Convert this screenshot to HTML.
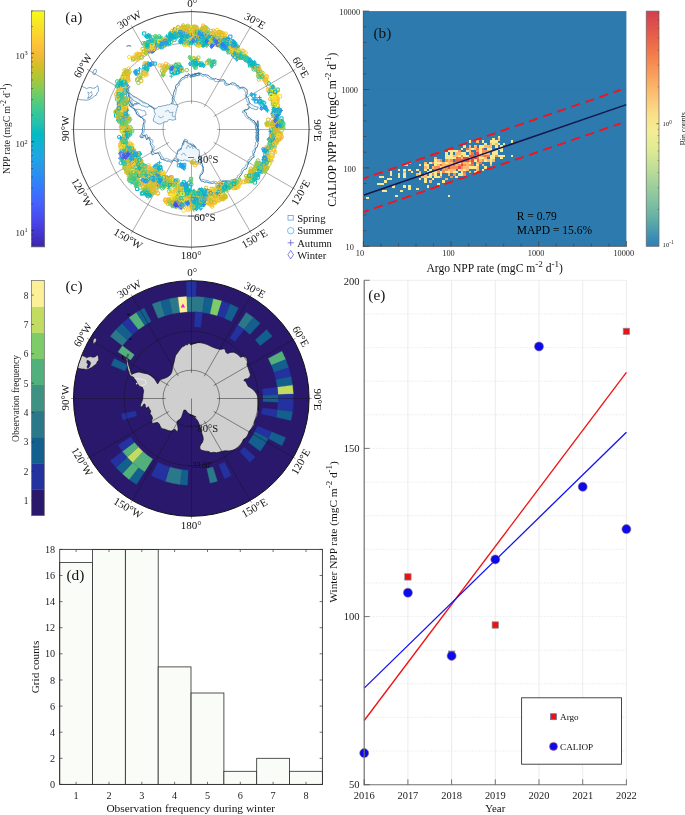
<!DOCTYPE html>
<html><head><meta charset="utf-8"><title>Figure</title>
<style>html,body{margin:0;padding:0;background:#fff}svg{display:block}text{font-family:"Liberation Serif", "DejaVu Serif", serif}</style></head><body>
<svg width="685" height="815" viewBox="0 0 685 815">
<rect width="685" height="815" fill="#fff"/>
<defs>
<linearGradient id="gpar" x1="0" y1="1" x2="0" y2="0"><stop offset="0.000" stop-color="#3e26a8"/><stop offset="0.048" stop-color="#4332cb"/><stop offset="0.095" stop-color="#4741e5"/><stop offset="0.143" stop-color="#4852f4"/><stop offset="0.190" stop-color="#4563fd"/><stop offset="0.238" stop-color="#3875fe"/><stop offset="0.286" stop-color="#2e87f7"/><stop offset="0.333" stop-color="#2797eb"/><stop offset="0.381" stop-color="#20a5e3"/><stop offset="0.429" stop-color="#12b1d6"/><stop offset="0.476" stop-color="#02bac3"/><stop offset="0.524" stop-color="#24c1ae"/><stop offset="0.571" stop-color="#37c897"/><stop offset="0.619" stop-color="#57cc7a"/><stop offset="0.667" stop-color="#81cc59"/><stop offset="0.714" stop-color="#abc739"/><stop offset="0.762" stop-color="#d1bf27"/><stop offset="0.810" stop-color="#f0ba36"/><stop offset="0.857" stop-color="#fec338"/><stop offset="0.905" stop-color="#fad62d"/><stop offset="0.952" stop-color="#f5e924"/><stop offset="1.000" stop-color="#f9fb15"/></linearGradient>
<linearGradient id="gspec" x1="0" y1="1" x2="0" y2="0"><stop offset="0.000" stop-color="#2f7fb3"/><stop offset="0.035" stop-color="#3b8cb5"/><stop offset="0.080" stop-color="#4fa0ad"/><stop offset="0.130" stop-color="#68b3a4"/><stop offset="0.200" stop-color="#86c4a0"/><stop offset="0.270" stop-color="#a3d29c"/><stop offset="0.345" stop-color="#c5e096"/><stop offset="0.415" stop-color="#e0eb93"/><stop offset="0.485" stop-color="#f3ee96"/><stop offset="0.555" stop-color="#fbe08a"/><stop offset="0.625" stop-color="#fcc878"/><stop offset="0.700" stop-color="#fbab63"/><stop offset="0.770" stop-color="#f78f54"/><stop offset="0.840" stop-color="#f0734a"/><stop offset="0.910" stop-color="#e55a4b"/><stop offset="1.000" stop-color="#d43d4f"/></linearGradient>
<clipPath id="clipA"><circle cx="191.3" cy="129.4" r="117.7"/></clipPath>
<clipPath id="clipC"><circle cx="191.3" cy="398.5" r="117.7"/></clipPath>
<clipPath id="clipB"><rect x="363.4" y="11.1" width="263" height="235.2"/></clipPath>
<clipPath id="clipE"><rect x="364.2" y="280.3" width="262.2" height="504.4"/></clipPath>
</defs>
<g id="panelA">
<rect x="31.4" y="10.9" width="13.3" height="236" fill="url(#gpar)" stroke="#666" stroke-width="0.7"/>
<line x1="31.4" x2="34" y1="53.3" y2="53.3" stroke="#222" stroke-width="0.7"/>
<text x="15.6" y="58.9" font-size="9" fill="#1a1a1a">10<tspan dy="-3.8" font-size="6.3">3</tspan></text>
<line x1="31.4" x2="34" y1="141.8" y2="141.8" stroke="#222" stroke-width="0.7"/>
<text x="15.6" y="147.4" font-size="9" fill="#1a1a1a">10<tspan dy="-3.8" font-size="6.3">2</tspan></text>
<line x1="31.4" x2="34" y1="230.4" y2="230.4" stroke="#222" stroke-width="0.7"/>
<text x="15.6" y="236" font-size="9" fill="#1a1a1a">10<tspan dy="-3.8" font-size="6.3">1</tspan></text>
<line x1="31.4" x2="32.9" y1="244.1" y2="244.1" stroke="#222" stroke-width="0.5"/>
<line x1="31.4" x2="32.9" y1="239" y2="239" stroke="#222" stroke-width="0.5"/>
<line x1="31.4" x2="32.9" y1="234.5" y2="234.5" stroke="#222" stroke-width="0.5"/>
<line x1="31.4" x2="32.9" y1="203.7" y2="203.7" stroke="#222" stroke-width="0.5"/>
<line x1="31.4" x2="32.9" y1="188.2" y2="188.2" stroke="#222" stroke-width="0.5"/>
<line x1="31.4" x2="32.9" y1="177.1" y2="177.1" stroke="#222" stroke-width="0.5"/>
<line x1="31.4" x2="32.9" y1="168.5" y2="168.5" stroke="#222" stroke-width="0.5"/>
<line x1="31.4" x2="32.9" y1="161.5" y2="161.5" stroke="#222" stroke-width="0.5"/>
<line x1="31.4" x2="32.9" y1="155.6" y2="155.6" stroke="#222" stroke-width="0.5"/>
<line x1="31.4" x2="32.9" y1="150.4" y2="150.4" stroke="#222" stroke-width="0.5"/>
<line x1="31.4" x2="32.9" y1="145.9" y2="145.9" stroke="#222" stroke-width="0.5"/>
<line x1="31.4" x2="32.9" y1="115.2" y2="115.2" stroke="#222" stroke-width="0.5"/>
<line x1="31.4" x2="32.9" y1="99.6" y2="99.6" stroke="#222" stroke-width="0.5"/>
<line x1="31.4" x2="32.9" y1="88.5" y2="88.5" stroke="#222" stroke-width="0.5"/>
<line x1="31.4" x2="32.9" y1="80" y2="80" stroke="#222" stroke-width="0.5"/>
<line x1="31.4" x2="32.9" y1="72.9" y2="72.9" stroke="#222" stroke-width="0.5"/>
<line x1="31.4" x2="32.9" y1="67" y2="67" stroke="#222" stroke-width="0.5"/>
<line x1="31.4" x2="32.9" y1="61.9" y2="61.9" stroke="#222" stroke-width="0.5"/>
<line x1="31.4" x2="32.9" y1="57.4" y2="57.4" stroke="#222" stroke-width="0.5"/>
<line x1="31.4" x2="32.9" y1="26.6" y2="26.6" stroke="#222" stroke-width="0.5"/>
<line x1="31.4" x2="32.9" y1="11.1" y2="11.1" stroke="#222" stroke-width="0.5"/>
<text x="10" y="128.8" font-size="9.55" text-anchor="middle" fill="#1a1a1a" transform="rotate(-90 10 128.8)">NPP rate (mgC m<tspan dy="-4.2" font-size="76%">-2</tspan><tspan dy="4.2"> d</tspan><tspan dy="-4.2" font-size="76%">-1</tspan><tspan dy="4.2">)</tspan></text>
<text x="65.3" y="22.2" font-size="15.3" text-anchor="start" fill="#1a1a1a">(a)</text>
<g stroke="#2a2a2a" stroke-width="0.4" fill="none">
<circle cx="191.3" cy="129.4" r="28.3"/>
<circle cx="191.3" cy="129.4" r="86.8"/>
<line x1="191.5" y1="103.7" x2="191.5" y2="9.2"/>
<line x1="204.2" y1="107.1" x2="251.4" y2="25.3"/>
<line x1="213.6" y1="116.5" x2="295.4" y2="69.3"/>
<line x1="217" y1="129.5" x2="311.5" y2="129.5"/>
<line x1="213.6" y1="142.3" x2="295.4" y2="189.5"/>
<line x1="204.2" y1="151.7" x2="251.4" y2="233.5"/>
<line x1="191.5" y1="155.1" x2="191.5" y2="249.6"/>
<line x1="178.4" y1="151.7" x2="131.2" y2="233.5"/>
<line x1="169" y1="142.3" x2="87.2" y2="189.5"/>
<line x1="165.6" y1="129.5" x2="71.2" y2="129.5"/>
<line x1="169" y1="116.5" x2="87.2" y2="69.3"/>
<line x1="178.4" y1="107.1" x2="131.2" y2="25.3"/>
</g>
<path d="M189.9 75.8L191.3 75.3L192.7 74.2L193.2 74.6L195.2 73.5L197.9 73.3L199.4 73.5L200.9 73.3L202.7 74.6L204.3 74.8L205.6 74.4L206.9 75.4L207.5 75.1L209.4 76.2L210.4 77.3L211.5 78L212.6 78.4L214.1 79.1L216.1 78.6L216.7 79.2L219.4 79.9L220.8 80.1L222.4 79.8L223.9 79.7L225.4 81.4L225.8 82.6L226.3 83.9L227.8 84.1L229.5 84.4L231 83.4L232.3 82.8L233.9 83.1L234.7 83.2L236.8 85L237.1 85.7L238.6 85.8L239.3 87.5L240.9 87.6L241.8 87.2L243.1 87.2L245.6 88.3L246 89.3L246.7 89.2L247.3 90.6L247.1 92.5L247.3 93.7L246.3 96L247.3 97.6L248.5 98.3L248.4 99.7L249 100.9L249.3 102.1L250.1 103.2L249.9 104.6L250.1 105.2L250.7 106.7L249.9 107.2L248.5 108.8L246.9 109.7L245.3 109.4L243.9 111.3L245.9 112.3L246.6 113.9L246.3 114.3L247.7 116.5L247.8 117.1L249.6 117.8L250.8 118.7L251.8 119.8L252.7 120.3L254.2 120.7L254.8 122.5L255.2 122.9L256.6 123.9L256.4 125.3L257.5 126L257.5 127.5L258.4 129.3L258.6 130.8L258.1 132.9L258.9 134.2L258.2 135.4L258.5 136.8L258.8 138.9L257.9 139.5L258.6 141.3L258.5 139.7L257.7 138.4L258.4 137.1L257.8 136L257.9 134.7L258.4 133.2L257.3 132.9L258.3 131.7L257.7 130.4L258.2 128.3L258 127.8L257.8 126.1L257.3 124.7L257.2 123.1L257.6 122.1L257.8 120.6L258.2 122.9L258.5 124.7L258.7 125.9L257.8 127.6L258.1 128.6L258.8 130.5L258.4 132.5L258.5 133.4L257.9 135.5L258.1 137L257.9 137.9L258 140.2L257.5 141.9L258.3 143.7L257.8 144.5L257.2 147.2L255.8 148L255.4 149.7L255 151.1L254.8 152L253.8 153.6L253.8 155L254.1 157.1L252.2 157.9L251.6 158.8L250.8 160.4L250.2 160.9L248.9 161.8L248.4 163.2L248.7 164.2L247.4 165.1L247.3 166.8L246.9 167.7L246.1 169.1L244.5 169.4L243.4 170.4L242.7 171.8L242.2 172.8L241.4 174.8L240 175.9L239.2 177.6L238.7 178.2L237.2 179.6L234.9 180L233.3 181L232.5 181.7L230.9 181.7L229.1 181.9L226.6 181.8L224.7 181.2L224.2 181.3L221.9 181.6L221.4 182.1L218.9 183.4L217.5 183.7L216.7 184L215.6 183.5L214 182.7L212.5 183.4L210.9 183.1L209.2 182.9L206.1 181.9L204.3 182.2L202.8 181.2L201.6 181.4L200.5 180L199.7 177.6L200.1 176.5L200.3 175.4L202.2 174.1L202.8 172.7L203.2 171.9L203.5 170.2L203.1 168.9L203.3 166.8L201.9 166.1L202.4 164.3L201.6 163.1L201 161.1L200.6 160L200.3 158.2L200.2 157.6L199.1 155.8L198.7 154.5L198.3 152.4L197.1 150.9L196.6 150.2L195.4 149.3L194.7 148.9L193.3 148.4L192.6 147.1L191.4 147L190.6 146.3L191.4 146.8L193 146.8L194.1 147.8L194.9 147.3L195.8 148.2L195.2 147.9L194.3 146.5L192.3 145.9L190.8 145.9L190.2 145.5L188.3 144.6L187.2 143.2L186.8 141.6L185.2 141.4L183.6 140.8L183.6 142.3L182.5 143.1L182.7 144.4L182 145.7L182.5 146.7L181.6 147.5L180.4 149.3L179.3 150.8L178.6 150.7L177.4 152.5L177.5 154.7L177.2 156.3L178 158.3L177.8 159.9L178.4 161.3L177.8 162.1L176.3 161.8L175.4 160.4L173.5 160.4L172.4 161.5L170.7 162.4L169.8 161.2L168.7 161L166.5 161.1L165.3 160.3L163.9 159.9L162.1 159.3L160.9 159L160.8 157.9L160.2 156.3L159.1 154.8L158.9 153.5L157.6 152.9L156.5 153.3L154.5 153.7L153.6 154.4L152.2 154.8L151.5 152.8L151.1 151.2L152.5 150.7L152.3 148.8L152 148L151.9 146.5L150.1 144L150.3 142.9L150.9 142.2L149.8 140.7L149.8 139.2L149.2 139.1L148.8 137.3L147.5 138.4L146.7 139.8L145.6 137.2L145.6 136.1L145.1 135.2L143 135.4L142.9 136.6L141.9 138L140 136.9L140.1 135.7L141.2 134.5L141.6 134L142.4 131.9L142.8 131.3L142.3 129.4L142.6 127.6L143.1 127.1L142.9 125.5L143.7 122.9L144.2 121.7L143.8 120.7L143.2 119.1L142.8 118.6L141.4 117.5L139.8 117.1L138 115.3L136.9 114.2L136.4 113.4L136.5 112.3L135.6 111.3L134.6 110L134.3 108.8L132.8 108.3L132 107.2L129.9 106.4L129.2 104L128.2 102.8L128.8 101.5L128 100.2L127.4 98.7L127.3 97.2L126.5 95.7L126.4 94.7L126 92.6L126.4 91.6L126.6 89.8L126.4 88.7L126.2 87.9L126.9 85.8L127.7 84.8L128.8 85.2L127.5 86L128 87.6L127.8 89.1L128.2 90.3L127.5 91.8L128.5 93.7L128.2 94.5L129.1 97L129.4 97.3L129.2 98.9L129.9 100.3L130.1 102.5L131.5 103.4L132.1 105.5L132.9 105.4L134.8 103.5L135.2 103.9L137.1 102.9L138.7 103.3L139.9 103.2L141.7 103.9L143.8 103.6L145.1 104.6L146.6 104.7L148.2 104.7L148.8 105.2L150.4 106L150.9 106.5L152.6 107.9L153.8 108.8L154.7 109.7L155.7 110.7L156.2 112.8L157.1 113.2L157.3 115.2L159 113.5L159.8 111.8L160.4 111L160.9 110.2L161.8 109.8L164.3 109L165.3 108.5L165.9 108.6L167.2 107.3L168.3 107.1L170 105.5L170.4 105.5L171.3 103.8L171.8 102.9L172.3 101.7L172.4 99.6L172.2 98L173.4 96.5L172.8 96.1L173.4 94.6L173.7 92.6L174.2 91.3L175 89.3L175.6 88.1L175.5 86.3L176.5 84.6L177.9 84L178.7 82.4L179.3 81.5L180.4 79.9L180.8 79.2L181.3 78.4L183 77.4L184.7 77L185.3 75.2L188 75.9L187.9 74.5L188.2 73.5L190.8 75.4L191.9 75.4L192.8 75L193.9 74.1L195.5 74.4L196.8 73.6L198 73.3L199.5 73.6L200 73.3L198.6 72.7L198 73.3L196.5 74L194.7 74.5L193.7 74.5L192.6 75.3L191.8 75.1Z" fill="none" stroke="#2f76a6" stroke-width="0.95" stroke-linejoin="round"/>
<path d="M190.2 77.2L191.9 77.1L192.6 76.7L193.3 75.9L195.5 75.6L196.6 75.1L198.3 75.9L200.7 74.9L202.7 76.4L204.1 76.1L204.7 75.6L206.2 76.4L206.9 77.2L208 77.5L209.4 79.1L210.8 79L212.2 79.6L213.6 79.6L215.2 81.6L216.6 81.5L217.6 81.5L219.4 81.5L222 81L223.6 80.8L224.8 82.8L224.2 82.9L225 85L227.1 85.6L227.7 85.1L229.5 84.6L230.6 84L232.5 84.9L233.3 84.7L234.7 85.2L236.7 86.1L237.5 87.3L238.1 88.4L239 89.2L239.6 89L241.3 88.1L244.1 89.3L244.6 90L244.8 90.9L245.8 92.5L245.4 94.3L245.2 94.9L245.6 96.3L245.6 97.5L246.4 99.2L246.6 100.5L246.9 101.7L248.4 102.6L247.8 104.4L247.7 104.8L249.3 106.5L248.3 106.9L248.5 108.9L246.8 109.7L245.8 110.4L243.5 110L242 112.3L244.1 113.1L244.2 114.5L244.9 115.2L245.4 116.6L245.9 117.2L247.8 118.8L249.2 119L250.9 119.6L250.6 120.5L252.1 121L252.5 122.3L254.1 122.9L254.6 124.7L255.7 125.6L255.3 126.7L255.7 127.2L255.6 129.9L256.9 131.6L256.4 132.8L257.1 134.4L256.3 136.2L256 137L257 138.7L256.7 139.7L256.7 141.2L255.9 139.7L256.4 138.7L256.3 137.5L256.2 136L255.9 134.5L256.2 133.6L255.3 132.4L256.6 131.5L256.4 129.7L256.4 128.7L255.5 127.8L255.7 126.4L255.7 125.1L255.5 123.5L255.7 122.6L255.8 121.8L255.4 122.3L256.4 124.5L256.4 125.5L257.2 127.6L256.7 129.3L256.9 130.6L256.8 131.9L257.1 133.9L256.5 134.8L256.1 136.2L255.7 138L256.6 139.9L256.6 141.8L255.4 142.5L255.6 144.4L254.8 146.2L255.2 147.9L254 149.6L253.7 150.5L252.1 151.4L252.8 152.8L252.8 154.9L251.7 156.4L250.5 156.7L250 157.6L249.9 159.2L248.1 159.8L248 161.2L247.2 162.3L247.6 164.1L246.5 164.1L245.6 165.1L245 167L244.5 167.6L242.8 168.3L242 168.9L241.5 170.7L240.9 172.4L240.6 173L239.4 174.7L237.4 175.6L237.3 177.8L235.6 178.3L234.7 179.4L233.4 179.6L231.4 179.6L229.9 180.7L227.7 180.4L225.7 180.6L225 180.9L222.9 180.6L221.4 181.1L220.4 180.8L218.3 181.6L217.4 182.3L215.9 181.7L214.7 181.4L213.2 181.1L211.3 182L209.8 181.9L208.3 180.8L206.4 180.3L204.3 179.9L203.1 179.1L201.4 180L199.6 178.6L199.7 176.4L200.3 174.7L200.3 173.8L201.6 172.8L201.8 172L202.9 169.8L203 168.3L202.8 167.4L202.5 165.1L202.5 164.3L201.2 162.6L201.2 161.3L201 159.2L200.4 158.1L200.4 156.9L199.3 155.7L198.4 153.7L198.6 152.9L197.6 150.6L196.5 149.5L196.7 148.4L195.7 147L194.3 146.5L193.7 145.8L192.3 145.8L191 144.8L190 144L191.1 144.6L192.5 145.3L193.4 145L194.7 145.9L195.5 146.8L194.9 146.1L193.9 144.9L192.9 143.9L191.5 144.3L190.4 143L188.6 143.3L187.6 142L187.6 140.1L186.1 139.6L184.5 139.1L184.7 140.6L184.2 141.6L183.3 143.5L182.6 143.8L182.9 145.9L183 145.8L181.7 147.6L180.8 148.8L178.6 149.3L177.3 150.8L178.1 153L178.4 154.2L178.2 155.9L179.3 158.2L178.9 159.4L177.9 161.5L177 160.7L175.9 158.5L174.4 158.9L173.4 159.1L172.3 160.8L170.3 160L169.5 159.7L167.6 158.8L166.5 158.2L165.5 158.8L163.6 158.9L163.1 157.2L161.9 156.8L161.9 155.6L160.7 154.1L160.5 153.1L159.8 151.8L157.7 153.2L156.2 153.2L155.1 153.1L154 153L153 152.3L152.6 150.7L153.5 149.9L153.8 148.9L154.3 146.6L153.5 145.5L151.7 143.7L152.3 143L153.1 141.8L152.5 139.9L151 139.7L150.2 138.2L149.6 136.8L149.1 137.5L147.8 139.3L147.5 137.1L147.3 136L147.1 134.9L146 134.4L144.3 136.6L143.2 138.2L141.4 136.6L142.1 135.5L142.7 133.9L143.6 133.2L144.1 132.3L144 130.9L144.7 129.6L144.6 128.3L144.4 126.1L144.3 124.7L144.7 123.8L145.1 122.3L145 120.2L145.5 120.2L143.3 118.8L142.9 118.1L142.1 117.4L140.4 116.8L138.9 114.9L139 114.3L137.6 112.2L137.6 111.6L136.3 110.1L135.5 109L134.3 108.5L133.3 107.7L131.4 106.8L130.9 104.9L130.9 104.3L130.6 102.5L129.1 101.6L129.3 99.8L129 98.2L129 97.1L128.5 95.7L128 93.5L127.4 93L128.2 91.6L127.6 89.3L127.8 88.1L129.1 87L129.5 85.9L129.9 86.8L129.7 87.9L128.7 88.5L128.7 89.9L129.1 91.7L129.2 92.7L130.2 94.6L130.5 95.6L130.1 96.8L130.8 98.4L131.8 100.8L131.8 101.6L132.6 103.5L132.5 104.3L133 106.6L133.5 105.1L135.7 104.7L137.1 104.2L138.3 103.6L140.3 103.9L141.8 104.1L143.3 104.6L144.3 104.3L146.2 105.4L147.8 105.1L149.2 105.7L150.7 106.7L151.7 106.7L152.7 107.4L153.7 108.6L155.7 110.3L156.1 110.9L156.6 111.8L157.4 113L158.5 114.6L159.6 115.6L160.7 113.9L160.7 113.1L162.1 111.5L162.1 111.3L163.5 110.8L165.9 110.8L166.7 109.4L167.5 109.6L168.3 108.4L170.2 108.6L170.7 107.6L171.3 106.3L173 105L172.6 104.3L173.1 102.9L173.4 101.5L174.1 100.4L174 98.9L174.5 97.5L174.9 95.3L175.4 94.6L175.8 93.2L175.9 91.2L176.6 89.8L176.5 88.5L177.5 86.5L178 85.5L179.2 85.3L179.6 83.1L180.1 81.6L181.1 81.3L181.7 79.9L182.6 79.4L185 78.5L185.4 77.2L187.6 77.9L187.6 76.7L188.3 75.4L190.1 77.4L191.6 76L192.3 76.5L193.4 76.3L194.7 76L196.5 75.6L197.1 75.9L199.2 74.5L200.1 74.6L198.8 74.5L197.1 75.5L196.7 75.5L195.1 76.3L193.7 76.8L192.9 76.1L191 76.6Z" fill="none" stroke="#2f76a6" stroke-width="0.55" stroke-linejoin="round"/>
<path d="M154.2 108.9L155.9 108.4L157.4 107.7L158.2 106.6L161.1 106.5L163 105.7L164.6 105.5L166.1 105.4L167 104.7L168.7 104.9L170.7 103.8L172.4 103.9L174 104L175.2 104.9L177.1 104.4L177.7 106.8L176.8 108.6L176.8 110.1L175.9 111.9L175.9 113.5L175.5 114.4L175.3 115.8L175.3 117.3L175.8 119.4L173.6 120L172 120.2L171.1 119.8L169.1 119.3L168.3 120.3L167.4 121.7L164.2 121.9L161.7 123.6L160.6 124L158.8 124L157 123.3L154.9 121.9L153.3 121.1L153.4 118.7L154.3 117.2L154.4 115.7L155.5 114.4L154.2 111.5Z" fill="#eef6fb" stroke="#2f76a6" stroke-width="0.6" stroke-linejoin="round"/>
<path d="M184.8 140.8L186.3 142L187.6 143L188.2 143.6L190.6 144.6L192.1 145L193.1 146L194.6 147.2L195.5 147.8L197.1 149.4L199 149.7L199.3 151.7L199.4 153.7L199 156L199.3 156.9L200.3 159.1L200 160.9L200.6 162.4L200.7 164.4L199.6 164.2L198.2 163.2L196.1 162.8L194.2 162.4L192.9 162.5L191.2 162.1L190 161.3L189 161.1L187 160.9L185.8 160.3L184.6 160L182.8 160.6L180.5 160.4L179.3 160L176.6 158.2L176.5 157.4L176.2 155.5L177.5 153.9L177.4 151.6L178.8 151L179.6 150L181.5 149.2L181.5 147.7L182.3 145.5L183.6 144.5L183.9 142.8Z" fill="#eef6fb" stroke="#2f76a6" stroke-width="0.6" stroke-linejoin="round"/>
<path d="M129.4 92.6L130.9 94.2L132.2 95.5L132.8 96.4L135.4 97.5L137 98L138.3 99.1L140 100.5L141.1 101.1L143.1 102.8L145.6 103.1L147.6 104L148.9 104.8L149.8 106.3L148.5 106.1L147.8 107.3L145.4 106.9L144 106.1L142 105.8L140.8 105L139.4 103.5L137.2 102.6L135.6 101.5L134.4 101L132.8 100.1L132 98.5L131.3 97.5L129.6 96.4L129.8 94Z" fill="#eef6fb" stroke="#2f76a6" stroke-width="0.6" stroke-linejoin="round"/>
<path d="M250.4 103.6L251.9 104.7L253.2 105.5L253.8 105.9L256.5 106.8L258.2 107L257.3 109.6L255.3 109.5L252.8 108.6L251.1 108.3L249.6 106.6L248.3 105.5L246.9 104.5L248.1 104.5Z" fill="#eef6fb" stroke="#2f76a6" stroke-width="0.6" stroke-linejoin="round"/>
<path d="M134.5 109.8L135.7 109.7L137 109.4L139.1 109.4L140.1 109.8L141.3 110.1L142.4 110.7L143.6 110.5L144.9 110.9L145.6 112.6L145.9 113.1L146.1 115L144.6 115.3L143.5 115.9L142.2 116.6L141 117.1L140.1 116.4L138.2 115.2L137.7 114.9L136.3 113.8L135.9 112.1L135.6 110.5Z" fill="none" stroke="#2f76a6" stroke-width="0.6" stroke-linejoin="round"/>
<path d="M165 112l3 -2l2 3l3 -1l-1 4l3 1M158 116l3 2l3 -2M186 149l2 -4l2 3l2 -3l1 4M181 155l3 -2l2 3" fill="none" stroke="#2f76a6" stroke-width="0.5"/>
<g clip-path="url(#clipA)"><path d="M79.2 84.8L80.8 85.5L83.2 86.9L84.8 87.5L86.5 88.7L88.5 87.8L90.3 87.5L92.6 88.2L94.9 88L96.3 86.8L97.7 85.6L98.3 87.5L98.5 89.6L98.8 90.9L97.7 91.9L96.9 93.3L96.1 95.4L94.7 95.7L93.3 97.2L91.7 98.3L90.3 99L88.6 99.9L87.8 100L85.9 100.3L84 99.9L82.3 100L80.8 99.7L79.1 99.5L78 99L75.6 99.5L73.5 99.4L72.7 97.6L72.8 95.8L72.6 94.2L72.3 92.6L72 91.2L71.3 89.4L72.7 88.6L73.6 87.5L75.1 87.2L76.4 85.7L77.8 85.4Z" fill="none" stroke="#2f76a6" stroke-width="0.65"/>
<path d="M87.8 91.9l2 1.5l1.5 -2l1 3l-2 3l-2.5 1l1 -3z M87.3 98.4l3 -1.5l2 -2" fill="none" stroke="#2f76a6" stroke-width="0.5"/></g>
<ellipse cx="94.7" cy="71.9" rx="1.5" ry="2.9" transform="rotate(22 94.7 71.9)" fill="none" stroke="#2f76a6" stroke-width="0.6"/>
<path d="M126.5 46.3 q2.3 -1.2 4.6 -0.2" fill="none" stroke="#2f76a6" stroke-width="1"/>
<g fill="none" stroke-width="1" clip-path="url(#clipA)">
<g stroke="#dabd28">
<path d="M223.1 184.7h3.2v3.2h-3.2zM273.9 129.3h3.2v3.2h-3.2zM215.9 183h3.2v3.2h-3.2zM185.2 40.6h3.2v3.2h-3.2zM173.6 199.3h3.2v3.2h-3.2zM178 195h3.2v3.2h-3.2zM117.7 112.2h3.2v3.2h-3.2zM153.8 180.5h3.2v3.2h-3.2zM185.5 40.9h3.2v3.2h-3.2zM261 75.1h3.2v3.2h-3.2zM199.8 31.2h3.2v3.2h-3.2zM173.4 68.1h3.2v3.2h-3.2zM167.2 177.1h3.2v3.2h-3.2zM160.7 41.3h3.2v3.2h-3.2zM168.8 181.2h3.2v3.2h-3.2zM205.7 194.7h3.2v3.2h-3.2zM210.2 203.4h3.2v3.2h-3.2zM275.6 120.2h3.2v3.2h-3.2zM274 121.2h3.2v3.2h-3.2zM258.5 69h3.2v3.2h-3.2zM221.1 188.8h3.2v3.2h-3.2zM124.1 78.1h3.2v3.2h-3.2zM182 26.9h3.2v3.2h-3.2zM141 47.6h3.2v3.2h-3.2zM249.2 174.2h3.2v3.2h-3.2zM121.7 97h3.2v3.2h-3.2zM169.8 179.7h3.2v3.2h-3.2zM177.6 202.3h3.2v3.2h-3.2zM123.6 156h3.2v3.2h-3.2zM169.4 183.4h3.2v3.2h-3.2zM190.1 35.2h3.2v3.2h-3.2zM207.4 40h3.2v3.2h-3.2zM119.3 149.7h3.2v3.2h-3.2zM186.4 197.1h3.2v3.2h-3.2zM116.9 88.6h3.2v3.2h-3.2zM146.4 48.3h3.2v3.2h-3.2zM129.1 164h3.2v3.2h-3.2z"/>
<circle cx="196.7" cy="32.7" r="1.75"/><circle cx="234.8" cy="182.4" r="1.75"/><circle cx="202.9" cy="45.4" r="1.75"/><circle cx="270.7" cy="138.9" r="1.75"/><circle cx="273.3" cy="142.3" r="1.75"/><circle cx="231.2" cy="50.2" r="1.75"/><circle cx="280.9" cy="133.7" r="1.75"/><circle cx="217.8" cy="45.2" r="1.75"/><circle cx="274.3" cy="112.4" r="1.75"/><circle cx="262.9" cy="168.9" r="1.75"/><circle cx="146.4" cy="63.6" r="1.75"/><circle cx="192.7" cy="198.6" r="1.75"/><circle cx="249.1" cy="175.4" r="1.75"/><circle cx="217.8" cy="187.9" r="1.75"/><circle cx="121.5" cy="120.9" r="1.75"/><circle cx="126.1" cy="76.3" r="1.75"/><circle cx="214.9" cy="202.9" r="1.75"/><circle cx="275.3" cy="121.8" r="1.75"/><circle cx="128.3" cy="80.6" r="1.75"/><circle cx="252.8" cy="65.8" r="1.75"/><circle cx="152.5" cy="184.4" r="1.75"/><circle cx="121.7" cy="108" r="1.75"/><circle cx="237.5" cy="55.2" r="1.75"/><circle cx="118" cy="117.9" r="1.75"/><circle cx="174" cy="202.3" r="1.75"/><circle cx="219.3" cy="36" r="1.75"/><circle cx="184.6" cy="36.9" r="1.75"/><circle cx="237.8" cy="181.7" r="1.75"/><circle cx="159.1" cy="172.1" r="1.75"/><circle cx="188.9" cy="44.1" r="1.75"/><circle cx="167.5" cy="200.9" r="1.75"/><circle cx="144.4" cy="176.2" r="1.75"/><circle cx="235.4" cy="50.5" r="1.75"/><circle cx="199.3" cy="41.6" r="1.75"/><circle cx="177.3" cy="197.7" r="1.75"/><circle cx="275.4" cy="114.1" r="1.75"/><circle cx="126.2" cy="170.1" r="1.75"/><circle cx="271.9" cy="90.5" r="1.75"/><circle cx="184" cy="29.4" r="1.75"/><circle cx="178.6" cy="197.2" r="1.75"/><circle cx="211.4" cy="197.7" r="1.75"/><circle cx="172" cy="204.7" r="1.75"/><circle cx="216.5" cy="200.8" r="1.75"/><circle cx="128.2" cy="73" r="1.75"/><circle cx="204.3" cy="40.1" r="1.75"/><circle cx="268.1" cy="119.6" r="1.75"/><circle cx="147" cy="52.3" r="1.75"/><circle cx="277.1" cy="124.5" r="1.75"/><circle cx="271.9" cy="145.1" r="1.75"/><circle cx="151.8" cy="186.6" r="1.75"/><circle cx="193.4" cy="36.9" r="1.75"/><circle cx="181.2" cy="192.5" r="1.75"/><circle cx="151.9" cy="177.8" r="1.75"/><circle cx="132.3" cy="172.1" r="1.75"/><circle cx="222.7" cy="190" r="1.75"/><circle cx="222" cy="35.7" r="1.75"/><circle cx="141" cy="182.1" r="1.75"/><circle cx="180.8" cy="188.2" r="1.75"/><circle cx="229.7" cy="47.6" r="1.75"/><circle cx="177.4" cy="203.6" r="1.75"/><circle cx="132.9" cy="163.3" r="1.75"/><circle cx="135.1" cy="171" r="1.75"/><circle cx="127.3" cy="130.4" r="1.75"/><circle cx="130.2" cy="159.2" r="1.75"/><circle cx="150.2" cy="183.9" r="1.75"/>
</g>
<g stroke="#f8ba3d">
<path d="M154.2 170h3.2v3.2h-3.2zM144.5 44.1h3.2v3.2h-3.2zM172 192.8h3.2v3.2h-3.2zM272.2 128.8h3.2v3.2h-3.2zM120.2 90.1h3.2v3.2h-3.2zM126.4 160.5h3.2v3.2h-3.2zM257.6 162.7h3.2v3.2h-3.2zM133.1 173.9h3.2v3.2h-3.2zM157.9 176.6h3.2v3.2h-3.2zM236.1 54h3.2v3.2h-3.2zM274.9 97.8h3.2v3.2h-3.2zM191.3 203.9h3.2v3.2h-3.2zM123 85.1h3.2v3.2h-3.2zM169.9 175.5h3.2v3.2h-3.2zM176.3 196.6h3.2v3.2h-3.2zM179.3 195.2h3.2v3.2h-3.2zM161.6 39.8h3.2v3.2h-3.2zM224.6 183.3h3.2v3.2h-3.2zM129.6 148.7h3.2v3.2h-3.2zM199.8 202.6h3.2v3.2h-3.2zM120.8 147.5h3.2v3.2h-3.2zM177.6 195.4h3.2v3.2h-3.2zM224.3 187.1h3.2v3.2h-3.2zM170.9 202.5h3.2v3.2h-3.2zM123 72.7h3.2v3.2h-3.2zM274.7 118.9h3.2v3.2h-3.2zM273 110.6h3.2v3.2h-3.2z"/>
<circle cx="186.3" cy="34.3" r="1.75"/><circle cx="196.1" cy="26.9" r="1.75"/><circle cx="148.7" cy="42.4" r="1.75"/><circle cx="166" cy="63.8" r="1.75"/><circle cx="133.9" cy="161.2" r="1.75"/><circle cx="150.3" cy="180.8" r="1.75"/><circle cx="173.2" cy="203.9" r="1.75"/><circle cx="211.4" cy="191.8" r="1.75"/><circle cx="132.3" cy="150.2" r="1.75"/><circle cx="223.8" cy="185.4" r="1.75"/><circle cx="206.5" cy="201.8" r="1.75"/><circle cx="123.1" cy="109" r="1.75"/><circle cx="152.9" cy="186.8" r="1.75"/><circle cx="151.5" cy="186.3" r="1.75"/><circle cx="180.1" cy="202.5" r="1.75"/><circle cx="144.6" cy="63.8" r="1.75"/><circle cx="219" cy="42.9" r="1.75"/><circle cx="221.4" cy="32.4" r="1.75"/><circle cx="120.7" cy="105.9" r="1.75"/><circle cx="178.7" cy="67.8" r="1.75"/><circle cx="140.3" cy="54.8" r="1.75"/><circle cx="162.4" cy="65.6" r="1.75"/><circle cx="118.7" cy="111.2" r="1.75"/><circle cx="131.1" cy="149.9" r="1.75"/><circle cx="182.4" cy="28.3" r="1.75"/><circle cx="223.4" cy="34.1" r="1.75"/><circle cx="251.1" cy="176" r="1.75"/><circle cx="127" cy="74.5" r="1.75"/><circle cx="167.9" cy="201.3" r="1.75"/><circle cx="132" cy="163.4" r="1.75"/><circle cx="121.7" cy="123.5" r="1.75"/><circle cx="208.5" cy="43" r="1.75"/><circle cx="117.8" cy="113.5" r="1.75"/><circle cx="276.1" cy="117.5" r="1.75"/><circle cx="124" cy="131.6" r="1.75"/><circle cx="276.5" cy="133" r="1.75"/><circle cx="220.1" cy="35.6" r="1.75"/><circle cx="191.3" cy="197.2" r="1.75"/><circle cx="126" cy="71" r="1.75"/><circle cx="275.8" cy="100.4" r="1.75"/><circle cx="146.8" cy="187.4" r="1.75"/><circle cx="216.9" cy="198.6" r="1.75"/><circle cx="193.1" cy="202.1" r="1.75"/><circle cx="131.4" cy="169.3" r="1.75"/><circle cx="124.5" cy="154.7" r="1.75"/><circle cx="206.8" cy="190.5" r="1.75"/><circle cx="278.1" cy="133.7" r="1.75"/><circle cx="281" cy="138" r="1.75"/><circle cx="133.4" cy="173.6" r="1.75"/><circle cx="229.9" cy="46.5" r="1.75"/><circle cx="131.1" cy="166.9" r="1.75"/><circle cx="191" cy="199.8" r="1.75"/><circle cx="124.3" cy="135.4" r="1.75"/><circle cx="220.6" cy="41.7" r="1.75"/><circle cx="272" cy="95.3" r="1.75"/><circle cx="267.5" cy="123.5" r="1.75"/><circle cx="222.6" cy="36.5" r="1.75"/><circle cx="208.2" cy="195.7" r="1.75"/><circle cx="157.9" cy="184.1" r="1.75"/><circle cx="183.3" cy="201.6" r="1.75"/><circle cx="275.4" cy="134.6" r="1.75"/><circle cx="150.6" cy="168.6" r="1.75"/><circle cx="180.7" cy="30.2" r="1.75"/><circle cx="236" cy="184.8" r="1.75"/><circle cx="203.2" cy="25.6" r="1.75"/><circle cx="239.7" cy="182.2" r="1.75"/><circle cx="273.9" cy="134.5" r="1.75"/><circle cx="181.2" cy="196.4" r="1.75"/><circle cx="170.6" cy="194.1" r="1.75"/><circle cx="196.2" cy="42.6" r="1.75"/><circle cx="135.5" cy="155.5" r="1.75"/>
</g>
<g stroke="#feca33">
<path d="M149.2 176.2h3.2v3.2h-3.2zM275 141h3.2v3.2h-3.2zM125.4 157.2h3.2v3.2h-3.2zM212.9 201.2h3.2v3.2h-3.2zM121.8 104.6h3.2v3.2h-3.2zM184.7 38h3.2v3.2h-3.2zM176.7 200.1h3.2v3.2h-3.2zM199 28.3h3.2v3.2h-3.2zM214.7 192.9h3.2v3.2h-3.2zM147.9 190.4h3.2v3.2h-3.2zM119.8 85.9h3.2v3.2h-3.2zM212.1 187.6h3.2v3.2h-3.2zM153.9 180.5h3.2v3.2h-3.2zM277.1 137.3h3.2v3.2h-3.2zM143.7 165.3h3.2v3.2h-3.2zM215.7 39.2h3.2v3.2h-3.2zM180.2 194.8h3.2v3.2h-3.2z"/>
<circle cx="150.9" cy="174.8" r="1.75"/><circle cx="148.4" cy="183.8" r="1.75"/><circle cx="143.5" cy="72.6" r="1.75"/><circle cx="163.2" cy="41.3" r="1.75"/><circle cx="273.1" cy="128.3" r="1.75"/><circle cx="220.5" cy="194.8" r="1.75"/><circle cx="145.8" cy="63.9" r="1.75"/><circle cx="127.1" cy="79.7" r="1.75"/><circle cx="194.4" cy="34.7" r="1.75"/><circle cx="216" cy="197.4" r="1.75"/><circle cx="243.8" cy="54" r="1.75"/><circle cx="176.4" cy="205.3" r="1.75"/><circle cx="156.8" cy="178.5" r="1.75"/><circle cx="169.7" cy="186.3" r="1.75"/><circle cx="202" cy="43.1" r="1.75"/><circle cx="220.2" cy="44.1" r="1.75"/><circle cx="123.8" cy="106.4" r="1.75"/><circle cx="277.7" cy="123.3" r="1.75"/><circle cx="146.3" cy="75.1" r="1.75"/><circle cx="145.3" cy="178.5" r="1.75"/><circle cx="270" cy="159.6" r="1.75"/><circle cx="121.5" cy="100.7" r="1.75"/><circle cx="135.9" cy="154" r="1.75"/><circle cx="126.6" cy="105.4" r="1.75"/><circle cx="123.4" cy="145.6" r="1.75"/><circle cx="275.2" cy="137" r="1.75"/><circle cx="143.5" cy="75.8" r="1.75"/><circle cx="122.1" cy="108.5" r="1.75"/><circle cx="179.3" cy="198.4" r="1.75"/><circle cx="184.2" cy="29.9" r="1.75"/><circle cx="245.6" cy="52.6" r="1.75"/><circle cx="206.6" cy="202.7" r="1.75"/><circle cx="145.4" cy="175.6" r="1.75"/><circle cx="183.2" cy="194.6" r="1.75"/><circle cx="152.1" cy="50.5" r="1.75"/><circle cx="122.5" cy="113.7" r="1.75"/><circle cx="195.9" cy="203.8" r="1.75"/><circle cx="272.6" cy="125.2" r="1.75"/>
</g>
<g stroke="#b4c533">
<path d="M272.1 121.9h3.2v3.2h-3.2zM271.5 101h3.2v3.2h-3.2zM180.6 200.3h3.2v3.2h-3.2zM154.5 171.8h3.2v3.2h-3.2zM145.3 185.8h3.2v3.2h-3.2zM186.6 42.1h3.2v3.2h-3.2zM116 109.3h3.2v3.2h-3.2zM135.8 155.7h3.2v3.2h-3.2zM156 172.5h3.2v3.2h-3.2zM131.7 170.4h3.2v3.2h-3.2zM150.9 170.9h3.2v3.2h-3.2zM132 169.8h3.2v3.2h-3.2zM122.5 114h3.2v3.2h-3.2zM177.9 201.4h3.2v3.2h-3.2zM156.9 174h3.2v3.2h-3.2zM186.8 25.4h3.2v3.2h-3.2zM142.2 188.8h3.2v3.2h-3.2zM174.5 199.8h3.2v3.2h-3.2z"/>
<circle cx="181.1" cy="203.3" r="1.75"/><circle cx="132.3" cy="172.1" r="1.75"/><circle cx="230.3" cy="48.3" r="1.75"/><circle cx="266.4" cy="123.6" r="1.75"/><circle cx="264.2" cy="161.7" r="1.75"/><circle cx="258.1" cy="73.4" r="1.75"/><circle cx="232.1" cy="184.3" r="1.75"/><circle cx="264.3" cy="167.7" r="1.75"/><circle cx="179.4" cy="187.8" r="1.75"/><circle cx="139.6" cy="54.4" r="1.75"/><circle cx="258.3" cy="167.9" r="1.75"/><circle cx="238" cy="56.7" r="1.75"/><circle cx="123" cy="115.4" r="1.75"/><circle cx="238" cy="55.5" r="1.75"/><circle cx="167.1" cy="178.6" r="1.75"/><circle cx="274.1" cy="92.7" r="1.75"/><circle cx="234" cy="183.2" r="1.75"/><circle cx="176.7" cy="68.9" r="1.75"/><circle cx="237.4" cy="50.5" r="1.75"/><circle cx="274.8" cy="116.8" r="1.75"/><circle cx="209.2" cy="200.1" r="1.75"/><circle cx="139.5" cy="165.5" r="1.75"/><circle cx="147.1" cy="51.6" r="1.75"/><circle cx="156.9" cy="174.2" r="1.75"/><circle cx="271.4" cy="132.9" r="1.75"/><circle cx="124.7" cy="120.3" r="1.75"/><circle cx="149.6" cy="186.7" r="1.75"/><circle cx="129.6" cy="169.1" r="1.75"/><circle cx="129.6" cy="170.9" r="1.75"/><circle cx="152.7" cy="192.4" r="1.75"/><circle cx="156.5" cy="172.3" r="1.75"/><circle cx="183.5" cy="30.1" r="1.75"/><circle cx="276.8" cy="115.9" r="1.75"/><circle cx="190.9" cy="181.7" r="1.75"/><circle cx="212.8" cy="33.3" r="1.75"/><circle cx="179" cy="70.2" r="1.75"/><circle cx="121.5" cy="114.9" r="1.75"/><circle cx="236.8" cy="49.1" r="1.75"/><circle cx="221.7" cy="34.7" r="1.75"/><circle cx="130.5" cy="172.4" r="1.75"/><circle cx="130.3" cy="177.5" r="1.75"/><circle cx="260.5" cy="76.4" r="1.75"/><circle cx="124.8" cy="121.3" r="1.75"/><circle cx="177.5" cy="31.5" r="1.75"/><circle cx="125.2" cy="123.5" r="1.75"/><circle cx="267.2" cy="124" r="1.75"/><circle cx="137.6" cy="160" r="1.75"/><circle cx="202.1" cy="196.4" r="1.75"/><circle cx="163" cy="73.3" r="1.75"/><circle cx="123.1" cy="105.5" r="1.75"/><circle cx="251.5" cy="171.6" r="1.75"/><circle cx="130.3" cy="166.9" r="1.75"/><circle cx="154.7" cy="170.8" r="1.75"/>
</g>
<g stroke="#02bac4">
<path d="M238.4 55.4h3.2v3.2h-3.2zM185 39.3h3.2v3.2h-3.2zM260.8 100.9h3.2v3.2h-3.2zM191.3 194.4h3.2v3.2h-3.2zM274.8 122h4M276.8 120v4M187.9 185.1h3.2v3.2h-3.2zM254.2 174.6h4M256.2 172.6v4M143.9 164.9h3.2v3.2h-3.2zM146.3 189.6h3.2v3.2h-3.2zM264.6 156.4h4M266.6 154.4v4M252.6 175.5h3.2v3.2h-3.2zM227.1 46.4h3.2v3.2h-3.2zM228.9 48.7h3.2v3.2h-3.2zM141.1 168.5h3.2v3.2h-3.2zM185.3 184.8h4M187.3 182.8v4M134.9 73.9h4M136.9 71.9v4M169.3 35.4h3.2v3.2h-3.2zM123 162.6h3.2v3.2h-3.2zM127.4 149.3h3.2v3.2h-3.2zM145.2 44.2h4M147.2 42.2v4M231.9 49.2h3.2v3.2h-3.2zM250.2 62.3h3.2v3.2h-3.2zM269.5 91.6h4M271.5 89.6v4M215.8 188.6h3.2v3.2h-3.2zM172.9 179.8h3.2v3.2h-3.2zM216.7 190.1h3.2v3.2h-3.2zM166.5 179.9h3.2v3.2h-3.2zM134.4 157.3h4M136.4 155.3v4M117.7 85.3h4M119.7 83.3v4M273.8 115.3h3.2v3.2h-3.2zM119.8 113.6h3.2v3.2h-3.2zM118.5 116.7h3.2v3.2h-3.2zM134.7 155.9h3.2v3.2h-3.2zM160.4 42.2h3.2v3.2h-3.2zM140.2 168.6h3.2v3.2h-3.2zM189.9 202.1h3.2v3.2h-3.2zM144.6 168.8h3.2v3.2h-3.2zM232 52.7h3.2v3.2h-3.2zM170 70.4h3.2v3.2h-3.2zM179.6 163.9h3.2v3.2h-3.2zM185.3 184.2h4M187.3 182.2v4M157.8 175h3.2v3.2h-3.2zM188.4 37.8h3.2v3.2h-3.2zM272.9 111.1h4M274.9 109.1v4"/>
<path d="M254.4 172.2l1.6 2.2l-1.6 2.2l-1.6 -2.2zM127.6 128l1.6 2.2l-1.6 2.2l-1.6 -2.2zM192.1 39.9l1.6 2.2l-1.6 2.2l-1.6 -2.2zM229.1 44.5l1.6 2.2l-1.6 2.2l-1.6 -2.2zM179.5 195l1.6 2.2l-1.6 2.2l-1.6 -2.2zM119.1 87.6l1.6 2.2l-1.6 2.2l-1.6 -2.2zM199.4 203.5l1.6 2.2l-1.6 2.2l-1.6 -2.2zM195.1 193l1.6 2.2l-1.6 2.2l-1.6 -2.2zM174.1 31.9l1.6 2.2l-1.6 2.2l-1.6 -2.2zM116.3 109.7l1.6 2.2l-1.6 2.2l-1.6 -2.2zM146.8 190.2l1.6 2.2l-1.6 2.2l-1.6 -2.2zM145.4 190.9l1.6 2.2l-1.6 2.2l-1.6 -2.2zM150.4 173.5l1.6 2.2l-1.6 2.2l-1.6 -2.2zM124 151.6l1.6 2.2l-1.6 2.2l-1.6 -2.2zM260.6 169l1.6 2.2l-1.6 2.2l-1.6 -2.2zM147.2 188.1l1.6 2.2l-1.6 2.2l-1.6 -2.2zM140.1 151.7l1.6 2.2l-1.6 2.2l-1.6 -2.2z" fill="#02bac4" fill-opacity="0.75"/>
<circle cx="126" cy="130.2" r="1.75"/><circle cx="185.3" cy="189" r="1.75"/><circle cx="174" cy="73.3" r="1.75"/><circle cx="278.8" cy="124.2" r="1.75"/><circle cx="175.1" cy="72.4" r="1.75"/><circle cx="264.9" cy="150.6" r="1.75"/><circle cx="159.6" cy="44" r="1.75"/><circle cx="124.4" cy="93" r="1.75"/><circle cx="126.1" cy="135.4" r="1.75"/><circle cx="124.9" cy="152.1" r="1.75"/>
</g>
<g stroke="#24c2ae">
<path d="M268.8 136.1h4M270.8 134.1v4M189 191.8h4M191 189.8v4M118.6 99.1h4M120.6 97.1v4M118.8 91.8h4M120.8 89.8v4M232.7 44.7h3.2v3.2h-3.2zM202.5 37.5h4M204.5 35.5v4M185.9 40.2h3.2v3.2h-3.2zM219.8 42.3h3.2v3.2h-3.2zM184.1 191.2h4M186.1 189.2v4M150.2 174.1h4M152.2 172.1v4M176.5 189.4h3.2v3.2h-3.2zM251.5 179.1h4M253.5 177.1v4M230.9 50.2h3.2v3.2h-3.2zM252.4 178.7h4M254.4 176.7v4M158.2 37.8h4M160.2 35.8v4M166.7 44.4h4M168.7 42.4v4M194.2 202.4h3.2v3.2h-3.2zM189.9 38h3.2v3.2h-3.2z"/>
<path d="M220.3 38.4l1.6 2.2l-1.6 2.2l-1.6 -2.2zM193.2 200.1l1.6 2.2l-1.6 2.2l-1.6 -2.2zM226.9 181.4l1.6 2.2l-1.6 2.2l-1.6 -2.2zM130.7 148.4l1.6 2.2l-1.6 2.2l-1.6 -2.2zM161.5 41.4l1.6 2.2l-1.6 2.2l-1.6 -2.2zM154.9 169.9l1.6 2.2l-1.6 2.2l-1.6 -2.2zM185.3 190.1l1.6 2.2l-1.6 2.2l-1.6 -2.2zM158.5 183.3l1.6 2.2l-1.6 2.2l-1.6 -2.2zM204.4 31.9l1.6 2.2l-1.6 2.2l-1.6 -2.2zM130.3 166.7l1.6 2.2l-1.6 2.2l-1.6 -2.2zM169.3 38.5l1.6 2.2l-1.6 2.2l-1.6 -2.2zM208.4 35.8l1.6 2.2l-1.6 2.2l-1.6 -2.2zM124.5 106.5l1.6 2.2l-1.6 2.2l-1.6 -2.2zM144.9 189.1l1.6 2.2l-1.6 2.2l-1.6 -2.2zM199.7 198l1.6 2.2l-1.6 2.2l-1.6 -2.2z" fill="#24c2ae" fill-opacity="0.75"/>
<circle cx="177.6" cy="180.5" r="1.75"/><circle cx="277.4" cy="111.4" r="1.75"/><circle cx="122.6" cy="95.8" r="1.75"/><circle cx="122" cy="121" r="1.75"/><circle cx="225.2" cy="45.1" r="1.75"/><circle cx="190.8" cy="192" r="1.75"/><circle cx="117.2" cy="81.4" r="1.75"/><circle cx="123.9" cy="153.2" r="1.75"/><circle cx="194.9" cy="64.3" r="1.75"/><circle cx="189.8" cy="39" r="1.75"/><circle cx="137.1" cy="184" r="1.75"/><circle cx="123.9" cy="98.4" r="1.75"/><circle cx="150.8" cy="43.8" r="1.75"/><circle cx="175.8" cy="68" r="1.75"/><circle cx="144.9" cy="70.8" r="1.75"/><circle cx="204.9" cy="40.9" r="1.75"/><circle cx="232.8" cy="44.3" r="1.75"/><circle cx="119.4" cy="81.7" r="1.75"/><circle cx="143.6" cy="70" r="1.75"/><circle cx="187.3" cy="193.2" r="1.75"/><circle cx="131.8" cy="178.6" r="1.75"/>
</g>
<g stroke="#39c895">
<path d="M144.9 44.7h4M146.9 42.7v4M190.1 194.3h4M192.1 192.3v4M117.8 82.9h4M119.8 80.9v4M136.3 182.1h3.2v3.2h-3.2zM197.6 198.9h3.2v3.2h-3.2zM186.6 194.6h3.2v3.2h-3.2zM155.2 44.8h4M157.2 42.8v4M260.1 166.2h4M262.1 164.2v4M131.2 180h3.2v3.2h-3.2zM261.8 157.2h4M263.8 155.2v4M279.6 120.6h3.2v3.2h-3.2z"/>
<path d="M195.2 62.8l1.6 2.2l-1.6 2.2l-1.6 -2.2zM164.9 43l1.6 2.2l-1.6 2.2l-1.6 -2.2zM119 81.7l1.6 2.2l-1.6 2.2l-1.6 -2.2zM142.3 167.9l1.6 2.2l-1.6 2.2l-1.6 -2.2z" fill="#39c895" fill-opacity="0.75"/>
<circle cx="157" cy="187.5" r="1.75"/><circle cx="146.2" cy="46.7" r="1.75"/><circle cx="173.3" cy="184.9" r="1.75"/><circle cx="158.4" cy="176" r="1.75"/><circle cx="190.2" cy="192.5" r="1.75"/><circle cx="126.9" cy="148.5" r="1.75"/><circle cx="152.7" cy="37.7" r="1.75"/><circle cx="192.6" cy="200.1" r="1.75"/><circle cx="227.8" cy="50.4" r="1.75"/><circle cx="237.1" cy="182.2" r="1.75"/><circle cx="190.3" cy="40.1" r="1.75"/><circle cx="172.7" cy="34" r="1.75"/><circle cx="125.5" cy="147.3" r="1.75"/><circle cx="117" cy="99.3" r="1.75"/><circle cx="228.3" cy="48.6" r="1.75"/>
</g>
<g stroke="#88cb53">
<path d="M170.1 65h3.2v3.2h-3.2zM272 88.5h3.2v3.2h-3.2zM160.3 75.2h4M162.3 73.2v4M153.1 190.9h3.2v3.2h-3.2zM204 30.9h4M206 28.9v4M185.5 28h4M187.5 26v4M184.3 25.9h3.2v3.2h-3.2zM171.6 181.9h3.2v3.2h-3.2zM178.5 29.3h4M180.5 27.3v4M125.9 74.5h3.2v3.2h-3.2zM262.3 169.5h3.2v3.2h-3.2z"/>
<path d="M196.6 195.6l1.6 2.2l-1.6 2.2l-1.6 -2.2zM283.7 125.9l1.6 2.2l-1.6 2.2l-1.6 -2.2zM259.1 163l1.6 2.2l-1.6 2.2l-1.6 -2.2zM261 168.1l1.6 2.2l-1.6 2.2l-1.6 -2.2zM232.8 181.9l1.6 2.2l-1.6 2.2l-1.6 -2.2zM130.2 117.4l1.6 2.2l-1.6 2.2l-1.6 -2.2zM121.9 100.2l1.6 2.2l-1.6 2.2l-1.6 -2.2zM124.2 122.3l1.6 2.2l-1.6 2.2l-1.6 -2.2zM194.7 32.5l1.6 2.2l-1.6 2.2l-1.6 -2.2z" fill="#88cb53" fill-opacity="0.75"/>
<circle cx="235.7" cy="182.4" r="1.75"/><circle cx="251.8" cy="171.9" r="1.75"/><circle cx="174" cy="37.1" r="1.75"/><circle cx="119.9" cy="113.1" r="1.75"/><circle cx="264.5" cy="165.5" r="1.75"/><circle cx="204.6" cy="27.4" r="1.75"/><circle cx="129.8" cy="161.7" r="1.75"/><circle cx="266.7" cy="149.8" r="1.75"/><circle cx="262.5" cy="72.8" r="1.75"/><circle cx="219.6" cy="35.7" r="1.75"/><circle cx="262.7" cy="167.5" r="1.75"/><circle cx="253" cy="180.7" r="1.75"/>
</g>
<g stroke="#13b0d7">
<path d="M198.4 37.7h4M200.4 35.7v4M278.1 108.5h3.2v3.2h-3.2zM173.7 179.1h3.2v3.2h-3.2zM259.1 162.5h3.2v3.2h-3.2zM232.4 44.4h3.2v3.2h-3.2zM199.8 195.2h3.2v3.2h-3.2zM274.6 113.9h3.2v3.2h-3.2zM274 119.5h3.2v3.2h-3.2zM274.7 137.1h3.2v3.2h-3.2zM176.4 32.1h3.2v3.2h-3.2zM165.8 180.6h3.2v3.2h-3.2zM120.5 143.7h4M122.5 141.7v4M264.7 148.8h3.2v3.2h-3.2zM215.6 41h3.2v3.2h-3.2zM177.1 201.7h3.2v3.2h-3.2zM248.2 62.3h3.2v3.2h-3.2zM201.6 197.6h3.2v3.2h-3.2zM221.1 187.7h3.2v3.2h-3.2zM199.5 195.2h3.2v3.2h-3.2zM145.9 192.4h3.2v3.2h-3.2zM136.1 158h4M138.1 156v4M196.7 197.9h3.2v3.2h-3.2zM213.6 40.9h4M215.6 38.9v4M172 184h4M174 182v4M142.7 178.5h3.2v3.2h-3.2zM275.7 111.6h3.2v3.2h-3.2zM193.5 62.2h3.2v3.2h-3.2zM218.9 39h3.2v3.2h-3.2zM161.8 41.3h3.2v3.2h-3.2z"/>
<path d="M198.6 203.2l1.6 2.2l-1.6 2.2l-1.6 -2.2zM131.1 156.7l1.6 2.2l-1.6 2.2l-1.6 -2.2zM171.5 179.8l1.6 2.2l-1.6 2.2l-1.6 -2.2zM146.5 192.8l1.6 2.2l-1.6 2.2l-1.6 -2.2zM119.2 100.9l1.6 2.2l-1.6 2.2l-1.6 -2.2zM147 172.2l1.6 2.2l-1.6 2.2l-1.6 -2.2zM126.5 113l1.6 2.2l-1.6 2.2l-1.6 -2.2zM180.5 162.4l1.6 2.2l-1.6 2.2l-1.6 -2.2zM200.7 206l1.6 2.2l-1.6 2.2l-1.6 -2.2zM198 201.3l1.6 2.2l-1.6 2.2l-1.6 -2.2zM154.2 164.9l1.6 2.2l-1.6 2.2l-1.6 -2.2zM226.8 42.2l1.6 2.2l-1.6 2.2l-1.6 -2.2zM188.2 199.4l1.6 2.2l-1.6 2.2l-1.6 -2.2zM203.7 63.4l1.6 2.2l-1.6 2.2l-1.6 -2.2z" fill="#13b0d7" fill-opacity="0.75"/>
<circle cx="132.9" cy="150.7" r="1.75"/><circle cx="199" cy="205.1" r="1.75"/><circle cx="132.8" cy="150.1" r="1.75"/><circle cx="181.9" cy="37.2" r="1.75"/><circle cx="189" cy="182.7" r="1.75"/><circle cx="186.9" cy="201.9" r="1.75"/><circle cx="233.4" cy="50.3" r="1.75"/><circle cx="229.6" cy="43.1" r="1.75"/><circle cx="263.4" cy="149.1" r="1.75"/><circle cx="200.2" cy="33.3" r="1.75"/><circle cx="182.8" cy="202.8" r="1.75"/><circle cx="172.4" cy="72.1" r="1.75"/><circle cx="182.3" cy="184.6" r="1.75"/><circle cx="173.1" cy="181.7" r="1.75"/><circle cx="134" cy="152.4" r="1.75"/><circle cx="125.8" cy="133.2" r="1.75"/>
</g>
<g stroke="#5ccc76">
<path d="M121.6 138.9h3.2v3.2h-3.2zM124.4 106.3h3.2v3.2h-3.2zM173.3 201h4M175.3 199v4M191.7 190.9h4M193.7 188.9v4M189.4 177.3h3.2v3.2h-3.2zM146.2 43h3.2v3.2h-3.2zM185.6 188.4h3.2v3.2h-3.2zM153.8 36.2h4M155.8 34.2v4M185 191.9h3.2v3.2h-3.2zM129.6 156.7h4M131.6 154.7v4M226.7 42.2h4M228.7 40.2v4M198.4 191.3h3.2v3.2h-3.2zM274.4 95.4h4M276.4 93.4v4M133.8 171.8h3.2v3.2h-3.2zM268.3 147.7h4M270.3 145.7v4M261 164.6h4M263 162.6v4M136.5 160.4h4M138.5 158.4v4M281.6 123.1h3.2v3.2h-3.2zM254.9 71.3h4M256.9 69.3v4M176.9 200.8h4M178.9 198.8v4M232.1 182.8h3.2v3.2h-3.2zM142.5 192.4h4M144.5 190.4v4"/>
<path d="M274.8 87.6l1.6 2.2l-1.6 2.2l-1.6 -2.2zM265.6 160.4l1.6 2.2l-1.6 2.2l-1.6 -2.2zM122.7 102.3l1.6 2.2l-1.6 2.2l-1.6 -2.2zM155.3 39.7l1.6 2.2l-1.6 2.2l-1.6 -2.2zM190.8 56.6l1.6 2.2l-1.6 2.2l-1.6 -2.2zM126.1 168.3l1.6 2.2l-1.6 2.2l-1.6 -2.2zM204.6 198.4l1.6 2.2l-1.6 2.2l-1.6 -2.2zM155.2 35.8l1.6 2.2l-1.6 2.2l-1.6 -2.2zM138.5 158.6l1.6 2.2l-1.6 2.2l-1.6 -2.2z" fill="#5ccc76" fill-opacity="0.75"/>
<circle cx="166.8" cy="177.8" r="1.75"/><circle cx="157.5" cy="182.6" r="1.75"/><circle cx="191" cy="198.5" r="1.75"/><circle cx="194.6" cy="65.5" r="1.75"/><circle cx="145.1" cy="188.1" r="1.75"/><circle cx="272.6" cy="145.6" r="1.75"/><circle cx="237.1" cy="184.1" r="1.75"/><circle cx="158" cy="167.6" r="1.75"/><circle cx="118" cy="94.4" r="1.75"/><circle cx="149.2" cy="46.8" r="1.75"/><circle cx="181.9" cy="200.1" r="1.75"/><circle cx="129.8" cy="155.3" r="1.75"/><circle cx="128.8" cy="164.6" r="1.75"/><circle cx="178.8" cy="202.1" r="1.75"/><circle cx="214.6" cy="61.4" r="1.75"/><circle cx="124.9" cy="122.1" r="1.75"/><circle cx="196.1" cy="65.4" r="1.75"/>
</g>
<g stroke="#f6de29">
<path d="M129.3 143.4h3.2v3.2h-3.2zM166.1 185.1h3.2v3.2h-3.2zM240.5 54.2h3.2v3.2h-3.2zM243.3 53.2h3.2v3.2h-3.2zM133.9 154h3.2v3.2h-3.2zM154.2 180.3h3.2v3.2h-3.2z"/>
<circle cx="151.8" cy="43.9" r="1.75"/><circle cx="134" cy="149.6" r="1.75"/><circle cx="235.8" cy="52" r="1.75"/><circle cx="207.7" cy="203" r="1.75"/><circle cx="183.6" cy="210.6" r="1.75"/><circle cx="275" cy="101.2" r="1.75"/><circle cx="277.6" cy="101.9" r="1.75"/><circle cx="276.6" cy="96.8" r="1.75"/><circle cx="266.1" cy="78.3" r="1.75"/><circle cx="206" cy="202.3" r="1.75"/><circle cx="209.5" cy="204" r="1.75"/><circle cx="129.8" cy="160.1" r="1.75"/><circle cx="237.9" cy="185.4" r="1.75"/><circle cx="271.7" cy="91.9" r="1.75"/><circle cx="201.9" cy="202.2" r="1.75"/><circle cx="126.4" cy="156.6" r="1.75"/><circle cx="262.5" cy="76" r="1.75"/><circle cx="265.8" cy="79.1" r="1.75"/><circle cx="160.6" cy="174.7" r="1.75"/><circle cx="274.1" cy="100.6" r="1.75"/><circle cx="148.8" cy="51.4" r="1.75"/><circle cx="126.3" cy="112" r="1.75"/><circle cx="275.9" cy="96.1" r="1.75"/>
</g>
<g stroke="#2e83f9">
<path d="M156.7 176.4h4M158.7 174.4v4M132.2 155.8h4M134.2 153.8v4M262.9 159.1h4M264.9 157.1v4"/>
<path d="M201.8 35.2l1.6 2.2l-1.6 2.2l-1.6 -2.2zM148.8 173.8l1.6 2.2l-1.6 2.2l-1.6 -2.2zM202.3 32.4l1.6 2.2l-1.6 2.2l-1.6 -2.2zM187.9 38.6l1.6 2.2l-1.6 2.2l-1.6 -2.2zM225.6 45.3l1.6 2.2l-1.6 2.2l-1.6 -2.2zM198.2 200.8l1.6 2.2l-1.6 2.2l-1.6 -2.2zM183.8 202.3l1.6 2.2l-1.6 2.2l-1.6 -2.2zM127.7 154.5l1.6 2.2l-1.6 2.2l-1.6 -2.2zM276.2 109.4l1.6 2.2l-1.6 2.2l-1.6 -2.2zM214.7 40.1l1.6 2.2l-1.6 2.2l-1.6 -2.2zM216.2 38.8l1.6 2.2l-1.6 2.2l-1.6 -2.2z" fill="#2e83f9" fill-opacity="0.75"/>
</g>
<g stroke="#21a3e3">
<path d="M169.4 34.6h4M171.4 32.6v4M203.3 38.8h3.2v3.2h-3.2zM182.6 163.3h3.2v3.2h-3.2zM156.8 168.5h3.2v3.2h-3.2zM167.8 37.4h4M169.8 35.4v4M197.4 199.9h3.2v3.2h-3.2zM265.7 151.7h3.2v3.2h-3.2zM158.6 175.6h3.2v3.2h-3.2zM121.7 142.3h3.2v3.2h-3.2zM123.6 113.4h3.2v3.2h-3.2zM136.8 176.5h4M138.8 174.5v4M170.1 35h4M172.1 33v4M186 37.2h4M188 35.2v4M123.4 139.7h3.2v3.2h-3.2zM122.3 140.7h4M124.3 138.7v4M184.3 34.3h4M186.3 32.3v4M270.8 141.8h3.2v3.2h-3.2zM202.2 37.9h3.2v3.2h-3.2zM230.8 39.7h3.2v3.2h-3.2zM122.6 136.9h3.2v3.2h-3.2zM160.5 42.6h4M162.5 40.6v4M264.8 158h4M266.8 156v4M124.3 141.4h3.2v3.2h-3.2zM180.6 33.7h3.2v3.2h-3.2zM190.6 196.7h3.2v3.2h-3.2zM157.7 40.4h3.2v3.2h-3.2z"/>
<path d="M199.7 188.4l1.6 2.2l-1.6 2.2l-1.6 -2.2zM183.1 164.8l1.6 2.2l-1.6 2.2l-1.6 -2.2zM185.7 200.5l1.6 2.2l-1.6 2.2l-1.6 -2.2zM126.6 130.4l1.6 2.2l-1.6 2.2l-1.6 -2.2zM133.1 154.9l1.6 2.2l-1.6 2.2l-1.6 -2.2zM166.7 41.5l1.6 2.2l-1.6 2.2l-1.6 -2.2zM193.5 198l1.6 2.2l-1.6 2.2l-1.6 -2.2zM234.3 50.8l1.6 2.2l-1.6 2.2l-1.6 -2.2z" fill="#21a3e3" fill-opacity="0.75"/>
<circle cx="271" cy="134.3" r="1.75"/><circle cx="233" cy="55" r="1.75"/><circle cx="269.6" cy="144.2" r="1.75"/>
</g>
<g stroke="#f6f21e">
<circle cx="198.7" cy="200.2" r="1.75"/><circle cx="264.3" cy="74.8" r="1.75"/><circle cx="241.5" cy="53.8" r="1.75"/><circle cx="167.8" cy="200.9" r="1.75"/><circle cx="177.7" cy="193.1" r="1.75"/><circle cx="173.2" cy="191.4" r="1.75"/>
</g>
<g stroke="#3d70ff">
<path d="M201.7 34.6l1.6 2.2l-1.6 2.2l-1.6 -2.2zM172.5 66.8l1.6 2.2l-1.6 2.2l-1.6 -2.2zM276.9 110.1l1.6 2.2l-1.6 2.2l-1.6 -2.2zM147.3 47.4l1.6 2.2l-1.6 2.2l-1.6 -2.2zM154.9 46l1.6 2.2l-1.6 2.2l-1.6 -2.2zM213 40.2l1.6 2.2l-1.6 2.2l-1.6 -2.2zM149.2 45.7l1.6 2.2l-1.6 2.2l-1.6 -2.2zM149.3 47.3l1.6 2.2l-1.6 2.2l-1.6 -2.2zM203.7 34.9l1.6 2.2l-1.6 2.2l-1.6 -2.2z" fill="#3d70ff" fill-opacity="0.75"/>
</g>
<g stroke="#2994ed">
<path d="M202.1 33h3.2v3.2h-3.2zM222.3 45.3h4M224.3 43.3v4M156.3 171.3h3.2v3.2h-3.2zM166.4 180.2h3.2v3.2h-3.2zM188.2 197h3.2v3.2h-3.2zM262.1 157.3h4M264.1 155.3v4M203.8 31.1h3.2v3.2h-3.2zM202.6 191.9h3.2v3.2h-3.2zM204.2 37.1h4M206.2 35.1v4M201 199.5h3.2v3.2h-3.2zM165.1 177.3h4M167.1 175.3v4M197.5 195.3h3.2v3.2h-3.2zM271.2 138.2h3.2v3.2h-3.2z"/>
<path d="M124.4 148.7l1.6 2.2l-1.6 2.2l-1.6 -2.2zM201 37.2l1.6 2.2l-1.6 2.2l-1.6 -2.2zM182.1 200.5l1.6 2.2l-1.6 2.2l-1.6 -2.2zM226 37.4l1.6 2.2l-1.6 2.2l-1.6 -2.2zM263.2 165.4l1.6 2.2l-1.6 2.2l-1.6 -2.2z" fill="#2994ed" fill-opacity="0.75"/>
</g>
<g stroke="#484cef">
<path d="M176.4 205.3h4M178.4 203.3v4"/>
<path d="M181.1 205.1l1.6 2.2l-1.6 2.2l-1.6 -2.2zM192.7 38.3l1.6 2.2l-1.6 2.2l-1.6 -2.2zM131.4 156l1.6 2.2l-1.6 2.2l-1.6 -2.2zM127.6 151.7l1.6 2.2l-1.6 2.2l-1.6 -2.2z" fill="#484cef" fill-opacity="0.75"/>
</g>
<g stroke="#465efb">
<path d="M128.5 158h4M130.5 156v4M211.8 42.6h4M213.8 40.6v4"/>
<path d="M275.5 125l1.6 2.2l-1.6 2.2l-1.6 -2.2zM151.9 46.2l1.6 2.2l-1.6 2.2l-1.6 -2.2zM213.4 41.7l1.6 2.2l-1.6 2.2l-1.6 -2.2zM129 156.7l1.6 2.2l-1.6 2.2l-1.6 -2.2zM185.3 38.4l1.6 2.2l-1.6 2.2l-1.6 -2.2zM148.6 46.2l1.6 2.2l-1.6 2.2l-1.6 -2.2zM275.9 126.2l1.6 2.2l-1.6 2.2l-1.6 -2.2zM123.4 151.9l1.6 2.2l-1.6 2.2l-1.6 -2.2z" fill="#465efb" fill-opacity="0.75"/>
</g>
<g stroke="#463adc">
<path d="M274.2 127.5h4M276.2 125.5v4"/>
<path d="M176.3 199.6l1.6 2.2l-1.6 2.2l-1.6 -2.2zM177.6 202.7l1.6 2.2l-1.6 2.2l-1.6 -2.2z" fill="#463adc" fill-opacity="0.75"/>
</g>
<g stroke="#24c2ae">
<path d="M248.5 63.9h3.2v3.2h-3.2zM252.6 179.5h4M254.6 177.5v4M218.8 38.3h4M220.8 36.3v4M169.3 76.2h4M171.3 74.2v4M220.5 39.9h3.2v3.2h-3.2zM200 38.2h3.2v3.2h-3.2zM253.3 180.9h3.2v3.2h-3.2zM220.4 45.3h3.2v3.2h-3.2zM125.6 150h3.2v3.2h-3.2zM131.8 180.1h3.2v3.2h-3.2zM149.2 174.2h4M151.2 172.2v4M121.1 155h3.2v3.2h-3.2zM178.5 32.3h4M180.5 30.3v4M122.1 76.2h4M124.1 74.2v4M142.9 192.8h4M144.9 190.8v4M120.2 93.5h3.2v3.2h-3.2zM224.1 187.4h4M226.1 185.4v4M135.4 180.6h3.2v3.2h-3.2zM189 200.4h4M191 198.4v4M127 149.5h4M129 147.5v4M133.6 178.1h3.2v3.2h-3.2zM176.4 200h3.2v3.2h-3.2zM178.6 202.7h3.2v3.2h-3.2zM157.2 40.2h3.2v3.2h-3.2zM116.7 105h4M118.7 103v4"/>
<path d="M234.2 180.9l1.6 2.2l-1.6 2.2l-1.6 -2.2zM228.3 46.8l1.6 2.2l-1.6 2.2l-1.6 -2.2zM180.4 196.4l1.6 2.2l-1.6 2.2l-1.6 -2.2zM136.8 159.5l1.6 2.2l-1.6 2.2l-1.6 -2.2zM212.7 60l1.6 2.2l-1.6 2.2l-1.6 -2.2zM211.9 62.6l1.6 2.2l-1.6 2.2l-1.6 -2.2zM278.9 106.3l1.6 2.2l-1.6 2.2l-1.6 -2.2zM145.9 42.4l1.6 2.2l-1.6 2.2l-1.6 -2.2zM248.2 56.5l1.6 2.2l-1.6 2.2l-1.6 -2.2zM174.9 203.8l1.6 2.2l-1.6 2.2l-1.6 -2.2zM272.5 130.5l1.6 2.2l-1.6 2.2l-1.6 -2.2zM126.2 81.7l1.6 2.2l-1.6 2.2l-1.6 -2.2zM145.8 190.5l1.6 2.2l-1.6 2.2l-1.6 -2.2z" fill="#24c2ae" fill-opacity="0.75"/>
<circle cx="224.5" cy="44.7" r="1.75"/><circle cx="260.5" cy="100.7" r="1.75"/><circle cx="252" cy="180.1" r="1.75"/><circle cx="151.6" cy="42.1" r="1.75"/><circle cx="240.6" cy="56.7" r="1.75"/><circle cx="188.4" cy="195.4" r="1.75"/><circle cx="145.9" cy="191.9" r="1.75"/><circle cx="157" cy="39.9" r="1.75"/><circle cx="125.3" cy="103.6" r="1.75"/><circle cx="277.7" cy="119.2" r="1.75"/><circle cx="228.8" cy="49.5" r="1.75"/><circle cx="139.4" cy="158.7" r="1.75"/><circle cx="232.1" cy="45" r="1.75"/><circle cx="119.5" cy="83.1" r="1.75"/><circle cx="205.6" cy="44.7" r="1.75"/><circle cx="178.4" cy="36.2" r="1.75"/><circle cx="148.1" cy="171.3" r="1.75"/><circle cx="212" cy="62.1" r="1.75"/><circle cx="194.1" cy="195.1" r="1.75"/><circle cx="182.9" cy="195.2" r="1.75"/><circle cx="166.7" cy="41.2" r="1.75"/><circle cx="176.2" cy="205.3" r="1.75"/><circle cx="160.1" cy="41.4" r="1.75"/><circle cx="275" cy="133.5" r="1.75"/><circle cx="182" cy="192.5" r="1.75"/><circle cx="226.1" cy="189.6" r="1.75"/><circle cx="163.7" cy="44" r="1.75"/><circle cx="254.7" cy="179.3" r="1.75"/><circle cx="196.1" cy="201.9" r="1.75"/><circle cx="258.4" cy="167.5" r="1.75"/><circle cx="198.6" cy="34.5" r="1.75"/><circle cx="120.9" cy="95.3" r="1.75"/><circle cx="172.8" cy="206.1" r="1.75"/><circle cx="260.1" cy="72.1" r="1.75"/>
</g>
<g stroke="#f8ba3d">
<path d="M229 185.6h3.2v3.2h-3.2zM149.6 167.7h3.2v3.2h-3.2zM168.4 177.4h3.2v3.2h-3.2zM124.5 116.4h3.2v3.2h-3.2zM130.2 169h3.2v3.2h-3.2zM218.5 33.4h3.2v3.2h-3.2zM148.8 188.4h3.2v3.2h-3.2zM132.3 160.1h3.2v3.2h-3.2zM146.1 174.3h3.2v3.2h-3.2zM172.6 29.3h3.2v3.2h-3.2zM274.9 140h3.2v3.2h-3.2zM123.2 114.3h3.2v3.2h-3.2zM123 74.4h3.2v3.2h-3.2zM276.5 132.7h3.2v3.2h-3.2zM242.2 180.5h3.2v3.2h-3.2zM204.6 29.9h3.2v3.2h-3.2zM133.4 174.1h3.2v3.2h-3.2zM274.5 97.1h3.2v3.2h-3.2zM200 42h3.2v3.2h-3.2zM129.7 175.6h3.2v3.2h-3.2zM123.2 157.9h3.2v3.2h-3.2zM171.1 180.6h3.2v3.2h-3.2zM277.8 137.5h3.2v3.2h-3.2zM177.6 200.6h3.2v3.2h-3.2z"/>
<circle cx="142.4" cy="184.1" r="1.75"/><circle cx="178.6" cy="201.1" r="1.75"/><circle cx="169.2" cy="200.2" r="1.75"/><circle cx="181.8" cy="193.8" r="1.75"/><circle cx="243.3" cy="51.1" r="1.75"/><circle cx="219.5" cy="200" r="1.75"/><circle cx="187.3" cy="36.6" r="1.75"/><circle cx="136.9" cy="174" r="1.75"/><circle cx="190.4" cy="34.4" r="1.75"/><circle cx="200.7" cy="202.7" r="1.75"/><circle cx="265" cy="80.1" r="1.75"/><circle cx="155.9" cy="45.4" r="1.75"/><circle cx="231.2" cy="47.6" r="1.75"/><circle cx="275.3" cy="128.4" r="1.75"/><circle cx="275.8" cy="129.1" r="1.75"/><circle cx="120.5" cy="96.5" r="1.75"/><circle cx="274.6" cy="121.3" r="1.75"/><circle cx="266.5" cy="76.4" r="1.75"/><circle cx="149.3" cy="171.1" r="1.75"/><circle cx="152.3" cy="190.3" r="1.75"/><circle cx="131.1" cy="150" r="1.75"/><circle cx="124.4" cy="77.7" r="1.75"/><circle cx="127.6" cy="161.9" r="1.75"/><circle cx="278" cy="126.4" r="1.75"/><circle cx="222.1" cy="46.5" r="1.75"/><circle cx="175.7" cy="200.8" r="1.75"/><circle cx="182.8" cy="28.7" r="1.75"/><circle cx="174" cy="191.8" r="1.75"/><circle cx="275" cy="141.5" r="1.75"/><circle cx="121.7" cy="92.3" r="1.75"/><circle cx="235.2" cy="51.1" r="1.75"/><circle cx="141.2" cy="185.1" r="1.75"/><circle cx="272.8" cy="92.9" r="1.75"/><circle cx="121.3" cy="111.5" r="1.75"/><circle cx="276.2" cy="126.1" r="1.75"/><circle cx="176.1" cy="196.2" r="1.75"/><circle cx="273.6" cy="142.9" r="1.75"/><circle cx="155.7" cy="180.2" r="1.75"/><circle cx="182.8" cy="28.8" r="1.75"/><circle cx="193.3" cy="36.5" r="1.75"/><circle cx="137.3" cy="59.6" r="1.75"/><circle cx="124.6" cy="156" r="1.75"/><circle cx="170.8" cy="177.5" r="1.75"/><circle cx="161.5" cy="178.7" r="1.75"/><circle cx="177.4" cy="33.3" r="1.75"/><circle cx="187.4" cy="204.7" r="1.75"/><circle cx="191.3" cy="205.8" r="1.75"/><circle cx="139.3" cy="172.3" r="1.75"/><circle cx="175.4" cy="32.8" r="1.75"/><circle cx="127.5" cy="147.1" r="1.75"/><circle cx="140.3" cy="165.2" r="1.75"/><circle cx="211.2" cy="40.5" r="1.75"/><circle cx="161.9" cy="178.8" r="1.75"/><circle cx="235.8" cy="186.3" r="1.75"/><circle cx="258.9" cy="79.6" r="1.75"/><circle cx="245.8" cy="180.6" r="1.75"/><circle cx="275.2" cy="133.5" r="1.75"/><circle cx="132.7" cy="161.2" r="1.75"/><circle cx="124.4" cy="108.6" r="1.75"/><circle cx="274.3" cy="129" r="1.75"/><circle cx="189.1" cy="37.1" r="1.75"/><circle cx="223.2" cy="33.4" r="1.75"/><circle cx="123.1" cy="99.5" r="1.75"/><circle cx="220.3" cy="35.3" r="1.75"/><circle cx="130.9" cy="145.3" r="1.75"/><circle cx="174.9" cy="200.2" r="1.75"/><circle cx="189.8" cy="33.2" r="1.75"/><circle cx="256.6" cy="69" r="1.75"/><circle cx="202.6" cy="43.9" r="1.75"/><circle cx="237" cy="53.7" r="1.75"/><circle cx="188.1" cy="27.8" r="1.75"/><circle cx="147.1" cy="50.4" r="1.75"/><circle cx="196.8" cy="33.1" r="1.75"/><circle cx="122" cy="116.2" r="1.75"/><circle cx="233" cy="184.7" r="1.75"/><circle cx="182.4" cy="198.2" r="1.75"/><circle cx="133.5" cy="165.4" r="1.75"/><circle cx="126.2" cy="108.9" r="1.75"/><circle cx="116" cy="94.3" r="1.75"/><circle cx="133.7" cy="160.6" r="1.75"/><circle cx="126.7" cy="109.6" r="1.75"/><circle cx="185.8" cy="40.2" r="1.75"/><circle cx="201.6" cy="198.8" r="1.75"/><circle cx="163.4" cy="41.4" r="1.75"/><circle cx="148.6" cy="42.2" r="1.75"/><circle cx="133.8" cy="155.1" r="1.75"/><circle cx="178.4" cy="204" r="1.75"/><circle cx="157.7" cy="179.4" r="1.75"/><circle cx="128.2" cy="135.9" r="1.75"/><circle cx="182.8" cy="30.4" r="1.75"/><circle cx="179.8" cy="204.2" r="1.75"/><circle cx="155.9" cy="191.2" r="1.75"/>
</g>
<g stroke="#88cb53">
<path d="M167 181.5h3.2v3.2h-3.2zM267.4 145.3h3.2v3.2h-3.2zM186 189h3.2v3.2h-3.2zM225.1 42.5h4M227.1 40.5v4M203.9 26h3.2v3.2h-3.2zM264.3 151.8h4M266.3 149.8v4M130.1 180h4M132.1 178v4M272.1 93.3h4M274.1 91.3v4M203.2 30.5h4M205.2 28.5v4M134.8 160.5h3.2v3.2h-3.2zM128.9 167.1h3.2v3.2h-3.2zM137 162.7h4M139 160.7v4M135.3 158.9h3.2v3.2h-3.2zM255.6 162h3.2v3.2h-3.2zM124.8 136h4M126.8 134v4"/>
<path d="M138.4 166.2l1.6 2.2l-1.6 2.2l-1.6 -2.2zM239.8 177.5l1.6 2.2l-1.6 2.2l-1.6 -2.2zM153.4 170.4l1.6 2.2l-1.6 2.2l-1.6 -2.2zM203.1 197.6l1.6 2.2l-1.6 2.2l-1.6 -2.2zM118.7 109.4l1.6 2.2l-1.6 2.2l-1.6 -2.2zM138.8 157.8l1.6 2.2l-1.6 2.2l-1.6 -2.2zM189.6 189.6l1.6 2.2l-1.6 2.2l-1.6 -2.2z" fill="#88cb53" fill-opacity="0.75"/>
<circle cx="126.8" cy="145.4" r="1.75"/><circle cx="191.5" cy="197.2" r="1.75"/><circle cx="234.6" cy="180.9" r="1.75"/><circle cx="241.9" cy="56.9" r="1.75"/><circle cx="257.6" cy="166.1" r="1.75"/><circle cx="205.3" cy="30.2" r="1.75"/><circle cx="169.7" cy="184.2" r="1.75"/><circle cx="258.1" cy="76.3" r="1.75"/><circle cx="125.6" cy="126.4" r="1.75"/><circle cx="127" cy="149" r="1.75"/><circle cx="258.6" cy="169.3" r="1.75"/><circle cx="158.5" cy="39.3" r="1.75"/>
</g>
<g stroke="#f6de29">
<path d="M134.6 175.2h3.2v3.2h-3.2zM265.7 80.7h3.2v3.2h-3.2zM185.4 39.9h3.2v3.2h-3.2zM119.5 100h3.2v3.2h-3.2zM216.1 192.6h3.2v3.2h-3.2zM272.3 103.1h3.2v3.2h-3.2zM149.4 187.3h3.2v3.2h-3.2z"/>
<circle cx="276" cy="103.3" r="1.75"/><circle cx="127.1" cy="99.1" r="1.75"/><circle cx="277.4" cy="91.5" r="1.75"/><circle cx="191.8" cy="200.8" r="1.75"/><circle cx="212.5" cy="192.3" r="1.75"/><circle cx="208.6" cy="196.2" r="1.75"/><circle cx="119.2" cy="94.9" r="1.75"/><circle cx="274.5" cy="145.8" r="1.75"/><circle cx="175.4" cy="193.9" r="1.75"/><circle cx="265" cy="79.3" r="1.75"/><circle cx="211.6" cy="204.1" r="1.75"/><circle cx="176.2" cy="203.1" r="1.75"/><circle cx="120.5" cy="149.9" r="1.75"/>
</g>
<g stroke="#b4c533">
<path d="M179.5 201.8h3.2v3.2h-3.2zM265.3 166.3h3.2v3.2h-3.2zM213.8 189.1h3.2v3.2h-3.2zM149.4 192.3h3.2v3.2h-3.2zM163.5 68.2h3.2v3.2h-3.2zM122.2 130.3h3.2v3.2h-3.2zM135.3 159h3.2v3.2h-3.2zM266.9 121.8h3.2v3.2h-3.2zM138.8 164h3.2v3.2h-3.2zM127.4 157.5h3.2v3.2h-3.2z"/>
<circle cx="184.9" cy="31.7" r="1.75"/><circle cx="232.7" cy="51.2" r="1.75"/><circle cx="164.6" cy="66.7" r="1.75"/><circle cx="179.2" cy="202.5" r="1.75"/><circle cx="143.4" cy="173.5" r="1.75"/><circle cx="126.8" cy="116.4" r="1.75"/><circle cx="254.7" cy="170.4" r="1.75"/><circle cx="156.1" cy="174.1" r="1.75"/><circle cx="208.3" cy="32.7" r="1.75"/><circle cx="225.2" cy="195.8" r="1.75"/><circle cx="162.4" cy="42.4" r="1.75"/><circle cx="124.2" cy="110.4" r="1.75"/><circle cx="125.8" cy="135" r="1.75"/><circle cx="209.2" cy="40.5" r="1.75"/><circle cx="162.6" cy="45.9" r="1.75"/><circle cx="196.1" cy="33.8" r="1.75"/><circle cx="177.5" cy="188.2" r="1.75"/><circle cx="183.3" cy="25.4" r="1.75"/><circle cx="163.1" cy="179.8" r="1.75"/><circle cx="206.5" cy="41.7" r="1.75"/><circle cx="250.7" cy="170.8" r="1.75"/><circle cx="230.3" cy="42.4" r="1.75"/><circle cx="152.9" cy="170.4" r="1.75"/><circle cx="146.1" cy="52.6" r="1.75"/><circle cx="210.6" cy="193.4" r="1.75"/><circle cx="196.8" cy="33.8" r="1.75"/><circle cx="261.3" cy="166.5" r="1.75"/><circle cx="205.4" cy="31.9" r="1.75"/><circle cx="146.5" cy="43.1" r="1.75"/><circle cx="184.4" cy="44.5" r="1.75"/><circle cx="231.6" cy="47.3" r="1.75"/><circle cx="189.2" cy="36.3" r="1.75"/><circle cx="123.2" cy="120.6" r="1.75"/><circle cx="177.1" cy="196.8" r="1.75"/>
</g>
<g stroke="#39c895">
<path d="M125.6 148.6h3.2v3.2h-3.2zM145.8 171.6h3.2v3.2h-3.2zM132.8 160.6h4M134.8 158.6v4M178.7 193.6h4M180.7 191.6v4M170 202.2h4M172 200.2v4M133 174.3h4M135 172.3v4M155.2 39.6h3.2v3.2h-3.2zM217.5 40.8h4M219.5 38.8v4M144.4 192.7h4M146.4 190.7v4M123.7 96.9h3.2v3.2h-3.2zM145.7 171.8h4M147.7 169.8v4M121.7 163.7h4M123.7 161.7v4M192.7 66.6h4M194.7 64.6v4M219.8 39.9h4M221.8 37.9v4M158.8 38.1h3.2v3.2h-3.2zM120.6 101.1h4M122.6 99.1v4M219.1 190.3h4M221.1 188.3v4M122.4 135.3h3.2v3.2h-3.2z"/>
<path d="M189.6 191.6l1.6 2.2l-1.6 2.2l-1.6 -2.2zM125.9 152l1.6 2.2l-1.6 2.2l-1.6 -2.2zM189.6 188.4l1.6 2.2l-1.6 2.2l-1.6 -2.2zM169.1 38.6l1.6 2.2l-1.6 2.2l-1.6 -2.2zM192.8 192.7l1.6 2.2l-1.6 2.2l-1.6 -2.2z" fill="#39c895" fill-opacity="0.75"/>
<circle cx="126.6" cy="150.8" r="1.75"/><circle cx="273.7" cy="135.6" r="1.75"/><circle cx="194.7" cy="61.7" r="1.75"/><circle cx="127.2" cy="149.8" r="1.75"/><circle cx="186.9" cy="193.4" r="1.75"/><circle cx="281.1" cy="124.5" r="1.75"/><circle cx="156.3" cy="172.1" r="1.75"/><circle cx="131.2" cy="152" r="1.75"/><circle cx="187.4" cy="191.2" r="1.75"/><circle cx="122.6" cy="140.3" r="1.75"/><circle cx="122" cy="138.7" r="1.75"/><circle cx="157.8" cy="37.8" r="1.75"/><circle cx="236.8" cy="184.2" r="1.75"/><circle cx="153.5" cy="185.4" r="1.75"/><circle cx="196.6" cy="201.5" r="1.75"/><circle cx="227.3" cy="185" r="1.75"/><circle cx="140.7" cy="165.4" r="1.75"/><circle cx="128.9" cy="151.7" r="1.75"/>
</g>
<g stroke="#13b0d7">
<path d="M149 44.2h3.2v3.2h-3.2zM258 100.7h3.2v3.2h-3.2zM135.2 155.3h3.2v3.2h-3.2zM154.1 179.2h3.2v3.2h-3.2zM228 45.5h3.2v3.2h-3.2zM150.6 177.5h3.2v3.2h-3.2zM257.6 97.5h4M259.6 95.5v4M269.5 135.1h3.2v3.2h-3.2zM212.5 40.3h3.2v3.2h-3.2zM203.4 30.5h3.2v3.2h-3.2zM149.8 40.7h3.2v3.2h-3.2zM118.5 117h3.2v3.2h-3.2zM168 180.6h3.2v3.2h-3.2zM133 152.1h3.2v3.2h-3.2zM195.9 202.6h4M197.9 200.6v4M202.5 194.1h3.2v3.2h-3.2zM169 182.7h4M171 180.7v4M171.9 181h3.2v3.2h-3.2zM121.5 81.4h3.2v3.2h-3.2zM190.1 199.9h3.2v3.2h-3.2zM125.4 116.2h4M127.4 114.2v4M196.8 202.6h3.2v3.2h-3.2zM229.5 45.1h3.2v3.2h-3.2zM180.8 202.4h4M182.8 200.4v4M265.2 109.9h4M267.2 107.9v4M169.6 33.9h3.2v3.2h-3.2zM222.2 44.9h3.2v3.2h-3.2zM263.8 152.9h3.2v3.2h-3.2zM276.2 121.7h3.2v3.2h-3.2zM129.5 155.3h3.2v3.2h-3.2zM188.6 198.6h3.2v3.2h-3.2zM195.8 35.8h3.2v3.2h-3.2zM182.2 180.7h3.2v3.2h-3.2zM270 140h3.2v3.2h-3.2zM132.3 149.8h3.2v3.2h-3.2z"/>
<path d="M264.5 105.1l1.6 2.2l-1.6 2.2l-1.6 -2.2zM127.2 131l1.6 2.2l-1.6 2.2l-1.6 -2.2zM183 199.7l1.6 2.2l-1.6 2.2l-1.6 -2.2zM201.3 32.5l1.6 2.2l-1.6 2.2l-1.6 -2.2zM178.3 190.7l1.6 2.2l-1.6 2.2l-1.6 -2.2zM206.7 193.8l1.6 2.2l-1.6 2.2l-1.6 -2.2zM181.1 199.4l1.6 2.2l-1.6 2.2l-1.6 -2.2zM120 84.8l1.6 2.2l-1.6 2.2l-1.6 -2.2zM278.6 121.2l1.6 2.2l-1.6 2.2l-1.6 -2.2zM236.8 57l1.6 2.2l-1.6 2.2l-1.6 -2.2zM157.9 176.3l1.6 2.2l-1.6 2.2l-1.6 -2.2z" fill="#13b0d7" fill-opacity="0.75"/>
<circle cx="174.5" cy="39.9" r="1.75"/><circle cx="191.3" cy="184.5" r="1.75"/><circle cx="164.3" cy="41.8" r="1.75"/><circle cx="135.5" cy="153.5" r="1.75"/><circle cx="123.1" cy="80.5" r="1.75"/><circle cx="198.2" cy="37.9" r="1.75"/><circle cx="120.3" cy="121" r="1.75"/><circle cx="182.5" cy="39.1" r="1.75"/><circle cx="161.1" cy="174.6" r="1.75"/><circle cx="264.1" cy="102.9" r="1.75"/><circle cx="146.1" cy="192.6" r="1.75"/><circle cx="122.3" cy="150.1" r="1.75"/><circle cx="182.8" cy="185.1" r="1.75"/><circle cx="119.2" cy="137.2" r="1.75"/>
</g>
<g stroke="#02bac4">
<path d="M142 164.1h3.2v3.2h-3.2zM253.9 176.6h3.2v3.2h-3.2zM279.9 116.9h3.2v3.2h-3.2zM120 141.9h3.2v3.2h-3.2zM221.8 46.4h3.2v3.2h-3.2zM173.3 71.6h3.2v3.2h-3.2zM224.1 42.7h3.2v3.2h-3.2zM186.2 36.7h3.2v3.2h-3.2zM276.1 112.6h4M278.1 110.6v4M130.3 180.9h4M132.3 178.9v4M172.1 36h4M174.1 34v4M120.2 116.8h3.2v3.2h-3.2zM184.5 37.2h3.2v3.2h-3.2zM136.7 151.6h3.2v3.2h-3.2zM117.2 107.5h3.2v3.2h-3.2zM278.3 124.7h3.2v3.2h-3.2zM122.4 155h4M124.4 153v4M179.1 67.7h4M181.1 65.7v4M126.7 145.8h3.2v3.2h-3.2zM260.5 163.9h4M262.5 161.9v4M123.7 157.8h4M125.7 155.8v4M191.1 61.3h4M193.1 59.3v4M186.6 38.9h3.2v3.2h-3.2zM272.6 133.4h3.2v3.2h-3.2zM124.6 130.3h3.2v3.2h-3.2zM118.3 102.8h4M120.3 100.8v4M233.7 42.6h3.2v3.2h-3.2zM273.3 111.4h3.2v3.2h-3.2zM173.1 204.1h4M175.1 202.1v4M222.7 186.3h4M224.7 184.3v4M192.1 207.3h4M194.1 205.3v4M177.6 201.3h3.2v3.2h-3.2zM122.2 160.6h3.2v3.2h-3.2zM277.1 132.7h3.2v3.2h-3.2zM270.1 132.9h3.2v3.2h-3.2zM199.1 188.6h3.2v3.2h-3.2zM148.6 178.3h4M150.6 176.3v4"/>
<path d="M275.1 112.5l1.6 2.2l-1.6 2.2l-1.6 -2.2zM273.6 131.4l1.6 2.2l-1.6 2.2l-1.6 -2.2zM227.3 39.1l1.6 2.2l-1.6 2.2l-1.6 -2.2zM123.6 158.7l1.6 2.2l-1.6 2.2l-1.6 -2.2zM189.4 189.2l1.6 2.2l-1.6 2.2l-1.6 -2.2zM169.3 186.3l1.6 2.2l-1.6 2.2l-1.6 -2.2zM142.1 161.5l1.6 2.2l-1.6 2.2l-1.6 -2.2zM144.4 175.6l1.6 2.2l-1.6 2.2l-1.6 -2.2zM260.1 166.2l1.6 2.2l-1.6 2.2l-1.6 -2.2zM159 177l1.6 2.2l-1.6 2.2l-1.6 -2.2zM145.4 190.7l1.6 2.2l-1.6 2.2l-1.6 -2.2zM123.6 137.2l1.6 2.2l-1.6 2.2l-1.6 -2.2zM239 54.3l1.6 2.2l-1.6 2.2l-1.6 -2.2zM118 118.1l1.6 2.2l-1.6 2.2l-1.6 -2.2zM200.5 199.5l1.6 2.2l-1.6 2.2l-1.6 -2.2zM236.1 50.1l1.6 2.2l-1.6 2.2l-1.6 -2.2z" fill="#02bac4" fill-opacity="0.75"/>
<circle cx="136.2" cy="159" r="1.75"/><circle cx="226.7" cy="47.6" r="1.75"/><circle cx="277.7" cy="113.4" r="1.75"/><circle cx="225.9" cy="40.8" r="1.75"/><circle cx="223.9" cy="42.4" r="1.75"/><circle cx="124" cy="111.1" r="1.75"/><circle cx="121.6" cy="118" r="1.75"/><circle cx="237.5" cy="46.6" r="1.75"/><circle cx="201.6" cy="44.3" r="1.75"/><circle cx="235" cy="53.3" r="1.75"/><circle cx="241.2" cy="54.1" r="1.75"/><circle cx="272.1" cy="139.2" r="1.75"/><circle cx="180.9" cy="40.4" r="1.75"/><circle cx="124.6" cy="84.2" r="1.75"/><circle cx="202.3" cy="41.6" r="1.75"/><circle cx="219.5" cy="188.7" r="1.75"/>
</g>
<g stroke="#feca33">
<path d="M272.3 130.2h3.2v3.2h-3.2zM231.4 182.2h3.2v3.2h-3.2zM177.1 194.1h3.2v3.2h-3.2zM273.5 94.5h3.2v3.2h-3.2zM148.5 180.1h3.2v3.2h-3.2zM232 47h3.2v3.2h-3.2zM208.2 200h3.2v3.2h-3.2zM201 203.2h3.2v3.2h-3.2zM149.2 168.5h3.2v3.2h-3.2zM266.3 88.2h3.2v3.2h-3.2zM118.4 143.3h3.2v3.2h-3.2zM169.3 178.7h3.2v3.2h-3.2zM153.5 183.1h3.2v3.2h-3.2zM219.7 42h3.2v3.2h-3.2zM218.5 32.3h3.2v3.2h-3.2z"/>
<circle cx="279.8" cy="133.1" r="1.75"/><circle cx="264.1" cy="78.7" r="1.75"/><circle cx="133.5" cy="157" r="1.75"/><circle cx="126.8" cy="157.5" r="1.75"/><circle cx="182.9" cy="196.4" r="1.75"/><circle cx="218" cy="33.8" r="1.75"/><circle cx="128.9" cy="172.7" r="1.75"/><circle cx="141.4" cy="54" r="1.75"/><circle cx="120.1" cy="111.9" r="1.75"/><circle cx="217.4" cy="197.4" r="1.75"/><circle cx="126.3" cy="156" r="1.75"/><circle cx="216.3" cy="193" r="1.75"/><circle cx="153.5" cy="171.1" r="1.75"/><circle cx="152.7" cy="185.4" r="1.75"/><circle cx="129.2" cy="145.6" r="1.75"/><circle cx="183.5" cy="194.6" r="1.75"/><circle cx="232.4" cy="183.7" r="1.75"/><circle cx="135.7" cy="54.7" r="1.75"/><circle cx="189.8" cy="208.5" r="1.75"/><circle cx="265.5" cy="80.9" r="1.75"/><circle cx="277.7" cy="130.7" r="1.75"/><circle cx="220.7" cy="44.9" r="1.75"/><circle cx="211" cy="202.2" r="1.75"/><circle cx="218.2" cy="33.9" r="1.75"/><circle cx="137.6" cy="173.9" r="1.75"/><circle cx="129.5" cy="149.7" r="1.75"/><circle cx="123.5" cy="85.6" r="1.75"/><circle cx="270.4" cy="90.4" r="1.75"/><circle cx="202.7" cy="42.6" r="1.75"/><circle cx="126.4" cy="172.4" r="1.75"/><circle cx="133.5" cy="150.5" r="1.75"/><circle cx="241" cy="52.4" r="1.75"/><circle cx="156.8" cy="189.3" r="1.75"/><circle cx="118.9" cy="110.2" r="1.75"/><circle cx="184.5" cy="28.9" r="1.75"/><circle cx="134.8" cy="178.6" r="1.75"/><circle cx="225.8" cy="33.6" r="1.75"/><circle cx="181.7" cy="197.7" r="1.75"/><circle cx="185.4" cy="30.5" r="1.75"/><circle cx="191.1" cy="197.2" r="1.75"/><circle cx="138.1" cy="58.8" r="1.75"/><circle cx="123.8" cy="145.3" r="1.75"/><circle cx="177.2" cy="199.6" r="1.75"/><circle cx="194.4" cy="209.6" r="1.75"/><circle cx="268.5" cy="146.9" r="1.75"/><circle cx="119.2" cy="88.5" r="1.75"/>
</g>
<g stroke="#5ccc76">
<path d="M122.7 155.9h3.2v3.2h-3.2zM168.9 182.3h4M170.9 180.3v4M184.4 187.8h3.2v3.2h-3.2zM117.2 103.7h4M119.2 101.7v4M123.2 143.9h3.2v3.2h-3.2zM120.4 90.7h3.2v3.2h-3.2zM270.9 85.1h3.2v3.2h-3.2zM189.8 192.9h4M191.8 190.9v4M155.4 164.3h4M157.4 162.3v4M164 39.4h3.2v3.2h-3.2zM120.5 125.4h3.2v3.2h-3.2zM132.8 154.1h3.2v3.2h-3.2zM187.4 194.4h4M189.4 192.4v4M131.3 181.5h4M133.3 179.5v4M132.6 159.5h4M134.6 157.5v4M188.7 180.4h4M190.7 178.4v4M188.4 196.7h3.2v3.2h-3.2zM134.4 182.4h4M136.4 180.4v4M241.6 53.9h3.2v3.2h-3.2z"/>
<path d="M222.7 185.4l1.6 2.2l-1.6 2.2l-1.6 -2.2zM262 169.6l1.6 2.2l-1.6 2.2l-1.6 -2.2zM148.5 172.3l1.6 2.2l-1.6 2.2l-1.6 -2.2zM151.1 171.8l1.6 2.2l-1.6 2.2l-1.6 -2.2zM192.9 30.4l1.6 2.2l-1.6 2.2l-1.6 -2.2zM134.3 170l1.6 2.2l-1.6 2.2l-1.6 -2.2zM174.2 203.3l1.6 2.2l-1.6 2.2l-1.6 -2.2zM186.5 191.8l1.6 2.2l-1.6 2.2l-1.6 -2.2zM275 91.3l1.6 2.2l-1.6 2.2l-1.6 -2.2zM192.2 32l1.6 2.2l-1.6 2.2l-1.6 -2.2zM163.6 185.4l1.6 2.2l-1.6 2.2l-1.6 -2.2zM189.6 55l1.6 2.2l-1.6 2.2l-1.6 -2.2zM130.7 151.8l1.6 2.2l-1.6 2.2l-1.6 -2.2zM135.5 183.8l1.6 2.2l-1.6 2.2l-1.6 -2.2zM133.4 175.8l1.6 2.2l-1.6 2.2l-1.6 -2.2zM134.7 178.3l1.6 2.2l-1.6 2.2l-1.6 -2.2zM123.6 122.7l1.6 2.2l-1.6 2.2l-1.6 -2.2zM200.7 197.3l1.6 2.2l-1.6 2.2l-1.6 -2.2z" fill="#5ccc76" fill-opacity="0.75"/>
<circle cx="155.3" cy="36.2" r="1.75"/><circle cx="271.8" cy="147.6" r="1.75"/><circle cx="198.9" cy="63.2" r="1.75"/><circle cx="264.7" cy="160.3" r="1.75"/><circle cx="158.2" cy="43.8" r="1.75"/><circle cx="196.3" cy="31.8" r="1.75"/><circle cx="225.9" cy="188.6" r="1.75"/><circle cx="131.2" cy="173.7" r="1.75"/><circle cx="159.5" cy="185.5" r="1.75"/><circle cx="160.1" cy="45.1" r="1.75"/><circle cx="130.1" cy="156.5" r="1.75"/><circle cx="120.9" cy="105.9" r="1.75"/><circle cx="127.1" cy="126.2" r="1.75"/><circle cx="135.9" cy="156.1" r="1.75"/><circle cx="135.6" cy="175.4" r="1.75"/><circle cx="272.2" cy="146.1" r="1.75"/><circle cx="140" cy="187.5" r="1.75"/><circle cx="228.6" cy="186.3" r="1.75"/>
</g>
<g stroke="#dabd28">
<path d="M272.4 144.5h3.2v3.2h-3.2zM147.6 189.2h3.2v3.2h-3.2zM250.6 170.2h3.2v3.2h-3.2zM139 180.8h3.2v3.2h-3.2zM158.4 43.9h3.2v3.2h-3.2zM152.9 170h3.2v3.2h-3.2zM126.1 75h3.2v3.2h-3.2zM138.2 171.9h3.2v3.2h-3.2zM263.7 78.1h3.2v3.2h-3.2zM119.9 113.7h3.2v3.2h-3.2zM217.8 37h3.2v3.2h-3.2zM133.7 157.3h3.2v3.2h-3.2zM210.2 200.8h3.2v3.2h-3.2zM179.5 186.1h3.2v3.2h-3.2zM232.6 47h3.2v3.2h-3.2zM158.4 40.9h3.2v3.2h-3.2zM123.1 122.6h3.2v3.2h-3.2zM194.7 161.5h3.2v3.2h-3.2zM123.9 75h3.2v3.2h-3.2zM124.3 165h3.2v3.2h-3.2zM124.9 132.2h3.2v3.2h-3.2zM210.6 193.8h3.2v3.2h-3.2zM176.3 195.7h3.2v3.2h-3.2zM221.3 184.3h3.2v3.2h-3.2zM166.4 183.3h3.2v3.2h-3.2zM210.3 193.7h3.2v3.2h-3.2zM219.6 190.5h3.2v3.2h-3.2zM149.7 186.3h3.2v3.2h-3.2zM270.5 91.4h3.2v3.2h-3.2zM177.8 200.1h3.2v3.2h-3.2z"/>
<circle cx="232.6" cy="48.3" r="1.75"/><circle cx="135.4" cy="156.1" r="1.75"/><circle cx="198.6" cy="201.5" r="1.75"/><circle cx="124.7" cy="80.4" r="1.75"/><circle cx="121.9" cy="104.3" r="1.75"/><circle cx="202.4" cy="28.7" r="1.75"/><circle cx="279.3" cy="126.9" r="1.75"/><circle cx="275.7" cy="130.6" r="1.75"/><circle cx="149" cy="51.6" r="1.75"/><circle cx="147.6" cy="175.7" r="1.75"/><circle cx="173" cy="183" r="1.75"/><circle cx="273.4" cy="121.3" r="1.75"/><circle cx="267" cy="161.4" r="1.75"/><circle cx="253.1" cy="170" r="1.75"/><circle cx="151.9" cy="48.9" r="1.75"/><circle cx="250.8" cy="168.6" r="1.75"/><circle cx="136.1" cy="174.5" r="1.75"/><circle cx="186.8" cy="28.7" r="1.75"/><circle cx="196.2" cy="202" r="1.75"/><circle cx="261.2" cy="74.2" r="1.75"/><circle cx="226.8" cy="40.9" r="1.75"/><circle cx="179.7" cy="204.4" r="1.75"/><circle cx="185" cy="28.7" r="1.75"/><circle cx="121.8" cy="126.5" r="1.75"/><circle cx="221.8" cy="197" r="1.75"/><circle cx="132.9" cy="57.8" r="1.75"/><circle cx="126.3" cy="73.7" r="1.75"/><circle cx="212.8" cy="194" r="1.75"/><circle cx="190.3" cy="197.6" r="1.75"/><circle cx="141.6" cy="181.1" r="1.75"/><circle cx="271.2" cy="157" r="1.75"/><circle cx="270.6" cy="88.4" r="1.75"/><circle cx="276.9" cy="128.2" r="1.75"/><circle cx="192.7" cy="30.2" r="1.75"/><circle cx="123.1" cy="106" r="1.75"/><circle cx="247.1" cy="177.5" r="1.75"/><circle cx="165.7" cy="41.9" r="1.75"/><circle cx="163.8" cy="66.8" r="1.75"/><circle cx="190.2" cy="45.4" r="1.75"/><circle cx="220.2" cy="32.2" r="1.75"/><circle cx="135" cy="157.1" r="1.75"/><circle cx="126.3" cy="75.4" r="1.75"/><circle cx="234.5" cy="51.1" r="1.75"/><circle cx="145.9" cy="170.7" r="1.75"/><circle cx="234.6" cy="46.1" r="1.75"/><circle cx="128.7" cy="158.5" r="1.75"/><circle cx="126.6" cy="132.8" r="1.75"/><circle cx="165.5" cy="199.6" r="1.75"/><circle cx="146.8" cy="190.6" r="1.75"/><circle cx="224.4" cy="195.3" r="1.75"/><circle cx="167.2" cy="181" r="1.75"/><circle cx="145.6" cy="170.7" r="1.75"/><circle cx="172.1" cy="203" r="1.75"/><circle cx="226.5" cy="186.9" r="1.75"/><circle cx="151.5" cy="170.1" r="1.75"/><circle cx="147.2" cy="51.6" r="1.75"/><circle cx="168" cy="203.8" r="1.75"/><circle cx="154.7" cy="181" r="1.75"/><circle cx="264.5" cy="166.5" r="1.75"/><circle cx="251.5" cy="175.4" r="1.75"/><circle cx="142.2" cy="183.7" r="1.75"/><circle cx="274.2" cy="123.7" r="1.75"/><circle cx="176.8" cy="69.9" r="1.75"/><circle cx="189.2" cy="194.8" r="1.75"/><circle cx="151.4" cy="180.4" r="1.75"/><circle cx="127.1" cy="137.8" r="1.75"/><circle cx="129.5" cy="118.5" r="1.75"/><circle cx="271.4" cy="157.1" r="1.75"/><circle cx="276.4" cy="128.7" r="1.75"/><circle cx="199.9" cy="44.3" r="1.75"/><circle cx="203.1" cy="28.2" r="1.75"/><circle cx="139" cy="55.6" r="1.75"/><circle cx="153.8" cy="187" r="1.75"/><circle cx="275.6" cy="103.6" r="1.75"/><circle cx="235" cy="45.7" r="1.75"/><circle cx="276.2" cy="123.7" r="1.75"/><circle cx="216.9" cy="40.4" r="1.75"/><circle cx="146.3" cy="185.6" r="1.75"/><circle cx="126.3" cy="129.8" r="1.75"/><circle cx="126.5" cy="158.2" r="1.75"/><circle cx="208.6" cy="198.7" r="1.75"/><circle cx="178" cy="27.1" r="1.75"/>
</g>
<g stroke="#2e83f9">
<path d="M150.6 47.1h4M152.6 45.1v4M219.6 43.4h4M221.6 41.4v4M277.2 112.7h4M279.2 110.7v4"/>
<path d="M202.4 33.1l1.6 2.2l-1.6 2.2l-1.6 -2.2zM169.7 65.9l1.6 2.2l-1.6 2.2l-1.6 -2.2zM277.8 107.9l1.6 2.2l-1.6 2.2l-1.6 -2.2zM261.4 106.1l1.6 2.2l-1.6 2.2l-1.6 -2.2zM181.2 33.3l1.6 2.2l-1.6 2.2l-1.6 -2.2z" fill="#2e83f9" fill-opacity="0.75"/>
</g>
<g stroke="#3d70ff">
<path d="M118.1 158.2h4M120.1 156.2v4M276.6 110.1h4M278.6 108.1v4M120.9 151.3h4M122.9 149.3v4"/>
<path d="M150.4 45.4l1.6 2.2l-1.6 2.2l-1.6 -2.2zM217.5 42.5l1.6 2.2l-1.6 2.2l-1.6 -2.2zM186.6 40.2l1.6 2.2l-1.6 2.2l-1.6 -2.2zM277.2 109.6l1.6 2.2l-1.6 2.2l-1.6 -2.2zM215.3 39.8l1.6 2.2l-1.6 2.2l-1.6 -2.2zM149.7 48.1l1.6 2.2l-1.6 2.2l-1.6 -2.2z" fill="#3d70ff" fill-opacity="0.75"/>
</g>
<g stroke="#21a3e3">
<path d="M169.3 183.3h3.2v3.2h-3.2zM184.4 36.8h3.2v3.2h-3.2zM263.6 108.3h4M265.6 106.3v4M182.8 38.9h4M184.8 36.9v4M258.4 99.5h3.2v3.2h-3.2zM217.3 36.7h3.2v3.2h-3.2zM184.9 32.9h3.2v3.2h-3.2zM126.6 129.1h3.2v3.2h-3.2zM142 180.1h4M144 178.1v4M183.6 40.5h4M185.6 38.5v4M115.4 109.8h3.2v3.2h-3.2zM227 46.2h3.2v3.2h-3.2zM229.7 51.9h4M231.7 49.9v4M119.7 114.1h3.2v3.2h-3.2zM250.2 65.5h4M252.2 63.5v4M230 47.1h3.2v3.2h-3.2zM142.8 67.8h4M144.8 65.8v4M248.3 62.2h4M250.3 60.2v4M219.6 183.2h3.2v3.2h-3.2z"/>
<path d="M185.3 200.6l1.6 2.2l-1.6 2.2l-1.6 -2.2zM187.9 37.5l1.6 2.2l-1.6 2.2l-1.6 -2.2zM266.3 154.2l1.6 2.2l-1.6 2.2l-1.6 -2.2z" fill="#21a3e3" fill-opacity="0.75"/>
<circle cx="172.5" cy="37.2" r="1.75"/><circle cx="150.5" cy="41.5" r="1.75"/><circle cx="152.4" cy="63.3" r="1.75"/><circle cx="130.6" cy="159.9" r="1.75"/>
</g>
<g stroke="#f6f21e">
<path d="M119.7 101.4h3.2v3.2h-3.2zM144.8 51.5h3.2v3.2h-3.2z"/>
<circle cx="203.6" cy="29.9" r="1.75"/><circle cx="201.4" cy="202.3" r="1.75"/><circle cx="276.4" cy="101" r="1.75"/>
</g>
<g stroke="#2994ed">
<path d="M184.5 33.9h3.2v3.2h-3.2zM202.8 190.9h3.2v3.2h-3.2zM156.4 178.3h3.2v3.2h-3.2zM225.2 43.9h3.2v3.2h-3.2zM221.5 183.8h3.2v3.2h-3.2zM183.8 200.4h3.2v3.2h-3.2z"/>
<path d="M185 34l1.6 2.2l-1.6 2.2l-1.6 -2.2z" fill="#2994ed" fill-opacity="0.75"/>
<circle cx="217.7" cy="188.3" r="1.75"/><circle cx="124.4" cy="151.3" r="1.75"/><circle cx="202.6" cy="194.8" r="1.75"/>
</g>
<g stroke="#484cef">
<path d="M185 40.3h4M187 38.3v4"/>
<path d="M179.6 202.5l1.6 2.2l-1.6 2.2l-1.6 -2.2zM278.4 109.6l1.6 2.2l-1.6 2.2l-1.6 -2.2z" fill="#484cef" fill-opacity="0.75"/>
</g>
<g stroke="#463adc">
<path d="M276.3 113.4l1.6 2.2l-1.6 2.2l-1.6 -2.2z" fill="#463adc" fill-opacity="0.75"/>
</g>
<g stroke="#465efb">
<path d="M271 124.6h4M273 122.6v4M276.7 114.5h4M278.7 112.5v4"/>
<path d="M189.9 38.6l1.6 2.2l-1.6 2.2l-1.6 -2.2zM121.9 152.5l1.6 2.2l-1.6 2.2l-1.6 -2.2zM149.1 48.6l1.6 2.2l-1.6 2.2l-1.6 -2.2z" fill="#465efb" fill-opacity="0.75"/>
</g>
<g stroke="#02bac4">
<path d="M182.5 35.8h3.2v3.2h-3.2zM164.6 36.2h4M166.6 34.2v4M124.1 145.7h3.2v3.2h-3.2zM272 110.6h3.2v3.2h-3.2zM149.7 43.7h3.2v3.2h-3.2zM257.9 164.4h3.2v3.2h-3.2zM222.7 41.5h4M224.7 39.5v4M165.8 180.2h3.2v3.2h-3.2zM239.2 56.3h3.2v3.2h-3.2zM147 192.6h3.2v3.2h-3.2zM237.1 49.8h4M239.1 47.8v4M180.1 182.9h3.2v3.2h-3.2zM220.6 43.7h3.2v3.2h-3.2zM213.6 191.7h3.2v3.2h-3.2zM250.8 61.9h3.2v3.2h-3.2zM157 175.9h4M159 173.9v4M119.6 78.7h4M121.6 76.7v4M140.3 192h3.2v3.2h-3.2zM125 147.9h3.2v3.2h-3.2zM270.5 90.5h3.2v3.2h-3.2zM120.3 100.4h3.2v3.2h-3.2zM116.1 117.5h4M118.1 115.5v4M224.6 186.7h3.2v3.2h-3.2zM135.6 187.3h3.2v3.2h-3.2zM175.4 67.5h4M177.4 65.5v4M173.9 32.7h4M175.9 30.7v4M192.8 206.5h3.2v3.2h-3.2zM199.6 42.8h4M201.6 40.8v4M192.1 60.8h3.2v3.2h-3.2zM114.5 113.8h3.2v3.2h-3.2zM182.3 192.3h3.2v3.2h-3.2zM163.3 184h4M165.3 182v4M174.8 36.6h4M176.8 34.6v4M199.3 193.6h3.2v3.2h-3.2zM228.5 49.5h3.2v3.2h-3.2zM172.9 35h3.2v3.2h-3.2zM244.7 58.2h3.2v3.2h-3.2zM183.8 42.7h4M185.8 40.7v4M173.4 27.8h3.2v3.2h-3.2zM269.4 93.8h4M271.4 91.8v4M148.1 194.1h3.2v3.2h-3.2z"/>
<path d="M212.2 39.3l1.6 2.2l-1.6 2.2l-1.6 -2.2zM150.4 178.9l1.6 2.2l-1.6 2.2l-1.6 -2.2zM247.3 56.6l1.6 2.2l-1.6 2.2l-1.6 -2.2zM136 150.9l1.6 2.2l-1.6 2.2l-1.6 -2.2zM272.8 135.2l1.6 2.2l-1.6 2.2l-1.6 -2.2zM226.1 180.7l1.6 2.2l-1.6 2.2l-1.6 -2.2zM220.5 38.5l1.6 2.2l-1.6 2.2l-1.6 -2.2zM258.6 172.7l1.6 2.2l-1.6 2.2l-1.6 -2.2zM123.8 144.1l1.6 2.2l-1.6 2.2l-1.6 -2.2zM237.4 44.4l1.6 2.2l-1.6 2.2l-1.6 -2.2zM124.6 153.7l1.6 2.2l-1.6 2.2l-1.6 -2.2zM234.8 40.4l1.6 2.2l-1.6 2.2l-1.6 -2.2zM201.2 40l1.6 2.2l-1.6 2.2l-1.6 -2.2zM151.2 39.6l1.6 2.2l-1.6 2.2l-1.6 -2.2z" fill="#02bac4" fill-opacity="0.75"/>
<circle cx="124.5" cy="139.7" r="1.75"/><circle cx="201.7" cy="39.8" r="1.75"/><circle cx="234.2" cy="49.6" r="1.75"/><circle cx="122.2" cy="141" r="1.75"/><circle cx="193.2" cy="35.5" r="1.75"/><circle cx="182.3" cy="166.8" r="1.75"/><circle cx="278.8" cy="112.7" r="1.75"/><circle cx="199.7" cy="199.6" r="1.75"/><circle cx="202.3" cy="40.1" r="1.75"/><circle cx="182.2" cy="202.9" r="1.75"/><circle cx="185.4" cy="200.6" r="1.75"/><circle cx="227.7" cy="49.8" r="1.75"/>
</g>
<g stroke="#f8ba3d">
<path d="M196.3 201.6h3.2v3.2h-3.2zM254 64.1h3.2v3.2h-3.2zM256 68.8h3.2v3.2h-3.2zM270.4 135.2h3.2v3.2h-3.2zM271 131.2h3.2v3.2h-3.2zM131.5 149.8h3.2v3.2h-3.2zM209.2 201.1h3.2v3.2h-3.2zM122.2 72.7h3.2v3.2h-3.2zM268.1 158.1h3.2v3.2h-3.2zM273.1 141.1h3.2v3.2h-3.2zM215.6 194.9h3.2v3.2h-3.2zM121.4 121.2h3.2v3.2h-3.2zM275.2 139.6h3.2v3.2h-3.2zM149.4 188.2h3.2v3.2h-3.2zM238.2 181h3.2v3.2h-3.2zM120.6 124.7h3.2v3.2h-3.2zM171 189.8h3.2v3.2h-3.2zM214.2 187.9h3.2v3.2h-3.2zM274.4 139.9h3.2v3.2h-3.2zM275.8 127.8h3.2v3.2h-3.2z"/>
<circle cx="272.1" cy="125.6" r="1.75"/><circle cx="128.6" cy="163.9" r="1.75"/><circle cx="183.3" cy="28.9" r="1.75"/><circle cx="274.7" cy="132.1" r="1.75"/><circle cx="119.8" cy="117.9" r="1.75"/><circle cx="122.3" cy="107.3" r="1.75"/><circle cx="178.1" cy="204.8" r="1.75"/><circle cx="134.2" cy="154.1" r="1.75"/><circle cx="191.2" cy="38.2" r="1.75"/><circle cx="160.2" cy="178.8" r="1.75"/><circle cx="192.6" cy="35.2" r="1.75"/><circle cx="198.1" cy="201.6" r="1.75"/><circle cx="123.2" cy="112.8" r="1.75"/><circle cx="211.8" cy="33.3" r="1.75"/><circle cx="273.6" cy="125.7" r="1.75"/><circle cx="179.9" cy="202.1" r="1.75"/><circle cx="170" cy="183.2" r="1.75"/><circle cx="125.1" cy="78.2" r="1.75"/><circle cx="128.9" cy="158.2" r="1.75"/><circle cx="130.7" cy="160.3" r="1.75"/><circle cx="193.7" cy="199.1" r="1.75"/><circle cx="274.4" cy="132.9" r="1.75"/><circle cx="172.9" cy="201.8" r="1.75"/><circle cx="232.5" cy="48.1" r="1.75"/><circle cx="192.5" cy="34.5" r="1.75"/><circle cx="178.3" cy="198.1" r="1.75"/><circle cx="193.4" cy="27.4" r="1.75"/><circle cx="206.2" cy="192" r="1.75"/><circle cx="240.9" cy="53.3" r="1.75"/><circle cx="206.9" cy="32.8" r="1.75"/><circle cx="122.4" cy="115.2" r="1.75"/><circle cx="126.6" cy="157.8" r="1.75"/><circle cx="280.4" cy="137.9" r="1.75"/><circle cx="276.4" cy="117.7" r="1.75"/><circle cx="120.2" cy="89.8" r="1.75"/><circle cx="191.3" cy="27.5" r="1.75"/><circle cx="228.7" cy="188" r="1.75"/><circle cx="145.9" cy="167.2" r="1.75"/><circle cx="193.5" cy="197.4" r="1.75"/><circle cx="192.1" cy="207.8" r="1.75"/><circle cx="126.1" cy="109.5" r="1.75"/><circle cx="177" cy="199.3" r="1.75"/><circle cx="224.4" cy="34.7" r="1.75"/><circle cx="190.6" cy="33.9" r="1.75"/><circle cx="230" cy="47.7" r="1.75"/><circle cx="139.5" cy="161.5" r="1.75"/><circle cx="276.8" cy="133.6" r="1.75"/><circle cx="150.9" cy="177" r="1.75"/><circle cx="172.6" cy="182.3" r="1.75"/><circle cx="122.7" cy="105.2" r="1.75"/><circle cx="122.6" cy="98.6" r="1.75"/><circle cx="277" cy="133.1" r="1.75"/><circle cx="148.1" cy="46.7" r="1.75"/><circle cx="272.2" cy="95" r="1.75"/><circle cx="122.7" cy="103.8" r="1.75"/><circle cx="195" cy="165.2" r="1.75"/><circle cx="200.1" cy="203.8" r="1.75"/><circle cx="177.6" cy="185.7" r="1.75"/><circle cx="128" cy="72.3" r="1.75"/><circle cx="163" cy="43.5" r="1.75"/><circle cx="188.6" cy="203.9" r="1.75"/><circle cx="273" cy="121.9" r="1.75"/><circle cx="173.5" cy="68.3" r="1.75"/><circle cx="165.3" cy="199.8" r="1.75"/><circle cx="271.4" cy="160.7" r="1.75"/><circle cx="124.6" cy="114.7" r="1.75"/><circle cx="162.3" cy="41.6" r="1.75"/><circle cx="126.2" cy="100.6" r="1.75"/><circle cx="143.6" cy="72.2" r="1.75"/><circle cx="181.3" cy="202.3" r="1.75"/><circle cx="276.8" cy="136.2" r="1.75"/>
</g>
<g stroke="#feca33">
<path d="M240.4 49h3.2v3.2h-3.2zM270.2 90.4h3.2v3.2h-3.2zM274.7 97.2h3.2v3.2h-3.2zM191 26.4h3.2v3.2h-3.2zM276.2 97h3.2v3.2h-3.2zM149.9 169.6h3.2v3.2h-3.2zM222 34.7h3.2v3.2h-3.2zM125.9 148.3h3.2v3.2h-3.2zM232.2 186.2h3.2v3.2h-3.2zM186.3 39.8h3.2v3.2h-3.2zM192.5 29.4h3.2v3.2h-3.2zM170.7 189.8h3.2v3.2h-3.2zM168.2 192.2h3.2v3.2h-3.2zM265 75.3h3.2v3.2h-3.2zM120.4 107.9h3.2v3.2h-3.2zM127.1 145.7h3.2v3.2h-3.2zM236.1 179.7h3.2v3.2h-3.2z"/>
<circle cx="125.4" cy="131.9" r="1.75"/><circle cx="124" cy="117.8" r="1.75"/><circle cx="269.9" cy="157.1" r="1.75"/><circle cx="132.1" cy="146" r="1.75"/><circle cx="203.1" cy="26.6" r="1.75"/><circle cx="169.5" cy="178.1" r="1.75"/><circle cx="216.7" cy="35.2" r="1.75"/><circle cx="225.1" cy="37.5" r="1.75"/><circle cx="273" cy="101.9" r="1.75"/><circle cx="201.4" cy="204.6" r="1.75"/><circle cx="187.3" cy="44.2" r="1.75"/><circle cx="127.8" cy="160.3" r="1.75"/><circle cx="126.4" cy="74.2" r="1.75"/><circle cx="186.8" cy="193.6" r="1.75"/><circle cx="144.5" cy="74.3" r="1.75"/><circle cx="148.5" cy="189.8" r="1.75"/><circle cx="163.3" cy="172.1" r="1.75"/><circle cx="192.5" cy="206.2" r="1.75"/><circle cx="184.7" cy="194" r="1.75"/><circle cx="166.1" cy="66.4" r="1.75"/><circle cx="222" cy="44.2" r="1.75"/><circle cx="145.5" cy="177.4" r="1.75"/><circle cx="235.3" cy="187.8" r="1.75"/><circle cx="161.5" cy="172.7" r="1.75"/><circle cx="121.8" cy="106.9" r="1.75"/><circle cx="174.9" cy="191.4" r="1.75"/><circle cx="148.7" cy="49.8" r="1.75"/><circle cx="134.8" cy="152.5" r="1.75"/><circle cx="191.9" cy="207.8" r="1.75"/><circle cx="224.7" cy="35.2" r="1.75"/><circle cx="170.9" cy="192.4" r="1.75"/><circle cx="276.4" cy="102.3" r="1.75"/><circle cx="134.9" cy="178.1" r="1.75"/><circle cx="146.4" cy="183.2" r="1.75"/><circle cx="174.2" cy="190.6" r="1.75"/><circle cx="120.7" cy="114.6" r="1.75"/><circle cx="193.5" cy="34.4" r="1.75"/><circle cx="210.4" cy="201.9" r="1.75"/><circle cx="169.4" cy="200.7" r="1.75"/><circle cx="185" cy="42.1" r="1.75"/><circle cx="218.3" cy="200.8" r="1.75"/><circle cx="133.5" cy="168.3" r="1.75"/>
</g>
<g stroke="#13b0d7">
<path d="M173.1 32.7h3.2v3.2h-3.2zM196.2 201.2h4M198.2 199.2v4M263.6 159.5h3.2v3.2h-3.2zM125.2 110.3h4M127.2 108.3v4M150.7 179.2h3.2v3.2h-3.2zM163.5 38.2h3.2v3.2h-3.2zM232.6 44.8h3.2v3.2h-3.2zM271.1 134.4h4M273.1 132.4v4M136 156.1h3.2v3.2h-3.2zM160 45.6h3.2v3.2h-3.2zM233.7 55.1h4M235.7 53.1v4M123.5 113.3h3.2v3.2h-3.2zM137.5 68.9h4M139.5 66.9v4M202.8 44h4M204.8 42v4M188.9 196.7h3.2v3.2h-3.2zM201.1 195.8h4M203.1 193.8v4M271.5 113.2h4M273.5 111.2v4M240.6 55.3h3.2v3.2h-3.2zM198 192.2h3.2v3.2h-3.2zM162.2 39.8h3.2v3.2h-3.2zM170.6 183h3.2v3.2h-3.2zM174.1 179.3h3.2v3.2h-3.2zM163.5 176.9h3.2v3.2h-3.2zM223.1 43.4h4M225.1 41.4v4M205.3 39.7h3.2v3.2h-3.2zM170.8 34.6h4M172.8 32.6v4M222.5 37.9h3.2v3.2h-3.2z"/>
<path d="M215.3 35.2l1.6 2.2l-1.6 2.2l-1.6 -2.2zM160.6 173.6l1.6 2.2l-1.6 2.2l-1.6 -2.2zM217 189.2l1.6 2.2l-1.6 2.2l-1.6 -2.2zM154.8 178.8l1.6 2.2l-1.6 2.2l-1.6 -2.2zM258.1 166.8l1.6 2.2l-1.6 2.2l-1.6 -2.2zM129.7 156.5l1.6 2.2l-1.6 2.2l-1.6 -2.2zM126.6 129.9l1.6 2.2l-1.6 2.2l-1.6 -2.2zM147.7 43.9l1.6 2.2l-1.6 2.2l-1.6 -2.2zM254.5 60.3l1.6 2.2l-1.6 2.2l-1.6 -2.2zM179.5 30.8l1.6 2.2l-1.6 2.2l-1.6 -2.2zM156.4 175.3l1.6 2.2l-1.6 2.2l-1.6 -2.2zM204 191.5l1.6 2.2l-1.6 2.2l-1.6 -2.2zM199.5 187.8l1.6 2.2l-1.6 2.2l-1.6 -2.2zM204.7 201.5l1.6 2.2l-1.6 2.2l-1.6 -2.2zM148 61.1l1.6 2.2l-1.6 2.2l-1.6 -2.2zM176 180l1.6 2.2l-1.6 2.2l-1.6 -2.2zM127.6 152.4l1.6 2.2l-1.6 2.2l-1.6 -2.2zM202.3 189.9l1.6 2.2l-1.6 2.2l-1.6 -2.2z" fill="#13b0d7" fill-opacity="0.75"/>
<circle cx="224.2" cy="40.5" r="1.75"/><circle cx="173.7" cy="33.2" r="1.75"/><circle cx="123" cy="143.7" r="1.75"/><circle cx="272.9" cy="114.5" r="1.75"/><circle cx="207" cy="33.9" r="1.75"/><circle cx="255.5" cy="98.9" r="1.75"/><circle cx="155.9" cy="166.7" r="1.75"/><circle cx="221.7" cy="40.4" r="1.75"/><circle cx="151.1" cy="39.1" r="1.75"/><circle cx="201.9" cy="32.3" r="1.75"/><circle cx="194.5" cy="39.9" r="1.75"/>
</g>
<g stroke="#39c895">
<path d="M133.5 179.8h3.2v3.2h-3.2zM134 183.6h4M136 181.6v4M149.3 169.2h4M151.3 167.2v4M128.3 150.1h4M130.3 148.1v4M134 184.1h4M136 182.1v4M178.5 196.5h3.2v3.2h-3.2zM126.9 178.7h4M128.9 176.7v4M269.2 142.9h3.2v3.2h-3.2zM119.6 160h4M121.6 158v4M147.7 176.5h4M149.7 174.5v4M167.2 179.8h4M169.2 177.8v4M276.1 88.1h3.2v3.2h-3.2zM268 143.6h4M270 141.6v4M139.6 184.3h4M141.6 182.3v4M148.9 170.1h4M150.9 168.1v4M185.2 42.8h4M187.2 40.8v4M224.8 186.7h4M226.8 184.7v4M179.7 193.2h4M181.7 191.2v4M212.8 40.1h3.2v3.2h-3.2zM197.8 198.6h4M199.8 196.6v4M138.7 164.1h3.2v3.2h-3.2z"/>
<path d="M135.5 177.5l1.6 2.2l-1.6 2.2l-1.6 -2.2zM210.2 58.6l1.6 2.2l-1.6 2.2l-1.6 -2.2zM179.9 195.4l1.6 2.2l-1.6 2.2l-1.6 -2.2zM124.6 103.9l1.6 2.2l-1.6 2.2l-1.6 -2.2zM144.4 189.3l1.6 2.2l-1.6 2.2l-1.6 -2.2zM134.1 170.2l1.6 2.2l-1.6 2.2l-1.6 -2.2zM126.3 100.4l1.6 2.2l-1.6 2.2l-1.6 -2.2zM130.5 152l1.6 2.2l-1.6 2.2l-1.6 -2.2zM241.5 54l1.6 2.2l-1.6 2.2l-1.6 -2.2zM222.2 187.4l1.6 2.2l-1.6 2.2l-1.6 -2.2zM121.8 138.5l1.6 2.2l-1.6 2.2l-1.6 -2.2z" fill="#39c895" fill-opacity="0.75"/>
<circle cx="223.3" cy="40.2" r="1.75"/><circle cx="191" cy="194.5" r="1.75"/><circle cx="148.6" cy="172.9" r="1.75"/><circle cx="156.8" cy="183.8" r="1.75"/><circle cx="189.2" cy="42.4" r="1.75"/><circle cx="169.1" cy="41" r="1.75"/><circle cx="251" cy="181.2" r="1.75"/><circle cx="123.7" cy="158.9" r="1.75"/><circle cx="142.3" cy="170.1" r="1.75"/><circle cx="133.9" cy="182.3" r="1.75"/><circle cx="177.8" cy="34.8" r="1.75"/><circle cx="194.2" cy="64.5" r="1.75"/><circle cx="138.2" cy="157.5" r="1.75"/><circle cx="127.1" cy="149.6" r="1.75"/><circle cx="121.9" cy="156.5" r="1.75"/><circle cx="159.1" cy="36.4" r="1.75"/><circle cx="234.6" cy="184.9" r="1.75"/><circle cx="254.1" cy="174" r="1.75"/><circle cx="155.9" cy="39.6" r="1.75"/><circle cx="171.6" cy="35.6" r="1.75"/>
</g>
<g stroke="#5ccc76">
<path d="M205.9 27.9h3.2v3.2h-3.2zM233.6 180.5h4M235.6 178.5v4M119.6 102.2h3.2v3.2h-3.2zM225.2 40.5h4M227.2 38.5v4M141.9 71.5h3.2v3.2h-3.2zM192.2 199.7h4M194.2 197.7v4M275.7 116.8h3.2v3.2h-3.2zM188.9 198.2h4M190.9 196.2v4M193.1 67.8h4M195.1 65.8v4M161.5 186.1h4M163.5 184.1v4M170.3 36.7h3.2v3.2h-3.2zM129.7 154.6h4M131.7 152.6v4M135.7 157.3h4M137.7 155.3v4M192.8 198.3h4M194.8 196.3v4M158.6 42.8h3.2v3.2h-3.2zM123.6 153.1h3.2v3.2h-3.2zM119.6 97.4h4M121.6 95.4v4M134.4 157.1h4M136.4 155.1v4"/>
<path d="M119 100.3l1.6 2.2l-1.6 2.2l-1.6 -2.2zM271 141.8l1.6 2.2l-1.6 2.2l-1.6 -2.2zM129.3 147.5l1.6 2.2l-1.6 2.2l-1.6 -2.2zM168.6 179.6l1.6 2.2l-1.6 2.2l-1.6 -2.2zM189.3 192.8l1.6 2.2l-1.6 2.2l-1.6 -2.2zM224.3 188.5l1.6 2.2l-1.6 2.2l-1.6 -2.2zM188.6 197.5l1.6 2.2l-1.6 2.2l-1.6 -2.2zM175.9 62.6l1.6 2.2l-1.6 2.2l-1.6 -2.2zM146.1 42.2l1.6 2.2l-1.6 2.2l-1.6 -2.2zM123.9 136.7l1.6 2.2l-1.6 2.2l-1.6 -2.2z" fill="#5ccc76" fill-opacity="0.75"/>
<circle cx="125.1" cy="139.7" r="1.75"/><circle cx="123.3" cy="139.5" r="1.75"/><circle cx="156.1" cy="177.4" r="1.75"/><circle cx="199.3" cy="194.3" r="1.75"/><circle cx="132.2" cy="131.2" r="1.75"/><circle cx="226.6" cy="184.7" r="1.75"/><circle cx="175" cy="33.9" r="1.75"/><circle cx="160.5" cy="43" r="1.75"/><circle cx="189.9" cy="197.3" r="1.75"/><circle cx="126" cy="141.3" r="1.75"/><circle cx="160.9" cy="184.5" r="1.75"/><circle cx="186.3" cy="194.4" r="1.75"/><circle cx="122.9" cy="100.1" r="1.75"/><circle cx="278.9" cy="125.3" r="1.75"/><circle cx="230.4" cy="185.6" r="1.75"/><circle cx="148.5" cy="190.9" r="1.75"/><circle cx="204.4" cy="41.2" r="1.75"/>
</g>
<g stroke="#dabd28">
<path d="M152 170.4h3.2v3.2h-3.2zM198 190.8h3.2v3.2h-3.2zM160.8 39h3.2v3.2h-3.2zM188.7 30.6h3.2v3.2h-3.2zM149.9 46.2h3.2v3.2h-3.2zM221.2 185.4h3.2v3.2h-3.2zM157.3 43.8h3.2v3.2h-3.2zM127.3 174h3.2v3.2h-3.2zM126.3 76.4h3.2v3.2h-3.2zM163.9 38.8h3.2v3.2h-3.2zM120.7 96h3.2v3.2h-3.2zM132.2 153.2h3.2v3.2h-3.2zM223.5 187.7h3.2v3.2h-3.2zM126.2 155.6h3.2v3.2h-3.2zM274 119.7h3.2v3.2h-3.2zM184.7 28.8h3.2v3.2h-3.2zM116.4 115.5h3.2v3.2h-3.2zM195.9 200.7h3.2v3.2h-3.2zM119.5 91.5h3.2v3.2h-3.2zM265.8 123.5h3.2v3.2h-3.2zM116.1 90.7h3.2v3.2h-3.2zM125.5 116.1h3.2v3.2h-3.2zM119.5 86h3.2v3.2h-3.2zM184.4 25.5h3.2v3.2h-3.2zM147.1 181.5h3.2v3.2h-3.2z"/>
<circle cx="211.8" cy="37.8" r="1.75"/><circle cx="125.2" cy="120.4" r="1.75"/><circle cx="246.6" cy="180.6" r="1.75"/><circle cx="268.9" cy="157.4" r="1.75"/><circle cx="196.9" cy="59.7" r="1.75"/><circle cx="271.6" cy="131.9" r="1.75"/><circle cx="126.4" cy="122.8" r="1.75"/><circle cx="256.7" cy="68.2" r="1.75"/><circle cx="137.3" cy="54.1" r="1.75"/><circle cx="237.1" cy="46.8" r="1.75"/><circle cx="137.1" cy="158.8" r="1.75"/><circle cx="221.4" cy="196.2" r="1.75"/><circle cx="276.1" cy="117.9" r="1.75"/><circle cx="178.4" cy="27.6" r="1.75"/><circle cx="124.6" cy="70.2" r="1.75"/><circle cx="194.2" cy="195.2" r="1.75"/><circle cx="220.8" cy="189" r="1.75"/><circle cx="186.2" cy="39.5" r="1.75"/><circle cx="127.4" cy="119.6" r="1.75"/><circle cx="267.5" cy="156.8" r="1.75"/><circle cx="229.1" cy="186.2" r="1.75"/><circle cx="140.7" cy="75.1" r="1.75"/><circle cx="135.5" cy="155" r="1.75"/><circle cx="124.8" cy="124.7" r="1.75"/><circle cx="253.1" cy="172.6" r="1.75"/><circle cx="126.4" cy="76.5" r="1.75"/><circle cx="196.7" cy="31.8" r="1.75"/><circle cx="211.4" cy="193.6" r="1.75"/><circle cx="225.6" cy="197.3" r="1.75"/><circle cx="154.6" cy="173.5" r="1.75"/><circle cx="168.2" cy="65.4" r="1.75"/><circle cx="220.4" cy="40.8" r="1.75"/><circle cx="214.5" cy="195.8" r="1.75"/><circle cx="145.6" cy="185.2" r="1.75"/><circle cx="138.4" cy="159.9" r="1.75"/><circle cx="178.5" cy="200.4" r="1.75"/><circle cx="262.2" cy="76" r="1.75"/><circle cx="146.1" cy="50.5" r="1.75"/><circle cx="129.6" cy="166.1" r="1.75"/><circle cx="155.8" cy="174.1" r="1.75"/><circle cx="231.6" cy="46.2" r="1.75"/><circle cx="128" cy="145.4" r="1.75"/><circle cx="192.2" cy="195.9" r="1.75"/><circle cx="196.5" cy="58.9" r="1.75"/><circle cx="149" cy="43.7" r="1.75"/><circle cx="148.9" cy="182.3" r="1.75"/><circle cx="206.8" cy="43.4" r="1.75"/><circle cx="194.5" cy="35.8" r="1.75"/><circle cx="124" cy="131.5" r="1.75"/><circle cx="121.9" cy="79.2" r="1.75"/><circle cx="233.4" cy="52.4" r="1.75"/><circle cx="155.5" cy="173.2" r="1.75"/><circle cx="190.7" cy="204.8" r="1.75"/><circle cx="133.9" cy="158.8" r="1.75"/><circle cx="134.4" cy="168.1" r="1.75"/><circle cx="183.6" cy="27.3" r="1.75"/><circle cx="236.3" cy="186.2" r="1.75"/><circle cx="193.3" cy="26.8" r="1.75"/><circle cx="126.7" cy="172.4" r="1.75"/><circle cx="160.3" cy="174.2" r="1.75"/><circle cx="196.2" cy="194.3" r="1.75"/><circle cx="146.7" cy="50.7" r="1.75"/><circle cx="202.8" cy="201.3" r="1.75"/><circle cx="126.7" cy="75.9" r="1.75"/><circle cx="210.3" cy="202.4" r="1.75"/><circle cx="223.3" cy="38.5" r="1.75"/><circle cx="206.1" cy="187.9" r="1.75"/><circle cx="193.8" cy="30.1" r="1.75"/><circle cx="236" cy="188" r="1.75"/><circle cx="120.7" cy="147" r="1.75"/><circle cx="122.9" cy="99" r="1.75"/><circle cx="204.2" cy="28.6" r="1.75"/><circle cx="278" cy="117.9" r="1.75"/><circle cx="131.4" cy="175.2" r="1.75"/><circle cx="178.9" cy="201.4" r="1.75"/><circle cx="122.4" cy="118" r="1.75"/><circle cx="227.8" cy="39.3" r="1.75"/><circle cx="120.3" cy="114" r="1.75"/><circle cx="255" cy="167.8" r="1.75"/>
</g>
<g stroke="#88cb53">
<path d="M136.2 154.6h4M138.2 152.6v4M273.9 126.1h4M275.9 124.1v4M123.3 142.9h4M125.3 140.9v4M177.1 62.8h3.2v3.2h-3.2zM121.8 121.4h3.2v3.2h-3.2zM174.2 200.1h4M176.2 198.1v4M154.2 185h4M156.2 183v4M233.4 183.7h3.2v3.2h-3.2zM149.4 192.4h4M151.4 190.4v4M191.4 196.7h3.2v3.2h-3.2zM257.7 170.1h4M259.7 168.1v4M224 37h3.2v3.2h-3.2z"/>
<path d="M191.8 160.4l1.6 2.2l-1.6 2.2l-1.6 -2.2zM124.2 98l1.6 2.2l-1.6 2.2l-1.6 -2.2zM140.9 166.2l1.6 2.2l-1.6 2.2l-1.6 -2.2zM276.8 130l1.6 2.2l-1.6 2.2l-1.6 -2.2zM190.1 31.5l1.6 2.2l-1.6 2.2l-1.6 -2.2zM204.4 29.3l1.6 2.2l-1.6 2.2l-1.6 -2.2zM129.6 128l1.6 2.2l-1.6 2.2l-1.6 -2.2zM196 29.6l1.6 2.2l-1.6 2.2l-1.6 -2.2z" fill="#88cb53" fill-opacity="0.75"/>
<circle cx="267.7" cy="162.1" r="1.75"/><circle cx="183.8" cy="29" r="1.75"/><circle cx="270.1" cy="150.1" r="1.75"/><circle cx="124.5" cy="161.3" r="1.75"/><circle cx="182.4" cy="70.7" r="1.75"/><circle cx="193.3" cy="194.1" r="1.75"/><circle cx="158.2" cy="171.3" r="1.75"/><circle cx="254.8" cy="169.2" r="1.75"/><circle cx="188.1" cy="194.3" r="1.75"/><circle cx="259" cy="166.4" r="1.75"/><circle cx="192.6" cy="32.7" r="1.75"/><circle cx="150.2" cy="189.4" r="1.75"/><circle cx="281.3" cy="121.2" r="1.75"/><circle cx="171" cy="185" r="1.75"/><circle cx="194.5" cy="199.3" r="1.75"/><circle cx="160.6" cy="185.1" r="1.75"/>
</g>
<g stroke="#f6de29">
<path d="M271.6 93.3h3.2v3.2h-3.2zM270.1 91.4h3.2v3.2h-3.2zM269.9 155.5h3.2v3.2h-3.2zM160.3 172.1h3.2v3.2h-3.2z"/>
<circle cx="273.1" cy="156.4" r="1.75"/><circle cx="132.1" cy="144.5" r="1.75"/><circle cx="178.7" cy="194" r="1.75"/><circle cx="123.2" cy="78.6" r="1.75"/><circle cx="188.8" cy="42.3" r="1.75"/><circle cx="129.1" cy="148.6" r="1.75"/><circle cx="273.1" cy="149.2" r="1.75"/><circle cx="196.1" cy="205.3" r="1.75"/><circle cx="171.8" cy="198.8" r="1.75"/><circle cx="149.6" cy="184.6" r="1.75"/><circle cx="222" cy="34.6" r="1.75"/><circle cx="178.8" cy="29.2" r="1.75"/><circle cx="137.5" cy="53.6" r="1.75"/><circle cx="269" cy="159" r="1.75"/><circle cx="132.4" cy="167.8" r="1.75"/><circle cx="133.8" cy="169.1" r="1.75"/>
</g>
<g stroke="#21a3e3">
<path d="M185.7 204.5h4M187.7 202.5v4M254.4 99.8h3.2v3.2h-3.2zM164.3 182.7h4M166.3 180.7v4M198.5 202.8h4M200.5 200.8v4M123.6 155.5h4M125.6 153.5v4M180.9 185.3h4M182.9 183.3v4M155.4 174.7h3.2v3.2h-3.2zM195.5 35h3.2v3.2h-3.2zM201.4 32.2h3.2v3.2h-3.2zM218.5 40.9h3.2v3.2h-3.2zM123.3 153.6h3.2v3.2h-3.2zM198.7 35.7h4M200.7 33.7v4M199.1 38.6h3.2v3.2h-3.2zM226.3 40.2h4M228.3 38.2v4M221.3 44.1h4M223.3 42.1v4M119.4 97.8h3.2v3.2h-3.2zM206.1 32.8h3.2v3.2h-3.2zM178.1 69.1h3.2v3.2h-3.2zM159.1 168.4h3.2v3.2h-3.2zM131.6 154.8h4M133.6 152.8v4M122.3 115.6h3.2v3.2h-3.2zM256.1 175.9h3.2v3.2h-3.2zM155.7 43.9h3.2v3.2h-3.2zM124.3 153.4h3.2v3.2h-3.2zM261.3 159.8h4M263.3 157.8v4"/>
<path d="M197.4 61.8l1.6 2.2l-1.6 2.2l-1.6 -2.2zM190.1 61.6l1.6 2.2l-1.6 2.2l-1.6 -2.2zM200.7 36.5l1.6 2.2l-1.6 2.2l-1.6 -2.2zM208.1 41.5l1.6 2.2l-1.6 2.2l-1.6 -2.2zM180 39.2l1.6 2.2l-1.6 2.2l-1.6 -2.2zM135 69.6l1.6 2.2l-1.6 2.2l-1.6 -2.2zM137.2 162.3l1.6 2.2l-1.6 2.2l-1.6 -2.2zM260.1 165l1.6 2.2l-1.6 2.2l-1.6 -2.2zM135.9 71.3l1.6 2.2l-1.6 2.2l-1.6 -2.2zM241.2 54.6l1.6 2.2l-1.6 2.2l-1.6 -2.2zM233 39.8l1.6 2.2l-1.6 2.2l-1.6 -2.2z" fill="#21a3e3" fill-opacity="0.75"/>
<circle cx="221.6" cy="185.5" r="1.75"/><circle cx="135.8" cy="157.2" r="1.75"/><circle cx="133.3" cy="151.2" r="1.75"/><circle cx="157.3" cy="179.5" r="1.75"/><circle cx="199.6" cy="37.7" r="1.75"/><circle cx="220" cy="38.7" r="1.75"/><circle cx="203.7" cy="194.7" r="1.75"/><circle cx="123.4" cy="119.7" r="1.75"/>
</g>
<g stroke="#b4c533">
<path d="M171.9 199.1h3.2v3.2h-3.2zM200.8 27.3h3.2v3.2h-3.2zM274.1 119.4h3.2v3.2h-3.2zM249.7 169.4h3.2v3.2h-3.2zM114.3 110.3h3.2v3.2h-3.2zM271.8 120.9h3.2v3.2h-3.2zM175.7 182h3.2v3.2h-3.2zM271.3 141.3h3.2v3.2h-3.2zM208.1 39.9h3.2v3.2h-3.2zM129.2 169.9h3.2v3.2h-3.2zM138.6 176.8h3.2v3.2h-3.2zM149.8 172.2h3.2v3.2h-3.2zM272.6 122h3.2v3.2h-3.2zM271.2 102.3h3.2v3.2h-3.2zM263.4 162h3.2v3.2h-3.2zM270.9 97.8h3.2v3.2h-3.2zM224.1 40h3.2v3.2h-3.2zM265 161.7h3.2v3.2h-3.2zM188.4 38.7h3.2v3.2h-3.2zM125.1 119h3.2v3.2h-3.2zM117.6 115.6h3.2v3.2h-3.2zM135.6 78.2h3.2v3.2h-3.2z"/>
<circle cx="128.2" cy="159.3" r="1.75"/><circle cx="128.6" cy="132.6" r="1.75"/><circle cx="193.7" cy="58.1" r="1.75"/><circle cx="142.7" cy="54.2" r="1.75"/><circle cx="128.5" cy="173.5" r="1.75"/><circle cx="212.2" cy="42.3" r="1.75"/><circle cx="192.5" cy="33.5" r="1.75"/><circle cx="125.7" cy="72.2" r="1.75"/><circle cx="264.7" cy="171.6" r="1.75"/><circle cx="220.3" cy="186" r="1.75"/><circle cx="135.7" cy="161.9" r="1.75"/><circle cx="126.2" cy="130.4" r="1.75"/><circle cx="180.5" cy="202.8" r="1.75"/><circle cx="148.6" cy="167.3" r="1.75"/><circle cx="189.8" cy="197.8" r="1.75"/><circle cx="214.8" cy="32" r="1.75"/><circle cx="221.3" cy="186.6" r="1.75"/><circle cx="179" cy="203.9" r="1.75"/><circle cx="260.3" cy="169.1" r="1.75"/><circle cx="203.8" cy="200" r="1.75"/><circle cx="215.2" cy="41" r="1.75"/><circle cx="235" cy="183.3" r="1.75"/><circle cx="126.8" cy="76.7" r="1.75"/><circle cx="176.2" cy="206.9" r="1.75"/><circle cx="196.6" cy="27.7" r="1.75"/><circle cx="187.2" cy="42" r="1.75"/><circle cx="123.9" cy="90.5" r="1.75"/><circle cx="166.6" cy="67.7" r="1.75"/><circle cx="119" cy="108.6" r="1.75"/><circle cx="222.9" cy="196.4" r="1.75"/><circle cx="231.4" cy="48.6" r="1.75"/><circle cx="138.3" cy="57.8" r="1.75"/><circle cx="137.5" cy="162.4" r="1.75"/><circle cx="176.9" cy="205" r="1.75"/><circle cx="183.7" cy="43.3" r="1.75"/><circle cx="206.5" cy="38.3" r="1.75"/><circle cx="132.7" cy="166.3" r="1.75"/><circle cx="137.9" cy="78.7" r="1.75"/><circle cx="267.1" cy="155.5" r="1.75"/><circle cx="224.3" cy="189.8" r="1.75"/><circle cx="246.2" cy="176" r="1.75"/><circle cx="192.3" cy="196.4" r="1.75"/><circle cx="275.6" cy="117.4" r="1.75"/><circle cx="130.8" cy="169.2" r="1.75"/><circle cx="205.3" cy="28.3" r="1.75"/><circle cx="124.4" cy="168" r="1.75"/><circle cx="213.6" cy="194.5" r="1.75"/><circle cx="146.1" cy="185.1" r="1.75"/><circle cx="155.5" cy="174.1" r="1.75"/>
</g>
<g stroke="#24c2ae">
<path d="M201 40.5h4M203 38.5v4M221.3 39.7h4M223.3 37.7v4M146 67h4M148 65v4M191.3 65h4M193.3 63v4M123.9 113.3h4M125.9 111.3v4M146.2 45.7h4M148.2 43.7v4M158.5 174.8h3.2v3.2h-3.2zM123 89.1h4M125 87.1v4M179.8 200.5h4M181.8 198.5v4M161.2 185.7h4M163.2 183.7v4M199.5 63.2h3.2v3.2h-3.2zM136.4 159h3.2v3.2h-3.2zM129.2 182.6h4M131.2 180.6v4M176.9 194.6h4M178.9 192.6v4M225.2 46.3h4M227.2 44.3v4M182.4 202.2h4M184.4 200.2v4M120.7 82.7h4M122.7 80.7v4M143.2 64.8h4M145.2 62.8v4M225.1 186.8h4M227.1 184.8v4M158.2 172.1h3.2v3.2h-3.2z"/>
<path d="M199.4 191.3l1.6 2.2l-1.6 2.2l-1.6 -2.2zM221.3 37.2l1.6 2.2l-1.6 2.2l-1.6 -2.2zM144.6 41.3l1.6 2.2l-1.6 2.2l-1.6 -2.2zM121.9 156.3l1.6 2.2l-1.6 2.2l-1.6 -2.2zM233.5 182.2l1.6 2.2l-1.6 2.2l-1.6 -2.2zM160.5 184l1.6 2.2l-1.6 2.2l-1.6 -2.2zM202.7 42.9l1.6 2.2l-1.6 2.2l-1.6 -2.2zM255.6 175l1.6 2.2l-1.6 2.2l-1.6 -2.2zM228.1 39.4l1.6 2.2l-1.6 2.2l-1.6 -2.2zM195 59l1.6 2.2l-1.6 2.2l-1.6 -2.2zM276.3 109.5l1.6 2.2l-1.6 2.2l-1.6 -2.2zM187.9 200.5l1.6 2.2l-1.6 2.2l-1.6 -2.2zM119.9 92.9l1.6 2.2l-1.6 2.2l-1.6 -2.2zM125.4 79.1l1.6 2.2l-1.6 2.2l-1.6 -2.2zM157.6 39.3l1.6 2.2l-1.6 2.2l-1.6 -2.2z" fill="#24c2ae" fill-opacity="0.75"/>
<circle cx="227.2" cy="49.5" r="1.75"/><circle cx="190.9" cy="197" r="1.75"/><circle cx="214.3" cy="63.9" r="1.75"/><circle cx="122.4" cy="82" r="1.75"/><circle cx="174.5" cy="68.2" r="1.75"/><circle cx="208.9" cy="42.7" r="1.75"/><circle cx="226.5" cy="188" r="1.75"/><circle cx="195.9" cy="43.7" r="1.75"/><circle cx="164.6" cy="183.5" r="1.75"/><circle cx="278" cy="109.3" r="1.75"/><circle cx="198.5" cy="200.4" r="1.75"/><circle cx="230.2" cy="47.2" r="1.75"/><circle cx="136" cy="167" r="1.75"/><circle cx="253.6" cy="69.4" r="1.75"/><circle cx="178.6" cy="34.1" r="1.75"/><circle cx="194.1" cy="195.6" r="1.75"/><circle cx="147.5" cy="191" r="1.75"/><circle cx="144.9" cy="72.7" r="1.75"/><circle cx="222.5" cy="41.2" r="1.75"/>
</g>
<g stroke="#484cef">
<path d="M177.6 203.1l1.6 2.2l-1.6 2.2l-1.6 -2.2zM275.6 123.5l1.6 2.2l-1.6 2.2l-1.6 -2.2z" fill="#484cef" fill-opacity="0.75"/>
</g>
<g stroke="#465efb">
<path d="M119.8 156.6h4M121.8 154.6v4M273.3 131.8h4M275.3 129.8v4M148.9 48.6h4M150.9 46.6v4"/>
<path d="M276 125.4l1.6 2.2l-1.6 2.2l-1.6 -2.2zM148.5 45.8l1.6 2.2l-1.6 2.2l-1.6 -2.2zM190.4 38.1l1.6 2.2l-1.6 2.2l-1.6 -2.2zM277.5 108.2l1.6 2.2l-1.6 2.2l-1.6 -2.2zM276.1 108.9l1.6 2.2l-1.6 2.2l-1.6 -2.2zM275.9 110l1.6 2.2l-1.6 2.2l-1.6 -2.2zM129 150.6l1.6 2.2l-1.6 2.2l-1.6 -2.2z" fill="#465efb" fill-opacity="0.75"/>
</g>
<g stroke="#2994ed">
<path d="M273.5 108.9h3.2v3.2h-3.2zM252.9 94.8h4M254.9 92.8v4M120.7 137.4h3.2v3.2h-3.2zM207.8 42.3h4M209.8 40.3v4M151.9 179.2h3.2v3.2h-3.2zM130 157.5h3.2v3.2h-3.2zM238.5 53.6h3.2v3.2h-3.2zM253.1 99.4h4M255.1 97.4v4M182.8 38.6h4M184.8 36.6v4M196 192h3.2v3.2h-3.2zM158.4 41.9h4M160.4 39.9v4M124.5 153.1h3.2v3.2h-3.2z"/>
<path d="M263.9 157.3l1.6 2.2l-1.6 2.2l-1.6 -2.2z" fill="#2994ed" fill-opacity="0.75"/>
<circle cx="159.1" cy="42.2" r="1.75"/><circle cx="142.8" cy="180.2" r="1.75"/><circle cx="123.4" cy="100.8" r="1.75"/><circle cx="218.9" cy="186.7" r="1.75"/><circle cx="164.9" cy="43.4" r="1.75"/>
</g>
<g stroke="#3d70ff">
<path d="M275.1 112h4M277.1 110v4M279 110.6h4M281 108.6v4M196.1 34.4h4M198.1 32.4v4"/>
<path d="M120.2 151.4l1.6 2.2l-1.6 2.2l-1.6 -2.2zM200 31.2l1.6 2.2l-1.6 2.2l-1.6 -2.2zM148.6 48.3l1.6 2.2l-1.6 2.2l-1.6 -2.2zM216.2 38l1.6 2.2l-1.6 2.2l-1.6 -2.2zM222.5 43.1l1.6 2.2l-1.6 2.2l-1.6 -2.2zM221.7 44l1.6 2.2l-1.6 2.2l-1.6 -2.2z" fill="#3d70ff" fill-opacity="0.75"/>
</g>
<g stroke="#2e83f9">
<path d="M272.7 127.2h4M274.7 125.2v4M194.7 36.1h4M196.7 34.1v4"/>
<path d="M153.5 48.5l1.6 2.2l-1.6 2.2l-1.6 -2.2zM132.2 152.9l1.6 2.2l-1.6 2.2l-1.6 -2.2zM195.9 197.6l1.6 2.2l-1.6 2.2l-1.6 -2.2zM201.1 33.1l1.6 2.2l-1.6 2.2l-1.6 -2.2zM202 200.4l1.6 2.2l-1.6 2.2l-1.6 -2.2z" fill="#2e83f9" fill-opacity="0.75"/>
</g>
<g stroke="#f6f21e">
<path d="M271.9 90.9h3.2v3.2h-3.2z"/>
<circle cx="157" cy="175.3" r="1.75"/><circle cx="158.3" cy="175.9" r="1.75"/><circle cx="161.6" cy="174.9" r="1.75"/><circle cx="158.9" cy="174.2" r="1.75"/>
</g>
<g stroke="#88cb53">
<path d="M129.5 131.9h4M131.5 129.9v4M177.5 69.2h4M179.5 67.2v4M199.4 198.4h3.2v3.2h-3.2zM255 162h3.2v3.2h-3.2zM119.5 98.9h4M121.5 96.9v4M187.1 193.3h3.2v3.2h-3.2zM121.2 97.6h4M123.2 95.6v4M191.6 194.7h4M193.6 192.7v4M170 201.9h4M172 199.9v4M279.1 125.5h3.2v3.2h-3.2zM118.8 101.5h3.2v3.2h-3.2zM192.3 35.4h4M194.3 33.4v4M148.9 182.2h4M150.9 180.2v4M256.5 161.6h3.2v3.2h-3.2zM121.9 104.8h4M123.9 102.8v4M231.4 44.4h3.2v3.2h-3.2zM210.6 39.2h4M212.6 37.2v4"/>
<path d="M228.1 39.5l1.6 2.2l-1.6 2.2l-1.6 -2.2zM128.9 171.2l1.6 2.2l-1.6 2.2l-1.6 -2.2zM134.5 156.2l1.6 2.2l-1.6 2.2l-1.6 -2.2zM235.7 180.2l1.6 2.2l-1.6 2.2l-1.6 -2.2zM155.9 169l1.6 2.2l-1.6 2.2l-1.6 -2.2zM194.1 189.5l1.6 2.2l-1.6 2.2l-1.6 -2.2zM206.7 43.3l1.6 2.2l-1.6 2.2l-1.6 -2.2zM140.5 75.6l1.6 2.2l-1.6 2.2l-1.6 -2.2z" fill="#88cb53" fill-opacity="0.75"/>
<circle cx="139.3" cy="159.3" r="1.75"/><circle cx="234.9" cy="46.3" r="1.75"/><circle cx="191.8" cy="198" r="1.75"/><circle cx="174.8" cy="187.1" r="1.75"/><circle cx="272.1" cy="94" r="1.75"/><circle cx="124.5" cy="166.3" r="1.75"/><circle cx="136.6" cy="156.4" r="1.75"/><circle cx="249.7" cy="177.5" r="1.75"/><circle cx="259.7" cy="163.3" r="1.75"/><circle cx="163.3" cy="40.4" r="1.75"/><circle cx="138.5" cy="82.8" r="1.75"/><circle cx="261.1" cy="167.4" r="1.75"/><circle cx="162" cy="70.8" r="1.75"/><circle cx="176.1" cy="68.3" r="1.75"/><circle cx="269.2" cy="91.7" r="1.75"/><circle cx="211.9" cy="43.8" r="1.75"/><circle cx="131.2" cy="179.3" r="1.75"/><circle cx="122.9" cy="80.7" r="1.75"/><circle cx="181.8" cy="31.3" r="1.75"/><circle cx="196.1" cy="200.8" r="1.75"/><circle cx="119.8" cy="103.6" r="1.75"/><circle cx="237.3" cy="182.3" r="1.75"/>
</g>
<g stroke="#b4c533">
<path d="M217.4 30.6h3.2v3.2h-3.2zM231.6 180.1h3.2v3.2h-3.2zM201.9 27.8h3.2v3.2h-3.2zM204 197.5h3.2v3.2h-3.2zM135.3 54.7h3.2v3.2h-3.2zM202.8 27.1h3.2v3.2h-3.2zM128.1 170.7h3.2v3.2h-3.2zM230.8 183.5h3.2v3.2h-3.2zM158.7 41.6h3.2v3.2h-3.2zM273.8 119.8h3.2v3.2h-3.2zM130.1 178.2h3.2v3.2h-3.2zM139.7 160.8h3.2v3.2h-3.2zM220.2 185.2h3.2v3.2h-3.2zM114 110.3h3.2v3.2h-3.2zM246.2 176.1h3.2v3.2h-3.2zM209.5 198.7h3.2v3.2h-3.2zM264.3 165.4h3.2v3.2h-3.2zM123.6 76.4h3.2v3.2h-3.2z"/>
<circle cx="161.9" cy="40.2" r="1.75"/><circle cx="228.3" cy="50.4" r="1.75"/><circle cx="167.5" cy="66.9" r="1.75"/><circle cx="143.8" cy="189.4" r="1.75"/><circle cx="123.8" cy="118.2" r="1.75"/><circle cx="274.8" cy="117.5" r="1.75"/><circle cx="177.3" cy="186.2" r="1.75"/><circle cx="123.7" cy="133" r="1.75"/><circle cx="194.2" cy="34.5" r="1.75"/><circle cx="231.2" cy="50.7" r="1.75"/><circle cx="185.8" cy="27.8" r="1.75"/><circle cx="124.3" cy="123.6" r="1.75"/><circle cx="167.6" cy="184.4" r="1.75"/><circle cx="178.4" cy="196.4" r="1.75"/><circle cx="214.6" cy="36.8" r="1.75"/><circle cx="185.2" cy="28.4" r="1.75"/><circle cx="118.2" cy="109.5" r="1.75"/><circle cx="134.2" cy="163.8" r="1.75"/><circle cx="248.4" cy="181.5" r="1.75"/><circle cx="195.1" cy="199" r="1.75"/><circle cx="184.2" cy="187.9" r="1.75"/><circle cx="222.4" cy="41.3" r="1.75"/><circle cx="261.9" cy="166.6" r="1.75"/><circle cx="159.4" cy="41.7" r="1.75"/><circle cx="277.7" cy="105" r="1.75"/><circle cx="246.1" cy="181.2" r="1.75"/><circle cx="179.4" cy="189.4" r="1.75"/><circle cx="240.6" cy="57.8" r="1.75"/><circle cx="259.7" cy="74.1" r="1.75"/><circle cx="141.1" cy="160.6" r="1.75"/><circle cx="232.2" cy="51.6" r="1.75"/><circle cx="155" cy="169.5" r="1.75"/><circle cx="273.4" cy="126.3" r="1.75"/><circle cx="194.6" cy="34.2" r="1.75"/><circle cx="211.7" cy="38.2" r="1.75"/><circle cx="173.5" cy="202.2" r="1.75"/><circle cx="125.4" cy="119.2" r="1.75"/><circle cx="213.8" cy="34" r="1.75"/><circle cx="227.1" cy="42.2" r="1.75"/><circle cx="139.4" cy="76.1" r="1.75"/><circle cx="120.4" cy="112.6" r="1.75"/><circle cx="257.3" cy="162.5" r="1.75"/><circle cx="121.8" cy="131.1" r="1.75"/><circle cx="223.4" cy="186.4" r="1.75"/><circle cx="127.5" cy="158.5" r="1.75"/>
</g>
<g stroke="#02bac4">
<path d="M178.5 42.4h4M180.5 40.4v4M206 189.5h3.2v3.2h-3.2zM133.9 155.4h3.2v3.2h-3.2zM155.8 179h4M157.8 177v4M121 105.6h4M123 103.6v4M276.5 110.8h4M278.5 108.8v4M190.5 39.1h3.2v3.2h-3.2zM184.6 188.6h3.2v3.2h-3.2zM225.7 185.1h3.2v3.2h-3.2zM232.2 44.5h4M234.2 42.5v4M279.1 121.6h4M281.1 119.6v4M148.8 172.2h3.2v3.2h-3.2zM141.3 191.4h3.2v3.2h-3.2zM225.6 38.9h4M227.6 36.9v4M265.3 110.8h4M267.3 108.8v4M130 158h4M132 156v4M245.7 58.8h3.2v3.2h-3.2zM173.3 188.6h3.2v3.2h-3.2zM191.4 208.6h4M193.4 206.6v4M126.7 117.8h4M128.7 115.8v4M125.6 114.8h4M127.6 112.8v4M179.4 67.3h4M181.4 65.3v4M231.2 46.8h3.2v3.2h-3.2zM206.8 40.8h3.2v3.2h-3.2zM158 166.4h3.2v3.2h-3.2zM260 102.7h3.2v3.2h-3.2zM274.8 119.1h3.2v3.2h-3.2zM192.6 202.4h3.2v3.2h-3.2zM179.3 69.5h4M181.3 67.5v4M182.5 189.2h3.2v3.2h-3.2zM124 153.4h4M126 151.4v4M158.5 177.4h4M160.5 175.4v4M190.8 205.6h4M192.8 203.6v4M160 176.6h3.2v3.2h-3.2zM175.6 69.1h4M177.6 67.1v4M248.1 61h4M250.1 59v4M142.6 31.9h3.2v3.2h-3.2zM173 35.2h3.2v3.2h-3.2z"/>
<path d="M265.4 104.9l1.6 2.2l-1.6 2.2l-1.6 -2.2zM125.7 114.4l1.6 2.2l-1.6 2.2l-1.6 -2.2zM204 40.4l1.6 2.2l-1.6 2.2l-1.6 -2.2zM203.6 42.9l1.6 2.2l-1.6 2.2l-1.6 -2.2zM162.3 39.8l1.6 2.2l-1.6 2.2l-1.6 -2.2zM188.9 40l1.6 2.2l-1.6 2.2l-1.6 -2.2zM275.8 129.9l1.6 2.2l-1.6 2.2l-1.6 -2.2zM208.6 34.7l1.6 2.2l-1.6 2.2l-1.6 -2.2zM133.3 151.6l1.6 2.2l-1.6 2.2l-1.6 -2.2zM146.1 179.1l1.6 2.2l-1.6 2.2l-1.6 -2.2zM176.3 191.8l1.6 2.2l-1.6 2.2l-1.6 -2.2zM231 182.1l1.6 2.2l-1.6 2.2l-1.6 -2.2zM187.9 38.4l1.6 2.2l-1.6 2.2l-1.6 -2.2zM230.9 43.7l1.6 2.2l-1.6 2.2l-1.6 -2.2zM198.5 203.9l1.6 2.2l-1.6 2.2l-1.6 -2.2zM234.9 47.6l1.6 2.2l-1.6 2.2l-1.6 -2.2zM137.4 154.7l1.6 2.2l-1.6 2.2l-1.6 -2.2z" fill="#02bac4" fill-opacity="0.75"/>
<circle cx="186.9" cy="203.2" r="1.75"/><circle cx="126.7" cy="129.8" r="1.75"/><circle cx="150.6" cy="42" r="1.75"/><circle cx="276.9" cy="123.4" r="1.75"/><circle cx="121.6" cy="100.4" r="1.75"/><circle cx="183.5" cy="42.5" r="1.75"/><circle cx="175.4" cy="199.7" r="1.75"/><circle cx="179" cy="66.9" r="1.75"/><circle cx="206.5" cy="42.4" r="1.75"/><circle cx="235.4" cy="46.8" r="1.75"/><circle cx="228" cy="186.4" r="1.75"/><circle cx="268.9" cy="83.5" r="1.75"/><circle cx="166.5" cy="180.3" r="1.75"/><circle cx="150.8" cy="64.6" r="1.75"/><circle cx="160.4" cy="167" r="1.75"/>
</g>
<g stroke="#dabd28">
<path d="M155.1 46.1h3.2v3.2h-3.2zM144.5 47.3h3.2v3.2h-3.2zM261.5 75.4h3.2v3.2h-3.2zM133.7 159.8h3.2v3.2h-3.2zM188.7 35.5h3.2v3.2h-3.2zM144.3 182.2h3.2v3.2h-3.2zM273 139.9h3.2v3.2h-3.2zM246.2 179.4h3.2v3.2h-3.2zM146.5 46.3h3.2v3.2h-3.2zM142.5 49.8h3.2v3.2h-3.2zM273 128.8h3.2v3.2h-3.2zM200.8 31h3.2v3.2h-3.2zM250.9 169.9h3.2v3.2h-3.2zM169.3 178.6h3.2v3.2h-3.2z"/>
<circle cx="189.7" cy="34.1" r="1.75"/><circle cx="236.1" cy="53.5" r="1.75"/><circle cx="162.4" cy="180.1" r="1.75"/><circle cx="182.8" cy="194.1" r="1.75"/><circle cx="124.9" cy="154.4" r="1.75"/><circle cx="127.7" cy="118.2" r="1.75"/><circle cx="177.3" cy="180.8" r="1.75"/><circle cx="124.3" cy="108.7" r="1.75"/><circle cx="181" cy="202.9" r="1.75"/><circle cx="148.2" cy="48.1" r="1.75"/><circle cx="178.3" cy="204.5" r="1.75"/><circle cx="270.2" cy="93.3" r="1.75"/><circle cx="210.5" cy="43.1" r="1.75"/><circle cx="275.6" cy="143.1" r="1.75"/><circle cx="133.6" cy="152.5" r="1.75"/><circle cx="126.5" cy="118.1" r="1.75"/><circle cx="190.2" cy="30.1" r="1.75"/><circle cx="120" cy="99.8" r="1.75"/><circle cx="155.9" cy="173" r="1.75"/><circle cx="183.3" cy="30.9" r="1.75"/><circle cx="150.3" cy="176.7" r="1.75"/><circle cx="218.2" cy="195.2" r="1.75"/><circle cx="138" cy="179.9" r="1.75"/><circle cx="176.4" cy="34.6" r="1.75"/><circle cx="210.3" cy="42.3" r="1.75"/><circle cx="279.2" cy="139.2" r="1.75"/><circle cx="148.8" cy="45" r="1.75"/><circle cx="126.9" cy="119.2" r="1.75"/><circle cx="213.3" cy="41.9" r="1.75"/><circle cx="124.9" cy="132.5" r="1.75"/><circle cx="129.4" cy="166.9" r="1.75"/><circle cx="258.1" cy="69.1" r="1.75"/><circle cx="123.7" cy="145.2" r="1.75"/><circle cx="239.1" cy="56.4" r="1.75"/><circle cx="225.7" cy="187.7" r="1.75"/><circle cx="221.5" cy="39.7" r="1.75"/><circle cx="133.4" cy="160.5" r="1.75"/><circle cx="134" cy="160.9" r="1.75"/><circle cx="174.1" cy="198.9" r="1.75"/><circle cx="182.9" cy="29.4" r="1.75"/><circle cx="189.9" cy="36.4" r="1.75"/><circle cx="270.4" cy="99" r="1.75"/><circle cx="206.1" cy="30.4" r="1.75"/><circle cx="127.7" cy="171.2" r="1.75"/><circle cx="197.4" cy="45.1" r="1.75"/><circle cx="160.1" cy="172.9" r="1.75"/><circle cx="211.3" cy="201" r="1.75"/><circle cx="140.8" cy="160.3" r="1.75"/><circle cx="154.6" cy="173.1" r="1.75"/><circle cx="129.8" cy="165.9" r="1.75"/><circle cx="279.7" cy="137.7" r="1.75"/><circle cx="171.6" cy="183.5" r="1.75"/><circle cx="120.7" cy="115" r="1.75"/><circle cx="238.1" cy="186.5" r="1.75"/><circle cx="203.1" cy="29.4" r="1.75"/><circle cx="184.1" cy="206.7" r="1.75"/><circle cx="150.2" cy="169.6" r="1.75"/><circle cx="180.6" cy="197.1" r="1.75"/><circle cx="131.5" cy="176" r="1.75"/><circle cx="235" cy="185.6" r="1.75"/><circle cx="204.7" cy="190.3" r="1.75"/><circle cx="121" cy="127.2" r="1.75"/><circle cx="148.4" cy="183.5" r="1.75"/><circle cx="275.9" cy="102.1" r="1.75"/><circle cx="132.2" cy="150" r="1.75"/><circle cx="129.1" cy="170.9" r="1.75"/><circle cx="205.9" cy="34.6" r="1.75"/><circle cx="141.6" cy="171.1" r="1.75"/><circle cx="259.2" cy="74.2" r="1.75"/><circle cx="234" cy="46.8" r="1.75"/><circle cx="133.2" cy="173.4" r="1.75"/>
</g>
<g stroke="#5ccc76">
<path d="M161.1 182.2h3.2v3.2h-3.2zM228 41.6h4M230 39.6v4M161.3 75.6h4M163.3 73.6v4M133.2 181.2h3.2v3.2h-3.2zM174.2 199h4M176.2 197v4M259.3 72.8h3.2v3.2h-3.2zM146.1 197.4h4M148.1 195.4v4M194 65.9h3.2v3.2h-3.2zM193.4 195.1h4M195.4 193.1v4M116.6 111.1h4M118.6 109.1v4M159.6 38.9h3.2v3.2h-3.2zM271.7 89.1h3.2v3.2h-3.2zM120.9 97.6h3.2v3.2h-3.2zM126.8 119.7h3.2v3.2h-3.2zM192 192.8h4M194 190.8v4M128 176.9h4M130 174.9v4M157.6 184.7h3.2v3.2h-3.2zM275.9 126h4M277.9 124v4M135.1 173.2h3.2v3.2h-3.2zM264.5 160.3h4M266.5 158.3v4M188.1 193.3h4M190.1 191.3v4M122.9 134h3.2v3.2h-3.2z"/>
<path d="M129.7 147.7l1.6 2.2l-1.6 2.2l-1.6 -2.2zM125.4 105.4l1.6 2.2l-1.6 2.2l-1.6 -2.2zM129.3 150.4l1.6 2.2l-1.6 2.2l-1.6 -2.2zM258.9 164l1.6 2.2l-1.6 2.2l-1.6 -2.2zM130.9 151.4l1.6 2.2l-1.6 2.2l-1.6 -2.2zM160.2 39.1l1.6 2.2l-1.6 2.2l-1.6 -2.2z" fill="#5ccc76" fill-opacity="0.75"/>
<circle cx="119.2" cy="99.1" r="1.75"/><circle cx="124.9" cy="100.3" r="1.75"/><circle cx="234.6" cy="182.2" r="1.75"/><circle cx="130.4" cy="178.4" r="1.75"/><circle cx="149.5" cy="169.4" r="1.75"/><circle cx="135" cy="178.1" r="1.75"/><circle cx="171.1" cy="179.9" r="1.75"/><circle cx="266.1" cy="159.1" r="1.75"/><circle cx="228.5" cy="182.8" r="1.75"/><circle cx="135.7" cy="176.2" r="1.75"/><circle cx="264" cy="166.4" r="1.75"/><circle cx="177.9" cy="35.6" r="1.75"/><circle cx="133.2" cy="170.6" r="1.75"/><circle cx="162.3" cy="188.4" r="1.75"/><circle cx="137" cy="182.9" r="1.75"/><circle cx="183.2" cy="30.8" r="1.75"/><circle cx="157.4" cy="37.7" r="1.75"/><circle cx="171" cy="42.1" r="1.75"/><circle cx="194.6" cy="201.7" r="1.75"/><circle cx="183.3" cy="193.8" r="1.75"/>
</g>
<g stroke="#f8ba3d">
<path d="M162 41.9h3.2v3.2h-3.2zM219.2 192.3h3.2v3.2h-3.2zM275.7 98.7h3.2v3.2h-3.2zM161.6 173.7h3.2v3.2h-3.2zM228 46.1h3.2v3.2h-3.2zM145.9 61.8h3.2v3.2h-3.2zM124.3 152.8h3.2v3.2h-3.2zM216.5 194.7h3.2v3.2h-3.2zM143.5 72h3.2v3.2h-3.2zM123.6 133.1h3.2v3.2h-3.2zM171.3 200.7h3.2v3.2h-3.2zM163.4 178.5h3.2v3.2h-3.2zM247.4 174.8h3.2v3.2h-3.2zM120.5 93.6h3.2v3.2h-3.2zM219.5 187.9h3.2v3.2h-3.2zM214.2 198.4h3.2v3.2h-3.2zM118.4 99.2h3.2v3.2h-3.2zM146.5 43.8h3.2v3.2h-3.2zM169.3 176.4h3.2v3.2h-3.2zM229.5 47.1h3.2v3.2h-3.2zM122.8 76.6h3.2v3.2h-3.2zM217.2 193.1h3.2v3.2h-3.2zM166 178.6h3.2v3.2h-3.2zM122.7 109.6h3.2v3.2h-3.2zM189.8 197.2h3.2v3.2h-3.2zM127 160h3.2v3.2h-3.2zM214.4 37.6h3.2v3.2h-3.2zM117.8 103.3h3.2v3.2h-3.2zM178.7 195h3.2v3.2h-3.2z"/>
<circle cx="202.1" cy="202" r="1.75"/><circle cx="189.2" cy="36.5" r="1.75"/><circle cx="144.5" cy="183.6" r="1.75"/><circle cx="159.8" cy="65.4" r="1.75"/><circle cx="220.1" cy="194.7" r="1.75"/><circle cx="123.7" cy="78.4" r="1.75"/><circle cx="127.2" cy="75.9" r="1.75"/><circle cx="172.9" cy="32.3" r="1.75"/><circle cx="227.3" cy="190.5" r="1.75"/><circle cx="277" cy="134.4" r="1.75"/><circle cx="132.2" cy="161.5" r="1.75"/><circle cx="123.3" cy="118.2" r="1.75"/><circle cx="149.4" cy="168.2" r="1.75"/><circle cx="147" cy="174.8" r="1.75"/><circle cx="125.3" cy="159" r="1.75"/><circle cx="219" cy="32.2" r="1.75"/><circle cx="182.6" cy="205.5" r="1.75"/><circle cx="219.6" cy="33.8" r="1.75"/><circle cx="131.2" cy="167.8" r="1.75"/><circle cx="262.1" cy="74.2" r="1.75"/><circle cx="183.4" cy="27.6" r="1.75"/><circle cx="119.8" cy="93" r="1.75"/><circle cx="166.9" cy="180.9" r="1.75"/><circle cx="169.4" cy="181.9" r="1.75"/><circle cx="175.2" cy="70.7" r="1.75"/><circle cx="192.6" cy="29" r="1.75"/><circle cx="129.8" cy="153.2" r="1.75"/><circle cx="217.6" cy="196.8" r="1.75"/><circle cx="234.6" cy="50.2" r="1.75"/><circle cx="182" cy="195.4" r="1.75"/><circle cx="281.8" cy="136.8" r="1.75"/><circle cx="132.6" cy="160.9" r="1.75"/><circle cx="274.2" cy="126.6" r="1.75"/><circle cx="152.4" cy="192.2" r="1.75"/><circle cx="173.7" cy="194.1" r="1.75"/><circle cx="160.1" cy="44.3" r="1.75"/><circle cx="272.8" cy="141" r="1.75"/><circle cx="266.1" cy="79.9" r="1.75"/><circle cx="227.8" cy="46.2" r="1.75"/><circle cx="119.8" cy="105.1" r="1.75"/><circle cx="219.5" cy="38.8" r="1.75"/><circle cx="181.8" cy="202.8" r="1.75"/><circle cx="137.5" cy="56.3" r="1.75"/><circle cx="121.9" cy="104.2" r="1.75"/><circle cx="268.4" cy="157.5" r="1.75"/><circle cx="190.8" cy="37.8" r="1.75"/><circle cx="199" cy="45.7" r="1.75"/><circle cx="216.5" cy="193" r="1.75"/><circle cx="123" cy="108.3" r="1.75"/><circle cx="189.1" cy="196.1" r="1.75"/><circle cx="161.2" cy="174.4" r="1.75"/><circle cx="120.7" cy="92" r="1.75"/><circle cx="146.4" cy="73.3" r="1.75"/><circle cx="129.5" cy="159.1" r="1.75"/><circle cx="274.5" cy="133.1" r="1.75"/><circle cx="181.9" cy="28.3" r="1.75"/><circle cx="233.2" cy="181.1" r="1.75"/><circle cx="161.3" cy="42.1" r="1.75"/><circle cx="193.9" cy="195.2" r="1.75"/><circle cx="122.3" cy="110.5" r="1.75"/><circle cx="154.2" cy="183" r="1.75"/><circle cx="271.2" cy="135.2" r="1.75"/><circle cx="158.1" cy="193.5" r="1.75"/><circle cx="200" cy="43.9" r="1.75"/><circle cx="157.9" cy="193.1" r="1.75"/><circle cx="271.4" cy="133.2" r="1.75"/><circle cx="205.2" cy="29.1" r="1.75"/><circle cx="186.8" cy="198.1" r="1.75"/><circle cx="150.2" cy="50.5" r="1.75"/><circle cx="264.3" cy="79.4" r="1.75"/>
</g>
<g stroke="#feca33">
<path d="M150 43.5h3.2v3.2h-3.2zM123.8 148.7h3.2v3.2h-3.2zM123.9 115.3h3.2v3.2h-3.2zM143.2 174.4h3.2v3.2h-3.2zM213 196.2h3.2v3.2h-3.2zM122.3 155.8h3.2v3.2h-3.2zM122.7 111.3h3.2v3.2h-3.2zM189.9 31.3h3.2v3.2h-3.2zM147.1 41.5h3.2v3.2h-3.2zM239.8 52.2h3.2v3.2h-3.2zM174.4 190.1h3.2v3.2h-3.2zM216.9 31.7h3.2v3.2h-3.2zM271.9 86.6h3.2v3.2h-3.2zM270.8 150.4h3.2v3.2h-3.2z"/>
<circle cx="197" cy="206.1" r="1.75"/><circle cx="119.7" cy="90" r="1.75"/><circle cx="271.1" cy="127.4" r="1.75"/><circle cx="194" cy="197.8" r="1.75"/><circle cx="140.4" cy="170.1" r="1.75"/><circle cx="260.5" cy="72.1" r="1.75"/><circle cx="146.6" cy="170.2" r="1.75"/><circle cx="124.2" cy="105" r="1.75"/><circle cx="217.2" cy="29.9" r="1.75"/><circle cx="165.6" cy="178.1" r="1.75"/><circle cx="128.9" cy="68.5" r="1.75"/><circle cx="204.1" cy="204.7" r="1.75"/><circle cx="188.6" cy="200.1" r="1.75"/><circle cx="277.4" cy="138.8" r="1.75"/><circle cx="118.1" cy="98.5" r="1.75"/><circle cx="135.2" cy="154.1" r="1.75"/><circle cx="274.1" cy="100.2" r="1.75"/><circle cx="143.1" cy="183.8" r="1.75"/><circle cx="124.5" cy="129" r="1.75"/><circle cx="165.5" cy="178" r="1.75"/><circle cx="155.2" cy="181.6" r="1.75"/><circle cx="212.4" cy="194.9" r="1.75"/><circle cx="275.5" cy="101.9" r="1.75"/><circle cx="122.8" cy="149.5" r="1.75"/><circle cx="126.2" cy="78.4" r="1.75"/><circle cx="159" cy="176.6" r="1.75"/><circle cx="125" cy="154.9" r="1.75"/><circle cx="123.9" cy="101.2" r="1.75"/><circle cx="211.5" cy="205.1" r="1.75"/><circle cx="138.4" cy="161.9" r="1.75"/><circle cx="274.3" cy="130.9" r="1.75"/><circle cx="189.3" cy="27.3" r="1.75"/><circle cx="125.5" cy="158.3" r="1.75"/><circle cx="211.2" cy="39.1" r="1.75"/><circle cx="236.6" cy="56.6" r="1.75"/><circle cx="144.3" cy="72.8" r="1.75"/><circle cx="191" cy="198.4" r="1.75"/><circle cx="271.9" cy="131.1" r="1.75"/><circle cx="273.9" cy="142.9" r="1.75"/><circle cx="163.2" cy="174.5" r="1.75"/>
</g>
<g stroke="#39c895">
<path d="M122.2 119.9h3.2v3.2h-3.2zM233 182.1h3.2v3.2h-3.2zM158 38.1h3.2v3.2h-3.2zM192.3 66.6h4M194.3 64.6v4M187.7 190.4h3.2v3.2h-3.2zM261.7 161.8h4M263.7 159.8v4M121 125.4h4M123 123.4v4M118.9 102.8h3.2v3.2h-3.2zM249.9 179.4h3.2v3.2h-3.2zM230.1 185.6h4M232.1 183.6v4M175.9 191.1h3.2v3.2h-3.2zM223.9 184.8h3.2v3.2h-3.2zM177.6 64h3.2v3.2h-3.2z"/>
<path d="M147.1 40.6l1.6 2.2l-1.6 2.2l-1.6 -2.2zM136.1 157.1l1.6 2.2l-1.6 2.2l-1.6 -2.2zM147.9 170.8l1.6 2.2l-1.6 2.2l-1.6 -2.2zM234.8 181l1.6 2.2l-1.6 2.2l-1.6 -2.2zM261.8 165.4l1.6 2.2l-1.6 2.2l-1.6 -2.2zM194 190.9l1.6 2.2l-1.6 2.2l-1.6 -2.2zM161.9 39.4l1.6 2.2l-1.6 2.2l-1.6 -2.2zM147 68.5l1.6 2.2l-1.6 2.2l-1.6 -2.2zM197.1 190.8l1.6 2.2l-1.6 2.2l-1.6 -2.2zM186.6 191.7l1.6 2.2l-1.6 2.2l-1.6 -2.2z" fill="#39c895" fill-opacity="0.75"/>
<circle cx="171" cy="202.7" r="1.75"/><circle cx="119.2" cy="107.4" r="1.75"/><circle cx="170.5" cy="34.6" r="1.75"/><circle cx="126.9" cy="102.5" r="1.75"/><circle cx="256.4" cy="175.5" r="1.75"/><circle cx="151" cy="173.1" r="1.75"/><circle cx="149.5" cy="176.6" r="1.75"/><circle cx="124.6" cy="159.2" r="1.75"/><circle cx="138.5" cy="183.8" r="1.75"/><circle cx="173.1" cy="205.4" r="1.75"/><circle cx="233.8" cy="184.6" r="1.75"/><circle cx="146.8" cy="45.9" r="1.75"/><circle cx="132.5" cy="173.9" r="1.75"/><circle cx="259.4" cy="77.2" r="1.75"/><circle cx="174.5" cy="34.6" r="1.75"/><circle cx="132.9" cy="153.4" r="1.75"/><circle cx="125.3" cy="104.3" r="1.75"/><circle cx="144.5" cy="190.3" r="1.75"/><circle cx="175" cy="202.4" r="1.75"/>
</g>
<g stroke="#f6de29">
<path d="M192.9 201.3h3.2v3.2h-3.2zM120.6 108.2h3.2v3.2h-3.2zM129.9 147.5h3.2v3.2h-3.2zM219.2 191.3h3.2v3.2h-3.2zM161.6 171.6h3.2v3.2h-3.2zM242.3 53.2h3.2v3.2h-3.2zM183.4 43.4h3.2v3.2h-3.2zM188.9 37.5h3.2v3.2h-3.2z"/>
<circle cx="216.5" cy="197.3" r="1.75"/><circle cx="175.9" cy="189.8" r="1.75"/><circle cx="216.3" cy="40.6" r="1.75"/><circle cx="152.8" cy="49.7" r="1.75"/><circle cx="192" cy="28.1" r="1.75"/><circle cx="171.2" cy="191.9" r="1.75"/><circle cx="230.3" cy="50.8" r="1.75"/><circle cx="177.5" cy="195.4" r="1.75"/><circle cx="271.1" cy="157.1" r="1.75"/><circle cx="174.6" cy="193.4" r="1.75"/><circle cx="189.3" cy="197.9" r="1.75"/><circle cx="239.9" cy="51.3" r="1.75"/><circle cx="199.2" cy="45.3" r="1.75"/>
</g>
<g stroke="#21a3e3">
<path d="M135.5 153.5h3.2v3.2h-3.2zM269.8 92.2h3.2v3.2h-3.2zM198.2 34.1h4M200.2 32.1v4M274 110.4h3.2v3.2h-3.2zM272.6 111.1h3.2v3.2h-3.2zM274.8 113.4h3.2v3.2h-3.2zM137.5 174h3.2v3.2h-3.2zM146.8 40.7h3.2v3.2h-3.2zM271.5 107.3h4M273.5 105.3v4M263.5 105.9h3.2v3.2h-3.2zM184.4 185.5h4M186.4 183.5v4M173.1 34.3h3.2v3.2h-3.2zM117.3 102h3.2v3.2h-3.2zM181 38.4h4M183 36.4v4M219.8 185.6h3.2v3.2h-3.2zM203.6 195.2h3.2v3.2h-3.2zM269.3 139h3.2v3.2h-3.2zM196.9 37.6h4M198.9 35.6v4M273.6 92h4M275.6 90v4M279.7 120.7h4M281.7 118.7v4M197.2 203.4h3.2v3.2h-3.2zM231.5 48.5h4M233.5 46.5v4M128.2 155.9h3.2v3.2h-3.2zM179 66.2h3.2v3.2h-3.2zM193.2 201.5h3.2v3.2h-3.2zM200.8 37.8h3.2v3.2h-3.2z"/>
<path d="M184.4 34.9l1.6 2.2l-1.6 2.2l-1.6 -2.2zM125.7 112.4l1.6 2.2l-1.6 2.2l-1.6 -2.2zM200 200.2l1.6 2.2l-1.6 2.2l-1.6 -2.2zM273.8 114.3l1.6 2.2l-1.6 2.2l-1.6 -2.2zM200.5 36.1l1.6 2.2l-1.6 2.2l-1.6 -2.2zM184.2 39.2l1.6 2.2l-1.6 2.2l-1.6 -2.2z" fill="#21a3e3" fill-opacity="0.75"/>
<circle cx="185.9" cy="40.2" r="1.75"/><circle cx="195.6" cy="205" r="1.75"/><circle cx="158.4" cy="183.9" r="1.75"/><circle cx="170.2" cy="177.9" r="1.75"/><circle cx="132.2" cy="154.7" r="1.75"/><circle cx="218.7" cy="194.3" r="1.75"/><circle cx="264.5" cy="160" r="1.75"/><circle cx="159.3" cy="175.3" r="1.75"/><circle cx="261" cy="169.3" r="1.75"/><circle cx="181.3" cy="33.9" r="1.75"/><circle cx="229.6" cy="43.3" r="1.75"/>
</g>
<g stroke="#13b0d7">
<path d="M185 39.2h3.2v3.2h-3.2zM147.9 35.4h4M149.9 33.4v4M195 41.6h4M197 39.6v4M180.6 39.6h3.2v3.2h-3.2zM156.5 177.5h3.2v3.2h-3.2zM172.6 32.5h3.2v3.2h-3.2zM199.4 63.5h3.2v3.2h-3.2zM210.6 35.8h3.2v3.2h-3.2zM177.4 33.1h3.2v3.2h-3.2zM130.9 154.8h3.2v3.2h-3.2zM153.6 172.9h4M155.6 170.9v4M142.8 65.1h3.2v3.2h-3.2zM124.2 109h3.2v3.2h-3.2zM194.6 204h4M196.6 202v4M266.7 158.8h3.2v3.2h-3.2zM157.4 162.7h4M159.4 160.7v4M274 110h4M276 108v4M247.4 60.5h4M249.4 58.5v4M130.8 158.8h3.2v3.2h-3.2zM189.9 41h3.2v3.2h-3.2zM183.4 182.1h3.2v3.2h-3.2zM266.9 146.7h3.2v3.2h-3.2zM216.2 190.5h3.2v3.2h-3.2zM172.9 35.8h3.2v3.2h-3.2zM132.4 151.8h3.2v3.2h-3.2zM270.4 113.3h4M272.4 111.3v4M255.5 173.1h3.2v3.2h-3.2zM162.7 182.3h3.2v3.2h-3.2zM222.2 39.8h3.2v3.2h-3.2zM233.7 55.2h3.2v3.2h-3.2zM251.1 99.2h4M253.1 97.2v4M249.9 60.9h3.2v3.2h-3.2zM181.1 38.6h3.2v3.2h-3.2zM181.6 36.2h3.2v3.2h-3.2zM263.1 107.7h4M265.1 105.7v4"/>
<path d="M150 192.7l1.6 2.2l-1.6 2.2l-1.6 -2.2zM219.7 41.2l1.6 2.2l-1.6 2.2l-1.6 -2.2zM158.4 166l1.6 2.2l-1.6 2.2l-1.6 -2.2zM246.2 55.8l1.6 2.2l-1.6 2.2l-1.6 -2.2zM273.6 107.1l1.6 2.2l-1.6 2.2l-1.6 -2.2zM133.7 149.6l1.6 2.2l-1.6 2.2l-1.6 -2.2zM125.8 108.9l1.6 2.2l-1.6 2.2l-1.6 -2.2zM153.1 178.9l1.6 2.2l-1.6 2.2l-1.6 -2.2zM196.7 197.9l1.6 2.2l-1.6 2.2l-1.6 -2.2zM261.3 163.4l1.6 2.2l-1.6 2.2l-1.6 -2.2zM251.5 92.3l1.6 2.2l-1.6 2.2l-1.6 -2.2zM126.9 135.9l1.6 2.2l-1.6 2.2l-1.6 -2.2zM148.2 33.3l1.6 2.2l-1.6 2.2l-1.6 -2.2zM159.7 179.5l1.6 2.2l-1.6 2.2l-1.6 -2.2zM193 197.2l1.6 2.2l-1.6 2.2l-1.6 -2.2zM160.5 44.3l1.6 2.2l-1.6 2.2l-1.6 -2.2z" fill="#13b0d7" fill-opacity="0.75"/>
<circle cx="219.8" cy="40.3" r="1.75"/><circle cx="210.9" cy="37" r="1.75"/><circle cx="194.4" cy="202.7" r="1.75"/><circle cx="131.6" cy="162.2" r="1.75"/><circle cx="222" cy="190.5" r="1.75"/><circle cx="237.1" cy="50.6" r="1.75"/><circle cx="177.7" cy="72.6" r="1.75"/><circle cx="126.9" cy="157" r="1.75"/><circle cx="148.7" cy="178.5" r="1.75"/>
</g>
<g stroke="#3d70ff">
<path d="M211.1 43.6h4M213.1 41.6v4"/>
<path d="M152 49.3l1.6 2.2l-1.6 2.2l-1.6 -2.2zM129.5 147.2l1.6 2.2l-1.6 2.2l-1.6 -2.2zM196.7 34.2l1.6 2.2l-1.6 2.2l-1.6 -2.2zM126.9 154.8l1.6 2.2l-1.6 2.2l-1.6 -2.2zM193 37.5l1.6 2.2l-1.6 2.2l-1.6 -2.2zM127.2 154.5l1.6 2.2l-1.6 2.2l-1.6 -2.2zM222.4 42.1l1.6 2.2l-1.6 2.2l-1.6 -2.2zM125.8 151.5l1.6 2.2l-1.6 2.2l-1.6 -2.2zM276.9 123.5l1.6 2.2l-1.6 2.2l-1.6 -2.2zM171.5 66.5l1.6 2.2l-1.6 2.2l-1.6 -2.2zM172.4 65.4l1.6 2.2l-1.6 2.2l-1.6 -2.2zM277.5 121.9l1.6 2.2l-1.6 2.2l-1.6 -2.2z" fill="#3d70ff" fill-opacity="0.75"/>
</g>
<g stroke="#2994ed">
<path d="M264 148.1h3.2v3.2h-3.2zM223 38.9h3.2v3.2h-3.2zM183.9 34.5h3.2v3.2h-3.2zM221.2 44.3h3.2v3.2h-3.2zM162.6 42.7h4M164.6 40.7v4M230.8 43.7h4M232.8 41.7v4M189.5 195.1h3.2v3.2h-3.2zM267 139.3h4M269 137.3v4"/>
<path d="M223.7 183.9l1.6 2.2l-1.6 2.2l-1.6 -2.2zM203.8 199.2l1.6 2.2l-1.6 2.2l-1.6 -2.2zM132.6 157.4l1.6 2.2l-1.6 2.2l-1.6 -2.2z" fill="#2994ed" fill-opacity="0.75"/>
<circle cx="185.8" cy="31.6" r="1.75"/><circle cx="203.8" cy="201.5" r="1.75"/><circle cx="225" cy="188.2" r="1.75"/><circle cx="158.2" cy="177.5" r="1.75"/><circle cx="217.9" cy="42.5" r="1.75"/>
</g>
<g stroke="#24c2ae">
<path d="M118.3 81h3.2v3.2h-3.2zM163 186.1h4M165 184.1v4M139.8 167.6h3.2v3.2h-3.2zM227.1 50.7h3.2v3.2h-3.2zM122 113.3h4M124 111.3v4M222.8 186.7h4M224.8 184.7v4M151 40.6h4M153 38.6v4M117.2 103.6h4M119.2 101.6v4M275.4 113.4h4M277.4 111.4v4M203.8 190.9h4M205.8 188.9v4M277.4 123.5h4M279.4 121.5v4M250.2 63.1h4M252.2 61.1v4M144.5 195.9h4M146.5 193.9v4M220.9 42.4h3.2v3.2h-3.2zM272.3 90.6h4M274.3 88.6v4M196.1 203.1h3.2v3.2h-3.2zM177.2 207.6h4M179.2 205.6v4M149.6 39.2h3.2v3.2h-3.2zM143 171.5h4M145 169.5v4M230.8 50.8h3.2v3.2h-3.2zM136.8 167h4M138.8 165v4"/>
<path d="M122.3 158.9l1.6 2.2l-1.6 2.2l-1.6 -2.2zM223.7 40l1.6 2.2l-1.6 2.2l-1.6 -2.2zM120.7 98.7l1.6 2.2l-1.6 2.2l-1.6 -2.2zM185.3 33.8l1.6 2.2l-1.6 2.2l-1.6 -2.2zM211.7 64l1.6 2.2l-1.6 2.2l-1.6 -2.2zM278.3 112.3l1.6 2.2l-1.6 2.2l-1.6 -2.2zM223.9 40.3l1.6 2.2l-1.6 2.2l-1.6 -2.2zM123 91.7l1.6 2.2l-1.6 2.2l-1.6 -2.2zM146.4 191.2l1.6 2.2l-1.6 2.2l-1.6 -2.2zM146.8 67.6l1.6 2.2l-1.6 2.2l-1.6 -2.2zM133.1 149.1l1.6 2.2l-1.6 2.2l-1.6 -2.2zM199.4 34.6l1.6 2.2l-1.6 2.2l-1.6 -2.2zM268.7 137.2l1.6 2.2l-1.6 2.2l-1.6 -2.2zM245.1 55.5l1.6 2.2l-1.6 2.2l-1.6 -2.2zM254.9 174.6l1.6 2.2l-1.6 2.2l-1.6 -2.2zM120.5 82l1.6 2.2l-1.6 2.2l-1.6 -2.2z" fill="#24c2ae" fill-opacity="0.75"/>
<circle cx="182" cy="198.2" r="1.75"/><circle cx="231.3" cy="184" r="1.75"/><circle cx="258.2" cy="71.2" r="1.75"/><circle cx="278.3" cy="110.7" r="1.75"/><circle cx="124.7" cy="163.6" r="1.75"/><circle cx="139.2" cy="167.1" r="1.75"/><circle cx="149.1" cy="36.1" r="1.75"/><circle cx="265.6" cy="166" r="1.75"/><circle cx="270.9" cy="90.2" r="1.75"/><circle cx="127.6" cy="131.3" r="1.75"/><circle cx="137" cy="153.9" r="1.75"/><circle cx="183.7" cy="202.1" r="1.75"/><circle cx="175.7" cy="64.9" r="1.75"/><circle cx="201.7" cy="34.9" r="1.75"/><circle cx="249.8" cy="62.2" r="1.75"/><circle cx="228.5" cy="47.3" r="1.75"/><circle cx="162.1" cy="42.7" r="1.75"/><circle cx="173.7" cy="32.8" r="1.75"/><circle cx="122" cy="96.6" r="1.75"/><circle cx="282" cy="121.7" r="1.75"/><circle cx="272.8" cy="145.4" r="1.75"/><circle cx="231.6" cy="186.3" r="1.75"/><circle cx="128.1" cy="160.2" r="1.75"/><circle cx="188.3" cy="196.2" r="1.75"/><circle cx="120.6" cy="84.9" r="1.75"/>
</g>
<g stroke="#2e83f9">
<path d="M197.5 38.6h4M199.5 36.6v4M212.1 42.3h4M214.1 40.3v4M200.1 35.5h4M202.1 33.5v4M221.2 44.4h4M223.2 42.4v4M223.9 45.7h4M225.9 43.7v4M223.3 46.9h4M225.3 44.9v4M223.4 46.5h4M225.4 44.5v4"/>
<path d="M123.1 154.2l1.6 2.2l-1.6 2.2l-1.6 -2.2zM123.5 154.2l1.6 2.2l-1.6 2.2l-1.6 -2.2zM274.1 126.3l1.6 2.2l-1.6 2.2l-1.6 -2.2zM137.5 154.6l1.6 2.2l-1.6 2.2l-1.6 -2.2z" fill="#2e83f9" fill-opacity="0.75"/>
</g>
<g stroke="#f6f21e">
<path d="M170.9 194.6h3.2v3.2h-3.2zM273.1 101.1h3.2v3.2h-3.2zM172.4 191h3.2v3.2h-3.2zM267.9 162.3h3.2v3.2h-3.2z"/>
<circle cx="274" cy="91" r="1.75"/><circle cx="171.1" cy="179.7" r="1.75"/><circle cx="201.4" cy="205.7" r="1.75"/><circle cx="270.7" cy="156.6" r="1.75"/>
</g>
<g stroke="#465efb">
<path d="M125.6 153.4h4M127.6 151.4v4"/>
<path d="M212 43.5l1.6 2.2l-1.6 2.2l-1.6 -2.2zM222 42.3l1.6 2.2l-1.6 2.2l-1.6 -2.2zM131.6 152.2l1.6 2.2l-1.6 2.2l-1.6 -2.2z" fill="#465efb" fill-opacity="0.75"/>
</g>
<g stroke="#484cef">
<path d="M171.3 203.8h4M173.3 201.8v4"/>
</g>
<g stroke="#463adc">
<path d="M175 202.6h4M177 200.6v4"/>
<path d="M179.1 199.7l1.6 2.2l-1.6 2.2l-1.6 -2.2zM178 202.5l1.6 2.2l-1.6 2.2l-1.6 -2.2z" fill="#463adc" fill-opacity="0.75"/>
</g>
<g stroke="#feca33">
<path d="M143.8 61.5h3.2v3.2h-3.2zM229.9 45.8h3.2v3.2h-3.2zM146.1 42.1h3.2v3.2h-3.2zM123 77.6h3.2v3.2h-3.2zM186.8 198h3.2v3.2h-3.2zM130.6 146.9h3.2v3.2h-3.2zM228.3 43.6h3.2v3.2h-3.2zM187 196h3.2v3.2h-3.2zM230.5 47h3.2v3.2h-3.2zM190.7 30.6h3.2v3.2h-3.2zM145.5 173.3h3.2v3.2h-3.2zM146.7 174.4h3.2v3.2h-3.2zM186.7 207.9h3.2v3.2h-3.2zM123 107.5h3.2v3.2h-3.2zM195.6 196.4h3.2v3.2h-3.2zM167 199.6h3.2v3.2h-3.2zM163.6 38.2h3.2v3.2h-3.2z"/>
<circle cx="150.6" cy="49.1" r="1.75"/><circle cx="233.8" cy="53.7" r="1.75"/><circle cx="218.8" cy="195.2" r="1.75"/><circle cx="243.8" cy="181.4" r="1.75"/><circle cx="124.8" cy="107.9" r="1.75"/><circle cx="274.8" cy="123.2" r="1.75"/><circle cx="175.3" cy="201.7" r="1.75"/><circle cx="274.2" cy="143.6" r="1.75"/><circle cx="274.8" cy="99.3" r="1.75"/><circle cx="121.2" cy="145" r="1.75"/><circle cx="169.1" cy="180.7" r="1.75"/><circle cx="148.7" cy="165.3" r="1.75"/><circle cx="233.7" cy="186" r="1.75"/><circle cx="127.2" cy="134.9" r="1.75"/><circle cx="133.4" cy="58" r="1.75"/><circle cx="231" cy="49.4" r="1.75"/><circle cx="276.6" cy="96.8" r="1.75"/><circle cx="150.9" cy="175.6" r="1.75"/><circle cx="121.6" cy="143.4" r="1.75"/><circle cx="161.8" cy="176.5" r="1.75"/><circle cx="239.9" cy="183.5" r="1.75"/><circle cx="123.8" cy="81" r="1.75"/><circle cx="274.3" cy="124.8" r="1.75"/><circle cx="233.6" cy="188.3" r="1.75"/><circle cx="125" cy="107.4" r="1.75"/><circle cx="152.5" cy="180.4" r="1.75"/><circle cx="278.6" cy="135.1" r="1.75"/><circle cx="151.4" cy="183.6" r="1.75"/><circle cx="210.3" cy="202.3" r="1.75"/><circle cx="183.1" cy="194.8" r="1.75"/><circle cx="120.8" cy="107.3" r="1.75"/><circle cx="270.2" cy="158.5" r="1.75"/><circle cx="221.1" cy="36.1" r="1.75"/><circle cx="121.9" cy="108.4" r="1.75"/><circle cx="145.6" cy="73.1" r="1.75"/><circle cx="212.2" cy="206.6" r="1.75"/><circle cx="218.6" cy="43.1" r="1.75"/><circle cx="132.1" cy="149.9" r="1.75"/><circle cx="176.1" cy="29.2" r="1.75"/><circle cx="172.2" cy="191.1" r="1.75"/><circle cx="275.2" cy="151.9" r="1.75"/><circle cx="119.4" cy="106.8" r="1.75"/><circle cx="207.8" cy="31.9" r="1.75"/><circle cx="271.7" cy="154.9" r="1.75"/><circle cx="140.7" cy="174" r="1.75"/>
</g>
<g stroke="#f8ba3d">
<path d="M278.3 133.1h3.2v3.2h-3.2zM203.3 197.8h3.2v3.2h-3.2zM121.5 122.7h3.2v3.2h-3.2zM120.4 116.8h3.2v3.2h-3.2zM181.9 197.6h3.2v3.2h-3.2zM126.6 77.8h3.2v3.2h-3.2zM180 187h3.2v3.2h-3.2zM215.6 191.6h3.2v3.2h-3.2zM123.2 145.7h3.2v3.2h-3.2zM130.8 157.9h3.2v3.2h-3.2zM146.9 174.3h3.2v3.2h-3.2zM231.1 50.6h3.2v3.2h-3.2zM270.3 91.5h3.2v3.2h-3.2zM117.7 86.4h3.2v3.2h-3.2zM147.9 173.8h3.2v3.2h-3.2zM170.2 176.5h3.2v3.2h-3.2zM209.5 29.5h3.2v3.2h-3.2zM269 140.4h3.2v3.2h-3.2zM212 198.8h3.2v3.2h-3.2zM219.1 39.2h3.2v3.2h-3.2zM128.4 142.1h3.2v3.2h-3.2zM256.9 64.9h3.2v3.2h-3.2zM193.4 34.9h3.2v3.2h-3.2zM133 164.4h3.2v3.2h-3.2z"/>
<circle cx="179" cy="202.4" r="1.75"/><circle cx="150.1" cy="170.1" r="1.75"/><circle cx="162.7" cy="67.5" r="1.75"/><circle cx="216.4" cy="187.7" r="1.75"/><circle cx="209.4" cy="191.8" r="1.75"/><circle cx="165.1" cy="200.7" r="1.75"/><circle cx="140.7" cy="173.1" r="1.75"/><circle cx="192.4" cy="202.1" r="1.75"/><circle cx="187.4" cy="33" r="1.75"/><circle cx="123.2" cy="97.8" r="1.75"/><circle cx="137.7" cy="153.3" r="1.75"/><circle cx="176.9" cy="204.2" r="1.75"/><circle cx="209.9" cy="202.9" r="1.75"/><circle cx="140.6" cy="184.5" r="1.75"/><circle cx="232.3" cy="185.5" r="1.75"/><circle cx="273.7" cy="150.4" r="1.75"/><circle cx="132" cy="149.8" r="1.75"/><circle cx="164.5" cy="39.5" r="1.75"/><circle cx="139.1" cy="54.1" r="1.75"/><circle cx="163.7" cy="42.7" r="1.75"/><circle cx="184.6" cy="194.5" r="1.75"/><circle cx="175.1" cy="189.5" r="1.75"/><circle cx="121.5" cy="142.1" r="1.75"/><circle cx="222.3" cy="187.7" r="1.75"/><circle cx="256.6" cy="68" r="1.75"/><circle cx="146.8" cy="173.2" r="1.75"/><circle cx="213.2" cy="37.5" r="1.75"/><circle cx="178.7" cy="203" r="1.75"/><circle cx="134.4" cy="162" r="1.75"/><circle cx="280.4" cy="135.1" r="1.75"/><circle cx="278.4" cy="140.3" r="1.75"/><circle cx="124.1" cy="137.7" r="1.75"/><circle cx="122.8" cy="155" r="1.75"/><circle cx="272.3" cy="119" r="1.75"/><circle cx="173.2" cy="183.6" r="1.75"/><circle cx="144.3" cy="175.4" r="1.75"/><circle cx="217.1" cy="40.9" r="1.75"/><circle cx="209.2" cy="41.3" r="1.75"/><circle cx="167.2" cy="179.4" r="1.75"/><circle cx="185.2" cy="28.8" r="1.75"/><circle cx="233.6" cy="45.8" r="1.75"/><circle cx="159.9" cy="42.8" r="1.75"/><circle cx="157.4" cy="185.7" r="1.75"/><circle cx="272.2" cy="125.1" r="1.75"/><circle cx="177.6" cy="198.6" r="1.75"/><circle cx="207.5" cy="61.6" r="1.75"/><circle cx="127.4" cy="172.3" r="1.75"/><circle cx="185.2" cy="29.1" r="1.75"/><circle cx="184.5" cy="39.9" r="1.75"/><circle cx="152.7" cy="189.7" r="1.75"/><circle cx="209" cy="203.6" r="1.75"/><circle cx="191.3" cy="37.8" r="1.75"/><circle cx="166.3" cy="202.2" r="1.75"/><circle cx="214.9" cy="41.9" r="1.75"/><circle cx="122.7" cy="124.3" r="1.75"/><circle cx="158.7" cy="173.8" r="1.75"/><circle cx="236.8" cy="186.9" r="1.75"/><circle cx="133.8" cy="58.7" r="1.75"/><circle cx="153.7" cy="187" r="1.75"/><circle cx="148" cy="167.8" r="1.75"/><circle cx="274.7" cy="113.8" r="1.75"/><circle cx="190.6" cy="37.3" r="1.75"/><circle cx="216.3" cy="196.3" r="1.75"/><circle cx="177.3" cy="202.3" r="1.75"/><circle cx="173.4" cy="191.5" r="1.75"/><circle cx="120.3" cy="90.4" r="1.75"/><circle cx="151.1" cy="168.8" r="1.75"/><circle cx="184.9" cy="197.6" r="1.75"/><circle cx="200.6" cy="197.8" r="1.75"/><circle cx="145.6" cy="174.5" r="1.75"/><circle cx="165.5" cy="38.8" r="1.75"/><circle cx="122.5" cy="127.2" r="1.75"/><circle cx="127.8" cy="168.2" r="1.75"/><circle cx="213.4" cy="30.7" r="1.75"/><circle cx="217.2" cy="32.8" r="1.75"/><circle cx="272.7" cy="91" r="1.75"/><circle cx="152.8" cy="48.8" r="1.75"/><circle cx="183.4" cy="204.8" r="1.75"/><circle cx="221.9" cy="183.8" r="1.75"/><circle cx="185.1" cy="194.1" r="1.75"/><circle cx="215.7" cy="195.9" r="1.75"/><circle cx="193.6" cy="199.5" r="1.75"/>
</g>
<g stroke="#b4c533">
<path d="M126.3 127.3h3.2v3.2h-3.2zM275.1 126.6h3.2v3.2h-3.2zM179.1 197.4h3.2v3.2h-3.2zM154.9 39.5h3.2v3.2h-3.2zM193.3 29.7h3.2v3.2h-3.2zM143.2 173.7h3.2v3.2h-3.2zM184.8 184.3h3.2v3.2h-3.2zM161.6 40.5h3.2v3.2h-3.2zM226.2 40.1h3.2v3.2h-3.2zM211.7 36.8h3.2v3.2h-3.2zM116.9 108.2h3.2v3.2h-3.2zM131.5 57.8h3.2v3.2h-3.2zM140.1 165.8h3.2v3.2h-3.2zM172.7 198.3h3.2v3.2h-3.2zM270.4 122.2h3.2v3.2h-3.2zM240.5 54.7h3.2v3.2h-3.2zM167.8 200h3.2v3.2h-3.2zM120.4 123.2h3.2v3.2h-3.2zM125.2 158h3.2v3.2h-3.2zM197.2 29.7h3.2v3.2h-3.2zM213.6 193.9h3.2v3.2h-3.2zM205.3 61.5h3.2v3.2h-3.2zM132.8 155.3h3.2v3.2h-3.2zM138.8 168.4h3.2v3.2h-3.2zM118.4 112.6h3.2v3.2h-3.2zM220.2 197.2h3.2v3.2h-3.2z"/>
<circle cx="275" cy="128.7" r="1.75"/><circle cx="253.9" cy="171.7" r="1.75"/><circle cx="260.5" cy="165.2" r="1.75"/><circle cx="229.3" cy="186.2" r="1.75"/><circle cx="196.2" cy="34" r="1.75"/><circle cx="218.6" cy="35.2" r="1.75"/><circle cx="189.2" cy="29.5" r="1.75"/><circle cx="224.9" cy="196.2" r="1.75"/><circle cx="129.3" cy="130.4" r="1.75"/><circle cx="127.7" cy="172.2" r="1.75"/><circle cx="139.9" cy="165.4" r="1.75"/><circle cx="223.6" cy="197.9" r="1.75"/><circle cx="141.4" cy="175.7" r="1.75"/><circle cx="212.1" cy="39.3" r="1.75"/><circle cx="255.5" cy="167.9" r="1.75"/><circle cx="254.4" cy="168.9" r="1.75"/><circle cx="202" cy="198.3" r="1.75"/><circle cx="120.6" cy="80.9" r="1.75"/><circle cx="124.1" cy="74.1" r="1.75"/><circle cx="124.8" cy="131.4" r="1.75"/><circle cx="194.7" cy="26.7" r="1.75"/><circle cx="124.7" cy="115.3" r="1.75"/><circle cx="152.8" cy="191.4" r="1.75"/><circle cx="134.6" cy="159.1" r="1.75"/><circle cx="175.1" cy="198.5" r="1.75"/><circle cx="124.2" cy="79.7" r="1.75"/><circle cx="211.4" cy="201.8" r="1.75"/><circle cx="208.9" cy="32.5" r="1.75"/><circle cx="187.8" cy="25.8" r="1.75"/><circle cx="127" cy="70.9" r="1.75"/><circle cx="141.9" cy="57.6" r="1.75"/><circle cx="123.5" cy="145.4" r="1.75"/><circle cx="276.7" cy="132" r="1.75"/><circle cx="226.2" cy="188.1" r="1.75"/><circle cx="170.4" cy="204.1" r="1.75"/><circle cx="253" cy="65.2" r="1.75"/><circle cx="150.8" cy="172.4" r="1.75"/><circle cx="228.4" cy="41.9" r="1.75"/><circle cx="162.7" cy="42" r="1.75"/><circle cx="151" cy="186.2" r="1.75"/><circle cx="119.9" cy="122.5" r="1.75"/><circle cx="216.7" cy="41.9" r="1.75"/><circle cx="276.8" cy="140.4" r="1.75"/><circle cx="265.4" cy="169.5" r="1.75"/><circle cx="146.4" cy="190.7" r="1.75"/><circle cx="281.6" cy="130.5" r="1.75"/><circle cx="129.4" cy="71.8" r="1.75"/><circle cx="142.5" cy="174.2" r="1.75"/><circle cx="194.4" cy="58.8" r="1.75"/><circle cx="237.4" cy="53.6" r="1.75"/><circle cx="264.8" cy="168.3" r="1.75"/><circle cx="165.7" cy="69" r="1.75"/><circle cx="273.8" cy="123.9" r="1.75"/><circle cx="145.6" cy="187.7" r="1.75"/><circle cx="156.7" cy="178.6" r="1.75"/><circle cx="237" cy="53.8" r="1.75"/><circle cx="132.1" cy="176.4" r="1.75"/>
</g>
<g stroke="#13b0d7">
<path d="M123.3 150.6h3.2v3.2h-3.2zM216.5 39.6h3.2v3.2h-3.2zM201.8 43.8h4M203.8 41.8v4M215.3 193.3h4M217.3 191.3v4M271.3 139.7h4M273.3 137.7v4M232.9 50.9h3.2v3.2h-3.2zM164.6 41.2h3.2v3.2h-3.2zM145 190.3h3.2v3.2h-3.2zM121.5 143h4M123.5 141v4M156.3 178.2h4M158.3 176.2v4M126.7 131.5h3.2v3.2h-3.2zM256.5 167.3h4M258.5 165.3v4M153.1 62h3.2v3.2h-3.2zM195.4 30.1h3.2v3.2h-3.2zM257.9 169.3h3.2v3.2h-3.2zM196.1 192.2h3.2v3.2h-3.2zM188.4 33.5h3.2v3.2h-3.2zM202.8 190.1h3.2v3.2h-3.2zM255.7 64.4h3.2v3.2h-3.2zM135 154.3h4M137 152.3v4M184.7 186.5h3.2v3.2h-3.2zM126.2 133.6h3.2v3.2h-3.2zM133.5 158.7h3.2v3.2h-3.2zM145 64h3.2v3.2h-3.2zM263 156.6h3.2v3.2h-3.2zM191.1 190.6h3.2v3.2h-3.2zM224.3 42.5h3.2v3.2h-3.2zM201.4 39.9h4M203.4 37.9v4M155.4 42.9h3.2v3.2h-3.2zM215.6 192.8h4M217.6 190.8v4M252.8 64h4M254.8 62v4M119.7 79.3h3.2v3.2h-3.2zM165.5 180.1h3.2v3.2h-3.2zM234.8 47.4h4M236.8 45.4v4M197.6 198.2h3.2v3.2h-3.2zM158.3 165.9h3.2v3.2h-3.2zM168.9 34.8h4M170.9 32.8v4M184.2 185h3.2v3.2h-3.2zM204.2 39.5h3.2v3.2h-3.2zM121.7 83.1h3.2v3.2h-3.2zM123.1 139.4h3.2v3.2h-3.2zM222.6 188.5h4M224.6 186.5v4M219.1 42.9h3.2v3.2h-3.2z"/>
<path d="M130.5 132l1.6 2.2l-1.6 2.2l-1.6 -2.2zM250.2 57.6l1.6 2.2l-1.6 2.2l-1.6 -2.2zM200.6 202.7l1.6 2.2l-1.6 2.2l-1.6 -2.2zM199.8 38.5l1.6 2.2l-1.6 2.2l-1.6 -2.2zM168.5 34.8l1.6 2.2l-1.6 2.2l-1.6 -2.2zM272.9 84.7l1.6 2.2l-1.6 2.2l-1.6 -2.2zM197.2 198.6l1.6 2.2l-1.6 2.2l-1.6 -2.2zM196.6 206.3l1.6 2.2l-1.6 2.2l-1.6 -2.2zM136.4 69.1l1.6 2.2l-1.6 2.2l-1.6 -2.2zM159.4 175.8l1.6 2.2l-1.6 2.2l-1.6 -2.2zM184.1 166l1.6 2.2l-1.6 2.2l-1.6 -2.2zM247.9 58.2l1.6 2.2l-1.6 2.2l-1.6 -2.2z" fill="#13b0d7" fill-opacity="0.75"/>
<circle cx="138" cy="72.1" r="1.75"/><circle cx="116.9" cy="86.2" r="1.75"/><circle cx="204.6" cy="190.4" r="1.75"/><circle cx="120.8" cy="118" r="1.75"/><circle cx="122.6" cy="120.1" r="1.75"/><circle cx="203.1" cy="205" r="1.75"/><circle cx="256.2" cy="174.2" r="1.75"/><circle cx="253.5" cy="96" r="1.75"/><circle cx="252.1" cy="63.1" r="1.75"/><circle cx="198.6" cy="201.5" r="1.75"/>
</g>
<g stroke="#5ccc76">
<path d="M133.4 180.8h3.2v3.2h-3.2zM143.1 165.1h3.2v3.2h-3.2zM227.7 185.9h3.2v3.2h-3.2zM276.5 121.3h4M278.5 119.3v4M162.2 183.2h4M164.2 181.2v4M121.7 121.7h3.2v3.2h-3.2zM223.8 186.9h3.2v3.2h-3.2zM193.7 193.8h4M195.7 191.8v4M158.7 37.3h4M160.7 35.3v4M134.2 169.5h3.2v3.2h-3.2zM132.1 172.6h4M134.1 170.6v4M157.7 42.4h4M159.7 40.4v4M174.4 204h4M176.4 202v4M269.1 139.3h3.2v3.2h-3.2zM120.1 102.5h3.2v3.2h-3.2zM269.4 128h3.2v3.2h-3.2z"/>
<path d="M141.2 172.5l1.6 2.2l-1.6 2.2l-1.6 -2.2zM128.8 178l1.6 2.2l-1.6 2.2l-1.6 -2.2zM130.7 128.5l1.6 2.2l-1.6 2.2l-1.6 -2.2zM208.3 58.4l1.6 2.2l-1.6 2.2l-1.6 -2.2zM123.8 138.3l1.6 2.2l-1.6 2.2l-1.6 -2.2zM146.2 41.9l1.6 2.2l-1.6 2.2l-1.6 -2.2zM122.2 138.7l1.6 2.2l-1.6 2.2l-1.6 -2.2z" fill="#5ccc76" fill-opacity="0.75"/>
<circle cx="235.2" cy="183.1" r="1.75"/><circle cx="143" cy="43.3" r="1.75"/><circle cx="146.6" cy="189.6" r="1.75"/><circle cx="168.4" cy="181.6" r="1.75"/><circle cx="194.6" cy="201.1" r="1.75"/><circle cx="137" cy="161.7" r="1.75"/><circle cx="234.6" cy="183.1" r="1.75"/><circle cx="125.1" cy="162" r="1.75"/><circle cx="123" cy="99" r="1.75"/><circle cx="138.3" cy="155.8" r="1.75"/><circle cx="173.1" cy="185.5" r="1.75"/>
</g>
<g stroke="#24c2ae">
<path d="M197.5 64.8h4M199.5 62.8v4M125.2 146.8h4M127.2 144.8v4M221.7 39.3h3.2v3.2h-3.2zM192.9 205.2h4M194.9 203.2v4M201.3 37.7h3.2v3.2h-3.2zM166.1 185.3h4M168.1 183.3v4M272.9 131.6h3.2v3.2h-3.2zM252.9 173h3.2v3.2h-3.2zM222.3 187h3.2v3.2h-3.2zM145.4 45.6h4M147.4 43.6v4M117.3 92.6h3.2v3.2h-3.2zM182.6 192.8h3.2v3.2h-3.2zM221.7 40.1h3.2v3.2h-3.2zM199.7 65.2h4M201.7 63.2v4M189.2 191.6h3.2v3.2h-3.2zM196.8 39h3.2v3.2h-3.2zM253.6 65.8h3.2v3.2h-3.2zM240.1 55.4h3.2v3.2h-3.2zM213.1 39h3.2v3.2h-3.2zM245.5 59.8h4M247.5 57.8v4M196 202.6h3.2v3.2h-3.2z"/>
<path d="M186.4 189.5l1.6 2.2l-1.6 2.2l-1.6 -2.2zM177.2 34.2l1.6 2.2l-1.6 2.2l-1.6 -2.2zM186.2 189.3l1.6 2.2l-1.6 2.2l-1.6 -2.2zM273.5 107.6l1.6 2.2l-1.6 2.2l-1.6 -2.2zM124.2 147.7l1.6 2.2l-1.6 2.2l-1.6 -2.2zM148.6 40.6l1.6 2.2l-1.6 2.2l-1.6 -2.2zM121.6 94.5l1.6 2.2l-1.6 2.2l-1.6 -2.2zM198.2 40.4l1.6 2.2l-1.6 2.2l-1.6 -2.2zM213.2 36.5l1.6 2.2l-1.6 2.2l-1.6 -2.2zM147.7 66.3l1.6 2.2l-1.6 2.2l-1.6 -2.2zM159 40.9l1.6 2.2l-1.6 2.2l-1.6 -2.2zM145.9 172.8l1.6 2.2l-1.6 2.2l-1.6 -2.2zM200.4 38.8l1.6 2.2l-1.6 2.2l-1.6 -2.2z" fill="#24c2ae" fill-opacity="0.75"/>
<circle cx="200.5" cy="195" r="1.75"/><circle cx="158.9" cy="44.4" r="1.75"/><circle cx="129.5" cy="150.6" r="1.75"/><circle cx="193.6" cy="203.7" r="1.75"/><circle cx="133.8" cy="178.9" r="1.75"/><circle cx="129.7" cy="147.9" r="1.75"/><circle cx="251.1" cy="64.8" r="1.75"/><circle cx="223.4" cy="189.7" r="1.75"/><circle cx="278.1" cy="112.4" r="1.75"/><circle cx="157.8" cy="173.1" r="1.75"/><circle cx="200.3" cy="192.9" r="1.75"/><circle cx="201" cy="204.4" r="1.75"/><circle cx="282" cy="125.8" r="1.75"/><circle cx="174.6" cy="203.1" r="1.75"/><circle cx="189.4" cy="196.1" r="1.75"/><circle cx="124.1" cy="101" r="1.75"/><circle cx="152.6" cy="178.9" r="1.75"/><circle cx="120.7" cy="163" r="1.75"/><circle cx="252.1" cy="62.7" r="1.75"/><circle cx="127" cy="148.6" r="1.75"/>
</g>
<g stroke="#88cb53">
<path d="M120.7 101.2h3.2v3.2h-3.2zM207 63.3h4M209 61.3v4M116.2 112.2h3.2v3.2h-3.2zM210.3 43.7h4M212.3 41.7v4M273.2 103h3.2v3.2h-3.2zM118.8 118.7h3.2v3.2h-3.2zM204.6 31.4h4M206.6 29.4v4M121.1 75.4h3.2v3.2h-3.2zM235.3 182.6h4M237.3 180.6v4M234.7 53.4h4M236.7 51.4v4M124 155.7h4M126 153.7v4M189.1 193.3h3.2v3.2h-3.2z"/>
<path d="M169.5 199.5l1.6 2.2l-1.6 2.2l-1.6 -2.2zM125.5 120.4l1.6 2.2l-1.6 2.2l-1.6 -2.2zM260.3 165.6l1.6 2.2l-1.6 2.2l-1.6 -2.2zM175.2 201.1l1.6 2.2l-1.6 2.2l-1.6 -2.2zM192.5 197.2l1.6 2.2l-1.6 2.2l-1.6 -2.2zM167.9 182.3l1.6 2.2l-1.6 2.2l-1.6 -2.2zM126.9 123.3l1.6 2.2l-1.6 2.2l-1.6 -2.2zM189.6 191.4l1.6 2.2l-1.6 2.2l-1.6 -2.2z" fill="#88cb53" fill-opacity="0.75"/>
<circle cx="146.1" cy="46" r="1.75"/><circle cx="270.8" cy="147.8" r="1.75"/><circle cx="132.2" cy="170.8" r="1.75"/><circle cx="279.4" cy="121.9" r="1.75"/><circle cx="189.1" cy="193.3" r="1.75"/><circle cx="129.7" cy="134.4" r="1.75"/><circle cx="170.3" cy="182" r="1.75"/><circle cx="118.7" cy="115.8" r="1.75"/><circle cx="195.4" cy="32.8" r="1.75"/><circle cx="256.4" cy="164.9" r="1.75"/><circle cx="186.7" cy="70.1" r="1.75"/><circle cx="265.2" cy="160.2" r="1.75"/><circle cx="132.9" cy="154.6" r="1.75"/><circle cx="258.2" cy="165.6" r="1.75"/><circle cx="163.2" cy="74.4" r="1.75"/><circle cx="194.7" cy="195.9" r="1.75"/><circle cx="132.1" cy="170.6" r="1.75"/><circle cx="131.1" cy="128.4" r="1.75"/><circle cx="146.3" cy="53" r="1.75"/><circle cx="263.4" cy="168.7" r="1.75"/><circle cx="154.3" cy="173" r="1.75"/><circle cx="132.3" cy="169.2" r="1.75"/><circle cx="192.4" cy="192.9" r="1.75"/><circle cx="191.7" cy="194.2" r="1.75"/><circle cx="198.4" cy="57.6" r="1.75"/><circle cx="257.9" cy="160.5" r="1.75"/><circle cx="193.1" cy="199.4" r="1.75"/>
</g>
<g stroke="#dabd28">
<path d="M167.2 197.8h3.2v3.2h-3.2zM190 193.7h3.2v3.2h-3.2zM220.4 33.3h3.2v3.2h-3.2zM136.4 158.1h3.2v3.2h-3.2zM273.1 131.8h3.2v3.2h-3.2zM190.6 160.8h3.2v3.2h-3.2zM181 26.2h3.2v3.2h-3.2zM172.5 200.9h3.2v3.2h-3.2zM247.8 176.1h3.2v3.2h-3.2zM223.7 195.3h3.2v3.2h-3.2zM132.8 151.8h3.2v3.2h-3.2zM188.7 196.9h3.2v3.2h-3.2zM212.3 38.3h3.2v3.2h-3.2zM151 182h3.2v3.2h-3.2zM181 26.3h3.2v3.2h-3.2zM191.6 204.6h3.2v3.2h-3.2zM126.5 157.9h3.2v3.2h-3.2zM141.1 170.2h3.2v3.2h-3.2zM162.4 69.7h3.2v3.2h-3.2zM219.7 197h3.2v3.2h-3.2zM205 197.2h3.2v3.2h-3.2zM128.5 125.7h3.2v3.2h-3.2zM210.2 187.3h3.2v3.2h-3.2zM118.5 104.1h3.2v3.2h-3.2zM139.6 79.1h3.2v3.2h-3.2zM214.4 39.2h3.2v3.2h-3.2zM252.1 66.5h3.2v3.2h-3.2zM273.8 128.6h3.2v3.2h-3.2zM212 60h3.2v3.2h-3.2zM198.6 41.5h3.2v3.2h-3.2zM277.1 131.5h3.2v3.2h-3.2zM272.9 113.2h3.2v3.2h-3.2zM180.1 67.8h3.2v3.2h-3.2zM217.7 188.5h3.2v3.2h-3.2z"/>
<circle cx="159.3" cy="175.2" r="1.75"/><circle cx="218.6" cy="42.9" r="1.75"/><circle cx="212.6" cy="190.8" r="1.75"/><circle cx="123.8" cy="80.2" r="1.75"/><circle cx="277" cy="127.9" r="1.75"/><circle cx="185.6" cy="41.8" r="1.75"/><circle cx="228.9" cy="185.6" r="1.75"/><circle cx="134.6" cy="156.7" r="1.75"/><circle cx="177.3" cy="200.9" r="1.75"/><circle cx="193.9" cy="160.8" r="1.75"/><circle cx="125" cy="76.8" r="1.75"/><circle cx="192.8" cy="29.1" r="1.75"/><circle cx="252.8" cy="170.8" r="1.75"/><circle cx="232.1" cy="52.2" r="1.75"/><circle cx="145" cy="184.4" r="1.75"/><circle cx="188.5" cy="34.6" r="1.75"/><circle cx="123.4" cy="104.4" r="1.75"/><circle cx="167.2" cy="179.5" r="1.75"/><circle cx="159.4" cy="42.2" r="1.75"/><circle cx="197.2" cy="28.5" r="1.75"/><circle cx="273.4" cy="94.5" r="1.75"/><circle cx="137.4" cy="156.2" r="1.75"/><circle cx="239.8" cy="54.6" r="1.75"/><circle cx="266.3" cy="168" r="1.75"/><circle cx="125.2" cy="103.4" r="1.75"/><circle cx="275.3" cy="130" r="1.75"/><circle cx="258.6" cy="67.9" r="1.75"/><circle cx="186.8" cy="42.5" r="1.75"/><circle cx="250" cy="172" r="1.75"/><circle cx="225.9" cy="186.6" r="1.75"/><circle cx="169" cy="191.1" r="1.75"/><circle cx="232.9" cy="185.1" r="1.75"/><circle cx="277.7" cy="127.8" r="1.75"/><circle cx="272.8" cy="133.9" r="1.75"/><circle cx="266.7" cy="147" r="1.75"/><circle cx="199.6" cy="37.5" r="1.75"/><circle cx="233.7" cy="47.2" r="1.75"/><circle cx="200.8" cy="200.7" r="1.75"/><circle cx="190.7" cy="195.6" r="1.75"/><circle cx="116.8" cy="96.8" r="1.75"/><circle cx="219.3" cy="31.9" r="1.75"/><circle cx="123.6" cy="108" r="1.75"/><circle cx="159" cy="174.8" r="1.75"/><circle cx="192.3" cy="207.3" r="1.75"/><circle cx="223.2" cy="199.2" r="1.75"/><circle cx="204.5" cy="27.8" r="1.75"/><circle cx="127.8" cy="156.2" r="1.75"/><circle cx="176.7" cy="201.3" r="1.75"/><circle cx="234.6" cy="47.7" r="1.75"/><circle cx="188.5" cy="34.1" r="1.75"/><circle cx="265.4" cy="165.3" r="1.75"/><circle cx="192.9" cy="39.3" r="1.75"/><circle cx="124.9" cy="101.4" r="1.75"/><circle cx="153.9" cy="188.1" r="1.75"/><circle cx="151.2" cy="188.2" r="1.75"/><circle cx="124.4" cy="109.5" r="1.75"/><circle cx="182.7" cy="26.7" r="1.75"/><circle cx="158.1" cy="176.3" r="1.75"/><circle cx="240.6" cy="56.7" r="1.75"/><circle cx="172.2" cy="30.9" r="1.75"/><circle cx="149.4" cy="191" r="1.75"/><circle cx="214.1" cy="202" r="1.75"/><circle cx="268.5" cy="155.6" r="1.75"/><circle cx="128.3" cy="74" r="1.75"/><circle cx="230.2" cy="45" r="1.75"/><circle cx="127.9" cy="151.3" r="1.75"/>
</g>
<g stroke="#f6de29">
<path d="M212.9 187.9h3.2v3.2h-3.2zM157.9 39.6h3.2v3.2h-3.2zM278.4 94.7h3.2v3.2h-3.2zM130.8 169.5h3.2v3.2h-3.2zM121.9 76.7h3.2v3.2h-3.2zM121.6 144.8h3.2v3.2h-3.2zM271.7 94.7h3.2v3.2h-3.2z"/>
<circle cx="151.6" cy="47.2" r="1.75"/><circle cx="238.6" cy="50.2" r="1.75"/><circle cx="132.8" cy="162.8" r="1.75"/><circle cx="128.2" cy="141.3" r="1.75"/><circle cx="129.2" cy="57" r="1.75"/><circle cx="187.4" cy="37.9" r="1.75"/><circle cx="183.3" cy="200" r="1.75"/><circle cx="278.3" cy="135.3" r="1.75"/><circle cx="277.1" cy="105.5" r="1.75"/><circle cx="161.9" cy="176.9" r="1.75"/><circle cx="239.6" cy="50.9" r="1.75"/><circle cx="234.2" cy="51.8" r="1.75"/><circle cx="123.6" cy="132.1" r="1.75"/><circle cx="238.7" cy="186.6" r="1.75"/><circle cx="185.4" cy="38.8" r="1.75"/><circle cx="173.2" cy="197.5" r="1.75"/>
</g>
<g stroke="#39c895">
<path d="M243.4 56.3h4M245.4 54.3v4M116.2 83.3h3.2v3.2h-3.2zM243.9 59.4h4M245.9 57.4v4M158.7 36.7h4M160.7 34.7v4M209.4 65h4M211.4 63v4M232.9 179.5h3.2v3.2h-3.2zM198.5 39.5h4M200.5 37.5v4M179.2 196.3h3.2v3.2h-3.2zM130.9 176.7h3.2v3.2h-3.2zM127.3 149.7h4M129.3 147.7v4M227.5 187.8h4M229.5 185.8v4M130.3 147h3.2v3.2h-3.2zM162.4 175.7h3.2v3.2h-3.2zM229.5 183.9h3.2v3.2h-3.2zM146 44.9h3.2v3.2h-3.2zM142 171h3.2v3.2h-3.2zM245.4 57.3h4M247.4 55.3v4M238.8 52.7h4M240.8 50.7v4M127.2 155.5h3.2v3.2h-3.2z"/>
<path d="M203.1 200.4l1.6 2.2l-1.6 2.2l-1.6 -2.2zM272.7 132.8l1.6 2.2l-1.6 2.2l-1.6 -2.2zM200.3 29.8l1.6 2.2l-1.6 2.2l-1.6 -2.2zM136.3 183l1.6 2.2l-1.6 2.2l-1.6 -2.2zM126.3 140.5l1.6 2.2l-1.6 2.2l-1.6 -2.2zM193.6 189l1.6 2.2l-1.6 2.2l-1.6 -2.2zM228.6 184.6l1.6 2.2l-1.6 2.2l-1.6 -2.2z" fill="#39c895" fill-opacity="0.75"/>
<circle cx="202.4" cy="199.6" r="1.75"/><circle cx="261.9" cy="76.7" r="1.75"/><circle cx="283.3" cy="123.3" r="1.75"/><circle cx="118.5" cy="96.2" r="1.75"/><circle cx="204.5" cy="38.3" r="1.75"/><circle cx="147.2" cy="43.1" r="1.75"/><circle cx="122.1" cy="123.1" r="1.75"/><circle cx="188.7" cy="192.8" r="1.75"/><circle cx="130.7" cy="173.7" r="1.75"/><circle cx="245.4" cy="59.9" r="1.75"/><circle cx="269.8" cy="142.7" r="1.75"/><circle cx="124.8" cy="103.6" r="1.75"/>
</g>
<g stroke="#02bac4">
<path d="M263 151.5h4M265 149.5v4M117.4 85.7h4M119.4 83.7v4M185.5 191.2h3.2v3.2h-3.2zM186 202.1h4M188 200.1v4M182.7 37.4h3.2v3.2h-3.2zM231.4 43.9h3.2v3.2h-3.2zM239.1 54.9h3.2v3.2h-3.2zM144.1 36.4h4M146.1 34.4v4M194.4 61.9h3.2v3.2h-3.2zM232.2 182.3h3.2v3.2h-3.2zM176.6 70.5h3.2v3.2h-3.2zM168.3 183.5h3.2v3.2h-3.2zM225.4 42.7h3.2v3.2h-3.2zM203.5 42h3.2v3.2h-3.2zM273.6 90.2h3.2v3.2h-3.2zM223.2 185.9h3.2v3.2h-3.2zM268.9 92.2h3.2v3.2h-3.2zM214.4 40h3.2v3.2h-3.2zM220.5 43.3h3.2v3.2h-3.2zM191.9 194.1h3.2v3.2h-3.2zM269.3 141h4M271.3 139v4M222.1 47h3.2v3.2h-3.2zM247.7 174.1h3.2v3.2h-3.2zM122.5 80.1h3.2v3.2h-3.2zM193.7 59.4h3.2v3.2h-3.2zM147.7 62.6h3.2v3.2h-3.2zM199.8 62h3.2v3.2h-3.2zM233.1 44.2h4M235.1 42.2v4M237.1 54.1h3.2v3.2h-3.2zM187.4 190.7h4M189.4 188.7v4M226 49.3h4M228 47.3v4M233 45.4h4M235 43.4v4M134.7 156.4h4M136.7 154.4v4M249.9 62.2h4M251.9 60.2v4M167.5 41h3.2v3.2h-3.2z"/>
<path d="M169.8 31.4l1.6 2.2l-1.6 2.2l-1.6 -2.2zM126.6 133.1l1.6 2.2l-1.6 2.2l-1.6 -2.2zM277.1 116l1.6 2.2l-1.6 2.2l-1.6 -2.2zM226.2 184.3l1.6 2.2l-1.6 2.2l-1.6 -2.2zM195.5 196.9l1.6 2.2l-1.6 2.2l-1.6 -2.2zM134.8 152.4l1.6 2.2l-1.6 2.2l-1.6 -2.2zM159 174.4l1.6 2.2l-1.6 2.2l-1.6 -2.2zM139.5 166.1l1.6 2.2l-1.6 2.2l-1.6 -2.2zM121.3 81.3l1.6 2.2l-1.6 2.2l-1.6 -2.2zM252.8 63.2l1.6 2.2l-1.6 2.2l-1.6 -2.2zM171.7 33.8l1.6 2.2l-1.6 2.2l-1.6 -2.2zM280 123.5l1.6 2.2l-1.6 2.2l-1.6 -2.2zM194.1 200.2l1.6 2.2l-1.6 2.2l-1.6 -2.2zM187.3 184.1l1.6 2.2l-1.6 2.2l-1.6 -2.2zM121.9 81.3l1.6 2.2l-1.6 2.2l-1.6 -2.2zM147.2 43l1.6 2.2l-1.6 2.2l-1.6 -2.2zM201.7 187.6l1.6 2.2l-1.6 2.2l-1.6 -2.2z" fill="#02bac4" fill-opacity="0.75"/>
<circle cx="182.3" cy="38.9" r="1.75"/><circle cx="138.2" cy="164.5" r="1.75"/><circle cx="213.5" cy="62" r="1.75"/><circle cx="206.5" cy="40.3" r="1.75"/><circle cx="147.2" cy="193" r="1.75"/><circle cx="188" cy="36.5" r="1.75"/><circle cx="148.6" cy="176.4" r="1.75"/><circle cx="195.6" cy="63.3" r="1.75"/><circle cx="146.9" cy="36.7" r="1.75"/><circle cx="202.5" cy="43" r="1.75"/><circle cx="148.5" cy="37.2" r="1.75"/><circle cx="225.7" cy="43.7" r="1.75"/><circle cx="139.4" cy="160" r="1.75"/>
</g>
<g stroke="#3d70ff">
<path d="M222.9 42.4l1.6 2.2l-1.6 2.2l-1.6 -2.2zM276.9 123.6l1.6 2.2l-1.6 2.2l-1.6 -2.2zM193.2 38.2l1.6 2.2l-1.6 2.2l-1.6 -2.2zM211.4 44.1l1.6 2.2l-1.6 2.2l-1.6 -2.2zM212 43.8l1.6 2.2l-1.6 2.2l-1.6 -2.2zM175.7 203.1l1.6 2.2l-1.6 2.2l-1.6 -2.2zM187.7 200.9l1.6 2.2l-1.6 2.2l-1.6 -2.2zM206.7 38.9l1.6 2.2l-1.6 2.2l-1.6 -2.2z" fill="#3d70ff" fill-opacity="0.75"/>
</g>
<g stroke="#463adc">
<path d="M176.2 202.7l1.6 2.2l-1.6 2.2l-1.6 -2.2zM175.5 202.6l1.6 2.2l-1.6 2.2l-1.6 -2.2z" fill="#463adc" fill-opacity="0.75"/>
</g>
<g stroke="#2994ed">
<path d="M191.1 197.6h3.2v3.2h-3.2zM160.7 42.3h3.2v3.2h-3.2zM130.1 156.1h3.2v3.2h-3.2zM263.1 156.7h3.2v3.2h-3.2zM228.7 35.1h3.2v3.2h-3.2zM144.8 179.5h3.2v3.2h-3.2zM232.8 43.4h3.2v3.2h-3.2zM174.9 201h3.2v3.2h-3.2zM163.9 39.2h3.2v3.2h-3.2z"/>
<path d="M160.8 177.8l1.6 2.2l-1.6 2.2l-1.6 -2.2zM161.2 41.9l1.6 2.2l-1.6 2.2l-1.6 -2.2zM199.3 31.1l1.6 2.2l-1.6 2.2l-1.6 -2.2z" fill="#2994ed" fill-opacity="0.75"/>
</g>
<g stroke="#21a3e3">
<path d="M181.5 164.4h3.2v3.2h-3.2zM154.1 164.9h4M156.1 162.9v4M202.8 197.9h3.2v3.2h-3.2zM123.3 131.6h4M125.3 129.6v4M123.9 114.8h3.2v3.2h-3.2zM180.8 203.8h3.2v3.2h-3.2zM268.4 131.6h4M270.4 129.6v4M117.2 106.7h3.2v3.2h-3.2zM151.3 176.5h4M153.3 174.5v4M200.6 35.2h3.2v3.2h-3.2zM133.8 152.7h3.2v3.2h-3.2zM143 179.1h3.2v3.2h-3.2zM160.6 41.2h3.2v3.2h-3.2zM178.7 30.5h3.2v3.2h-3.2zM262.6 148.9h3.2v3.2h-3.2zM193.3 37.9h3.2v3.2h-3.2zM177.3 163.7h3.2v3.2h-3.2zM131.1 151.1h3.2v3.2h-3.2zM118.6 137.9h4M120.6 135.9v4"/>
<path d="M170.5 37.1l1.6 2.2l-1.6 2.2l-1.6 -2.2zM181.3 202.3l1.6 2.2l-1.6 2.2l-1.6 -2.2zM165.6 40.4l1.6 2.2l-1.6 2.2l-1.6 -2.2zM234.6 51.5l1.6 2.2l-1.6 2.2l-1.6 -2.2zM274.7 108.7l1.6 2.2l-1.6 2.2l-1.6 -2.2zM153.5 177.8l1.6 2.2l-1.6 2.2l-1.6 -2.2zM187 34.1l1.6 2.2l-1.6 2.2l-1.6 -2.2zM185.7 182.3l1.6 2.2l-1.6 2.2l-1.6 -2.2zM131.3 156.8l1.6 2.2l-1.6 2.2l-1.6 -2.2z" fill="#21a3e3" fill-opacity="0.75"/>
<circle cx="266.6" cy="162.5" r="1.75"/><circle cx="227.9" cy="38.9" r="1.75"/><circle cx="185.4" cy="185.3" r="1.75"/><circle cx="210.7" cy="193.2" r="1.75"/>
</g>
<g stroke="#465efb">
<path d="M121 158h4M123 156v4"/>
<path d="M123.7 153.1l1.6 2.2l-1.6 2.2l-1.6 -2.2zM275.2 118.5l1.6 2.2l-1.6 2.2l-1.6 -2.2zM216.5 39.9l1.6 2.2l-1.6 2.2l-1.6 -2.2z" fill="#465efb" fill-opacity="0.75"/>
</g>
<g stroke="#f6f21e">
<path d="M269.6 93.8h3.2v3.2h-3.2zM180.8 192.1h3.2v3.2h-3.2z"/>
<circle cx="274.2" cy="97.7" r="1.75"/><circle cx="171.7" cy="188.5" r="1.75"/>
</g>
<g stroke="#2e83f9">
<path d="M155.1 175h4M157.1 173v4M201.6 204.6h4M203.6 202.6v4M275.9 115.5h4M277.9 113.5v4"/>
<path d="M225.2 45l1.6 2.2l-1.6 2.2l-1.6 -2.2zM276.5 114l1.6 2.2l-1.6 2.2l-1.6 -2.2zM150.4 62.2l1.6 2.2l-1.6 2.2l-1.6 -2.2zM214.2 37.4l1.6 2.2l-1.6 2.2l-1.6 -2.2zM128 151.2l1.6 2.2l-1.6 2.2l-1.6 -2.2z" fill="#2e83f9" fill-opacity="0.75"/>
</g>
<g stroke="#484cef">
<path d="M175.5 201.9l1.6 2.2l-1.6 2.2l-1.6 -2.2zM125.7 155l1.6 2.2l-1.6 2.2l-1.6 -2.2zM127.9 152.4l1.6 2.2l-1.6 2.2l-1.6 -2.2z" fill="#484cef" fill-opacity="0.75"/>
</g>
</g>
<circle cx="191.3" cy="129.4" r="117.8" fill="none" stroke="#1a1a1a" stroke-width="0.85"/>
<text x="192.3" y="7.2" font-size="11" text-anchor="middle" fill="#111" transform="rotate(0 192.3 7.2)">0°</text>
<text x="253.2" y="24.1" font-size="11" text-anchor="middle" fill="#111" transform="rotate(30 253.2 24.1)">30°E</text>
<text x="297.6" y="69.2" font-size="11" text-anchor="middle" fill="#111" transform="rotate(60 297.6 69.2)">60°E</text>
<text x="313.5" y="130.4" font-size="11" text-anchor="middle" fill="#111" transform="rotate(90 313.5 130.4)">90°E</text>
<text x="303.8" y="194.4" font-size="11" text-anchor="middle" fill="#111" transform="rotate(-60 303.8 194.4)">120°E</text>
<text x="256.3" y="241.9" font-size="11" text-anchor="middle" fill="#111" transform="rotate(-30 256.3 241.9)">150°E</text>
<text x="191.3" y="259.4" font-size="11" text-anchor="middle" fill="#111" transform="rotate(0 191.3 259.4)">180°</text>
<text x="126.3" y="241.9" font-size="11" text-anchor="middle" fill="#111" transform="rotate(30 126.3 241.9)">150°W</text>
<text x="78.8" y="194.4" font-size="11" text-anchor="middle" fill="#111" transform="rotate(60 78.8 194.4)">120°W</text>
<text x="69.2" y="128.4" font-size="11" text-anchor="middle" fill="#111" transform="rotate(-90 69.2 128.4)">90°W</text>
<text x="86" y="67.5" font-size="11" text-anchor="middle" fill="#111" transform="rotate(-60 86 67.5)">60°W</text>
<text x="131.1" y="23.1" font-size="11" text-anchor="middle" fill="#111" transform="rotate(-30 131.1 23.1)">30°W</text>
<text x="197.6" y="162.9" font-size="10.6" text-anchor="start" fill="#111">80°S</text>
<line x1="188" x2="194" y1="157.5" y2="157.5" stroke="#222" stroke-width="0.6"/>
<text x="194" y="221.3" font-size="11" text-anchor="start" fill="#111">60°S</text>
<line x1="188" x2="194" y1="216" y2="216" stroke="#222" stroke-width="0.6"/>
<rect x="288" y="215.5" width="5.2" height="4.6" fill="none" stroke="#4a94e4" stroke-width="0.7"/>
<circle cx="290.7" cy="230.7" r="3.2" fill="none" stroke="#45a0ee" stroke-width="0.7"/>
<path d="M287.6 242.8h6.2M290.7 239.7v6.2" stroke="#6a5acd" stroke-width="0.8"/>
<path d="M290.7 250.4l2.8 4.3l-2.8 4.3l-2.8 -4.3z" fill="none" stroke="#4a4ae0" stroke-width="0.7"/>
<text x="297.2" y="222.1" font-size="10.6" text-anchor="start" fill="#111">Spring</text>
<text x="297.2" y="234.2" font-size="10.6" text-anchor="start" fill="#111">Summer</text>
<text x="297.2" y="246.9" font-size="10.6" text-anchor="start" fill="#111">Autumn</text>
<text x="297.2" y="258.7" font-size="10.6" text-anchor="start" fill="#111">Winter</text>
</g>
<g id="panelB">
<rect x="363.4" y="11.1" width="263" height="235.2" fill="#2d7bae"/>
<line x1="363.4" x2="626.4" y1="89.5" y2="89.5" stroke="#3f6f93" stroke-width="0.5" opacity="0.7"/>
<line x1="363.4" x2="626.4" y1="167.9" y2="167.9" stroke="#3f6f93" stroke-width="0.5" opacity="0.7"/>
<g shape-rendering="crispEdges">
<rect x="379.18" y="182.80" width="2.68" height="2.40" fill="#f8e98f"/>
<rect x="402.85" y="168.68" width="2.68" height="2.40" fill="#f8e98f"/>
<rect x="366.03" y="196.91" width="2.68" height="2.40" fill="#f8e98f"/>
<rect x="423.89" y="161.63" width="2.68" height="2.40" fill="#fcb96e"/>
<rect x="416.00" y="168.68" width="2.68" height="2.40" fill="#f8e98f"/>
<rect x="402.85" y="185.15" width="2.68" height="2.40" fill="#f8e98f"/>
<rect x="397.59" y="175.74" width="2.68" height="2.40" fill="#f8e98f"/>
<rect x="410.74" y="171.04" width="2.68" height="2.40" fill="#f8e98f"/>
<rect x="381.81" y="175.74" width="2.68" height="2.40" fill="#f8e98f"/>
<rect x="408.11" y="185.15" width="2.68" height="2.40" fill="#f8e98f"/>
<rect x="408.11" y="187.50" width="2.68" height="2.40" fill="#f8e98f"/>
<rect x="392.33" y="185.15" width="2.68" height="2.40" fill="#f8e98f"/>
<rect x="418.63" y="163.98" width="2.68" height="2.40" fill="#f8e98f"/>
<rect x="423.89" y="163.98" width="2.68" height="2.40" fill="#f8e98f"/>
<rect x="402.85" y="175.74" width="2.68" height="2.40" fill="#f8e98f"/>
<rect x="387.07" y="178.09" width="2.68" height="2.40" fill="#f8e98f"/>
<rect x="400.22" y="189.85" width="2.68" height="2.40" fill="#f8e98f"/>
<rect x="416.00" y="187.50" width="2.68" height="2.40" fill="#f8e98f"/>
<rect x="405.48" y="163.98" width="2.68" height="2.40" fill="#f8e98f"/>
<rect x="418.63" y="173.39" width="2.68" height="2.40" fill="#f8e98f"/>
<rect x="408.11" y="168.68" width="2.68" height="2.40" fill="#f8e98f"/>
<rect x="381.81" y="182.80" width="2.68" height="2.40" fill="#f8e98f"/>
<rect x="416.00" y="173.39" width="2.68" height="2.40" fill="#fcb96e"/>
<rect x="389.70" y="173.39" width="2.68" height="2.40" fill="#f8e98f"/>
<rect x="381.81" y="189.85" width="2.68" height="2.40" fill="#f8e98f"/>
<rect x="402.85" y="173.39" width="2.68" height="2.40" fill="#f8e98f"/>
<rect x="408.11" y="161.63" width="2.68" height="2.40" fill="#f8e98f"/>
<rect x="394.96" y="194.56" width="2.68" height="2.40" fill="#f8e98f"/>
<rect x="384.44" y="180.44" width="2.68" height="2.40" fill="#f8e98f"/>
<rect x="376.55" y="182.80" width="2.68" height="2.40" fill="#f8e98f"/>
<rect x="402.85" y="163.98" width="2.68" height="2.40" fill="#f8e98f"/>
<rect x="384.44" y="189.85" width="2.68" height="2.40" fill="#f8e98f"/>
<rect x="418.63" y="171.04" width="2.68" height="2.40" fill="#fcb96e"/>
<rect x="402.85" y="171.04" width="2.68" height="2.40" fill="#fcb96e"/>
<rect x="397.59" y="168.68" width="2.68" height="2.40" fill="#f8e98f"/>
<rect x="389.70" y="178.09" width="2.68" height="2.40" fill="#f8e98f"/>
<rect x="379.18" y="175.74" width="2.68" height="2.40" fill="#f8e98f"/>
<rect x="397.59" y="173.39" width="2.68" height="2.40" fill="#f8e98f"/>
<rect x="389.70" y="171.04" width="2.68" height="2.40" fill="#f8e98f"/>
<rect x="437.04" y="166.33" width="2.68" height="2.40" fill="#f78f54"/>
<rect x="455.45" y="171.04" width="2.68" height="2.40" fill="#f8e98f"/>
<rect x="489.64" y="145.16" width="2.68" height="2.40" fill="#fcb96e"/>
<rect x="439.67" y="175.74" width="2.68" height="2.40" fill="#f78f54"/>
<rect x="471.23" y="159.28" width="2.68" height="2.40" fill="#df4f4d"/>
<rect x="476.49" y="159.28" width="2.68" height="2.40" fill="#e8624b"/>
<rect x="455.45" y="161.63" width="2.68" height="2.40" fill="#e8624b"/>
<rect x="460.71" y="161.63" width="2.68" height="2.40" fill="#f0754a"/>
<rect x="447.56" y="161.63" width="2.68" height="2.40" fill="#fcb96e"/>
<rect x="452.82" y="173.39" width="2.68" height="2.40" fill="#f78f54"/>
<rect x="476.49" y="156.92" width="2.68" height="2.40" fill="#f0754a"/>
<rect x="455.45" y="156.92" width="2.68" height="2.40" fill="#e8624b"/>
<rect x="434.41" y="173.39" width="2.68" height="2.40" fill="#f8e98f"/>
<rect x="455.45" y="152.22" width="2.68" height="2.40" fill="#fcb96e"/>
<rect x="481.75" y="147.52" width="2.68" height="2.40" fill="#f0754a"/>
<rect x="476.49" y="166.33" width="2.68" height="2.40" fill="#fcb96e"/>
<rect x="458.08" y="149.87" width="2.68" height="2.40" fill="#f78f54"/>
<rect x="471.23" y="161.63" width="2.68" height="2.40" fill="#e8624b"/>
<rect x="455.45" y="149.87" width="2.68" height="2.40" fill="#f8e98f"/>
<rect x="452.82" y="156.92" width="2.68" height="2.40" fill="#f8e98f"/>
<rect x="429.15" y="161.63" width="2.68" height="2.40" fill="#f8e98f"/>
<rect x="500.16" y="145.16" width="2.68" height="2.40" fill="#f8e98f"/>
<rect x="452.82" y="163.98" width="2.68" height="2.40" fill="#f0754a"/>
<rect x="429.15" y="175.74" width="2.68" height="2.40" fill="#f8e98f"/>
<rect x="463.34" y="159.28" width="2.68" height="2.40" fill="#e8624b"/>
<rect x="497.53" y="138.11" width="2.68" height="2.40" fill="#fcb96e"/>
<rect x="494.90" y="154.57" width="2.68" height="2.40" fill="#f78f54"/>
<rect x="465.97" y="147.52" width="2.68" height="2.40" fill="#f0754a"/>
<rect x="465.97" y="161.63" width="2.68" height="2.40" fill="#fcb96e"/>
<rect x="489.64" y="163.98" width="2.68" height="2.40" fill="#fcb96e"/>
<rect x="487.01" y="154.57" width="2.68" height="2.40" fill="#f0754a"/>
<rect x="458.08" y="156.92" width="2.68" height="2.40" fill="#f0754a"/>
<rect x="434.41" y="161.63" width="2.68" height="2.40" fill="#f8e98f"/>
<rect x="494.90" y="142.81" width="2.68" height="2.40" fill="#fcb96e"/>
<rect x="431.78" y="178.09" width="2.68" height="2.40" fill="#f8e98f"/>
<rect x="437.04" y="168.68" width="2.68" height="2.40" fill="#f78f54"/>
<rect x="479.12" y="159.28" width="2.68" height="2.40" fill="#fcb96e"/>
<rect x="471.23" y="154.57" width="2.68" height="2.40" fill="#e8624b"/>
<rect x="500.16" y="147.52" width="2.68" height="2.40" fill="#f8e98f"/>
<rect x="447.56" y="163.98" width="2.68" height="2.40" fill="#fcb96e"/>
<rect x="447.56" y="156.92" width="2.68" height="2.40" fill="#f8e98f"/>
<rect x="458.08" y="159.28" width="2.68" height="2.40" fill="#e8624b"/>
<rect x="447.56" y="159.28" width="2.68" height="2.40" fill="#fcb96e"/>
<rect x="450.19" y="161.63" width="2.68" height="2.40" fill="#fcb96e"/>
<rect x="439.67" y="173.39" width="2.68" height="2.40" fill="#f8e98f"/>
<rect x="479.12" y="161.63" width="2.68" height="2.40" fill="#f0754a"/>
<rect x="479.12" y="154.57" width="2.68" height="2.40" fill="#fcb96e"/>
<rect x="487.01" y="145.16" width="2.68" height="2.40" fill="#fcb96e"/>
<rect x="473.86" y="145.16" width="2.68" height="2.40" fill="#fcb96e"/>
<rect x="434.41" y="159.28" width="2.68" height="2.40" fill="#f8e98f"/>
<rect x="444.93" y="168.68" width="2.68" height="2.40" fill="#f78f54"/>
<rect x="473.86" y="154.57" width="2.68" height="2.40" fill="#e8624b"/>
<rect x="484.38" y="156.92" width="2.68" height="2.40" fill="#fcb96e"/>
<rect x="439.67" y="161.63" width="2.68" height="2.40" fill="#f8e98f"/>
<rect x="479.12" y="147.52" width="2.68" height="2.40" fill="#f8e98f"/>
<rect x="489.64" y="147.52" width="2.68" height="2.40" fill="#f8e98f"/>
<rect x="434.41" y="168.68" width="2.68" height="2.40" fill="#f0754a"/>
<rect x="468.60" y="159.28" width="2.68" height="2.40" fill="#f78f54"/>
<rect x="473.86" y="147.52" width="2.68" height="2.40" fill="#fcb96e"/>
<rect x="426.52" y="171.04" width="2.68" height="2.40" fill="#f8e98f"/>
<rect x="489.64" y="142.81" width="2.68" height="2.40" fill="#fcb96e"/>
<rect x="423.89" y="175.74" width="2.68" height="2.40" fill="#fcb96e"/>
<rect x="439.67" y="159.28" width="2.68" height="2.40" fill="#f78f54"/>
<rect x="465.97" y="149.87" width="2.68" height="2.40" fill="#f8e98f"/>
<rect x="452.82" y="168.68" width="2.68" height="2.40" fill="#fcb96e"/>
<rect x="479.12" y="156.92" width="2.68" height="2.40" fill="#f8e98f"/>
<rect x="468.60" y="149.87" width="2.68" height="2.40" fill="#fcb96e"/>
<rect x="460.71" y="154.57" width="2.68" height="2.40" fill="#f78f54"/>
<rect x="476.49" y="147.52" width="2.68" height="2.40" fill="#f0754a"/>
<rect x="439.67" y="166.33" width="2.68" height="2.40" fill="#f8e98f"/>
<rect x="431.78" y="161.63" width="2.68" height="2.40" fill="#f78f54"/>
<rect x="463.34" y="152.22" width="2.68" height="2.40" fill="#f8e98f"/>
<rect x="463.34" y="163.98" width="2.68" height="2.40" fill="#f78f54"/>
<rect x="471.23" y="147.52" width="2.68" height="2.40" fill="#f8e98f"/>
<rect x="468.60" y="147.52" width="2.68" height="2.40" fill="#fcb96e"/>
<rect x="468.60" y="163.98" width="2.68" height="2.40" fill="#f78f54"/>
<rect x="465.97" y="156.92" width="2.68" height="2.40" fill="#df4f4d"/>
<rect x="455.45" y="159.28" width="2.68" height="2.40" fill="#e8624b"/>
<rect x="450.19" y="152.22" width="2.68" height="2.40" fill="#f8e98f"/>
<rect x="484.38" y="152.22" width="2.68" height="2.40" fill="#fcb96e"/>
<rect x="429.15" y="168.68" width="2.68" height="2.40" fill="#f8e98f"/>
<rect x="465.97" y="168.68" width="2.68" height="2.40" fill="#fcb96e"/>
<rect x="452.82" y="161.63" width="2.68" height="2.40" fill="#f0754a"/>
<rect x="484.38" y="154.57" width="2.68" height="2.40" fill="#f0754a"/>
<rect x="500.16" y="149.87" width="2.68" height="2.40" fill="#f8e98f"/>
<rect x="471.23" y="152.22" width="2.68" height="2.40" fill="#f0754a"/>
<rect x="455.45" y="175.74" width="2.68" height="2.40" fill="#f8e98f"/>
<rect x="439.67" y="163.98" width="2.68" height="2.40" fill="#f0754a"/>
<rect x="450.19" y="171.04" width="2.68" height="2.40" fill="#fcb96e"/>
<rect x="450.19" y="166.33" width="2.68" height="2.40" fill="#f78f54"/>
<rect x="481.75" y="149.87" width="2.68" height="2.40" fill="#f78f54"/>
<rect x="452.82" y="154.57" width="2.68" height="2.40" fill="#fcb96e"/>
<rect x="476.49" y="152.22" width="2.68" height="2.40" fill="#df4f4d"/>
<rect x="494.90" y="140.46" width="2.68" height="2.40" fill="#f8e98f"/>
<rect x="426.52" y="166.33" width="2.68" height="2.40" fill="#f8e98f"/>
<rect x="481.75" y="154.57" width="2.68" height="2.40" fill="#f78f54"/>
<rect x="452.82" y="171.04" width="2.68" height="2.40" fill="#f8e98f"/>
<rect x="442.30" y="166.33" width="2.68" height="2.40" fill="#fcb96e"/>
<rect x="418.63" y="178.09" width="2.68" height="2.40" fill="#f8e98f"/>
<rect x="463.34" y="166.33" width="2.68" height="2.40" fill="#fcb96e"/>
<rect x="460.71" y="163.98" width="2.68" height="2.40" fill="#df4f4d"/>
<rect x="473.86" y="159.28" width="2.68" height="2.40" fill="#f8e98f"/>
<rect x="473.86" y="156.92" width="2.68" height="2.40" fill="#df4f4d"/>
<rect x="460.71" y="168.68" width="2.68" height="2.40" fill="#fcb96e"/>
<rect x="468.60" y="154.57" width="2.68" height="2.40" fill="#df4f4d"/>
<rect x="465.97" y="166.33" width="2.68" height="2.40" fill="#fcb96e"/>
<rect x="465.97" y="163.98" width="2.68" height="2.40" fill="#fcb96e"/>
<rect x="429.15" y="171.04" width="2.68" height="2.40" fill="#f78f54"/>
<rect x="434.41" y="166.33" width="2.68" height="2.40" fill="#f78f54"/>
<rect x="437.04" y="163.98" width="2.68" height="2.40" fill="#fcb96e"/>
<rect x="460.71" y="159.28" width="2.68" height="2.40" fill="#e8624b"/>
<rect x="497.53" y="142.81" width="2.68" height="2.40" fill="#f8e98f"/>
<rect x="450.19" y="175.74" width="2.68" height="2.40" fill="#f78f54"/>
<rect x="442.30" y="171.04" width="2.68" height="2.40" fill="#f78f54"/>
<rect x="500.16" y="154.57" width="2.68" height="2.40" fill="#f8e98f"/>
<rect x="437.04" y="175.74" width="2.68" height="2.40" fill="#f8e98f"/>
<rect x="447.56" y="149.87" width="2.68" height="2.40" fill="#f8e98f"/>
<rect x="439.67" y="171.04" width="2.68" height="2.40" fill="#f8e98f"/>
<rect x="473.86" y="171.04" width="2.68" height="2.40" fill="#f8e98f"/>
<rect x="455.45" y="154.57" width="2.68" height="2.40" fill="#fcb96e"/>
<rect x="444.93" y="159.28" width="2.68" height="2.40" fill="#f78f54"/>
<rect x="444.93" y="154.57" width="2.68" height="2.40" fill="#f8e98f"/>
<rect x="489.64" y="159.28" width="2.68" height="2.40" fill="#f8e98f"/>
<rect x="468.60" y="156.92" width="2.68" height="2.40" fill="#fcb96e"/>
<rect x="442.30" y="168.68" width="2.68" height="2.40" fill="#f78f54"/>
<rect x="444.93" y="156.92" width="2.68" height="2.40" fill="#f8e98f"/>
<rect x="447.56" y="171.04" width="2.68" height="2.40" fill="#f8e98f"/>
<rect x="481.75" y="152.22" width="2.68" height="2.40" fill="#f78f54"/>
<rect x="476.49" y="149.87" width="2.68" height="2.40" fill="#f78f54"/>
<rect x="465.97" y="159.28" width="2.68" height="2.40" fill="#df4f4d"/>
<rect x="471.23" y="156.92" width="2.68" height="2.40" fill="#f0754a"/>
<rect x="458.08" y="166.33" width="2.68" height="2.40" fill="#df4f4d"/>
<rect x="444.93" y="166.33" width="2.68" height="2.40" fill="#f78f54"/>
<rect x="468.60" y="166.33" width="2.68" height="2.40" fill="#f8e98f"/>
<rect x="494.90" y="149.87" width="2.68" height="2.40" fill="#f8e98f"/>
<rect x="421.26" y="175.74" width="2.68" height="2.40" fill="#fcb96e"/>
<rect x="426.52" y="163.98" width="2.68" height="2.40" fill="#f8e98f"/>
<rect x="450.19" y="154.57" width="2.68" height="2.40" fill="#f8e98f"/>
<rect x="434.41" y="171.04" width="2.68" height="2.40" fill="#f8e98f"/>
<rect x="450.19" y="168.68" width="2.68" height="2.40" fill="#fcb96e"/>
<rect x="479.12" y="145.16" width="2.68" height="2.40" fill="#f8e98f"/>
<rect x="460.71" y="166.33" width="2.68" height="2.40" fill="#f78f54"/>
<rect x="481.75" y="145.16" width="2.68" height="2.40" fill="#f8e98f"/>
<rect x="447.56" y="166.33" width="2.68" height="2.40" fill="#df4f4d"/>
<rect x="463.34" y="156.92" width="2.68" height="2.40" fill="#df4f4d"/>
<rect x="444.93" y="163.98" width="2.68" height="2.40" fill="#fcb96e"/>
<rect x="437.04" y="161.63" width="2.68" height="2.40" fill="#f8e98f"/>
<rect x="471.23" y="163.98" width="2.68" height="2.40" fill="#f0754a"/>
<rect x="497.53" y="154.57" width="2.68" height="2.40" fill="#f8e98f"/>
<rect x="447.56" y="173.39" width="2.68" height="2.40" fill="#fcb96e"/>
<rect x="481.75" y="163.98" width="2.68" height="2.40" fill="#fcb96e"/>
<rect x="455.45" y="166.33" width="2.68" height="2.40" fill="#f78f54"/>
<rect x="444.93" y="178.09" width="2.68" height="2.40" fill="#fcb96e"/>
<rect x="492.27" y="154.57" width="2.68" height="2.40" fill="#f8e98f"/>
<rect x="500.16" y="156.92" width="2.68" height="2.40" fill="#f8e98f"/>
<rect x="437.04" y="182.80" width="2.68" height="2.40" fill="#f8e98f"/>
<rect x="494.90" y="152.22" width="2.68" height="2.40" fill="#f8e98f"/>
<rect x="460.71" y="152.22" width="2.68" height="2.40" fill="#f8e98f"/>
<rect x="463.34" y="171.04" width="2.68" height="2.40" fill="#f0754a"/>
<rect x="458.08" y="154.57" width="2.68" height="2.40" fill="#f8e98f"/>
<rect x="442.30" y="180.44" width="2.68" height="2.40" fill="#f8e98f"/>
<rect x="444.93" y="161.63" width="2.68" height="2.40" fill="#f8e98f"/>
<rect x="487.01" y="147.52" width="2.68" height="2.40" fill="#f8e98f"/>
<rect x="460.71" y="156.92" width="2.68" height="2.40" fill="#fcb96e"/>
<rect x="487.01" y="159.28" width="2.68" height="2.40" fill="#fcb96e"/>
<rect x="484.38" y="142.81" width="2.68" height="2.40" fill="#f8e98f"/>
<rect x="468.60" y="145.16" width="2.68" height="2.40" fill="#fcb96e"/>
<rect x="468.60" y="171.04" width="2.68" height="2.40" fill="#fcb96e"/>
<rect x="450.19" y="159.28" width="2.68" height="2.40" fill="#f78f54"/>
<rect x="431.78" y="173.39" width="2.68" height="2.40" fill="#f78f54"/>
<rect x="484.38" y="145.16" width="2.68" height="2.40" fill="#fcb96e"/>
<rect x="471.23" y="166.33" width="2.68" height="2.40" fill="#f8e98f"/>
<rect x="426.52" y="175.74" width="2.68" height="2.40" fill="#f8e98f"/>
<rect x="450.19" y="149.87" width="2.68" height="2.40" fill="#f8e98f"/>
<rect x="502.79" y="154.57" width="2.68" height="2.40" fill="#f8e98f"/>
<rect x="487.01" y="152.22" width="2.68" height="2.40" fill="#fcb96e"/>
<rect x="465.97" y="154.57" width="2.68" height="2.40" fill="#f8e98f"/>
<rect x="450.19" y="163.98" width="2.68" height="2.40" fill="#fcb96e"/>
<rect x="431.78" y="166.33" width="2.68" height="2.40" fill="#fcb96e"/>
<rect x="434.41" y="163.98" width="2.68" height="2.40" fill="#f8e98f"/>
<rect x="463.34" y="161.63" width="2.68" height="2.40" fill="#fcb96e"/>
<rect x="442.30" y="163.98" width="2.68" height="2.40" fill="#fcb96e"/>
<rect x="429.15" y="180.44" width="2.68" height="2.40" fill="#fcb96e"/>
<rect x="434.41" y="156.92" width="2.68" height="2.40" fill="#fcb96e"/>
<rect x="476.49" y="168.68" width="2.68" height="2.40" fill="#fcb96e"/>
<rect x="489.64" y="161.63" width="2.68" height="2.40" fill="#f8e98f"/>
<rect x="442.30" y="161.63" width="2.68" height="2.40" fill="#fcb96e"/>
<rect x="429.15" y="173.39" width="2.68" height="2.40" fill="#f8e98f"/>
<rect x="463.34" y="168.68" width="2.68" height="2.40" fill="#f8e98f"/>
<rect x="473.86" y="166.33" width="2.68" height="2.40" fill="#f8e98f"/>
<rect x="423.89" y="166.33" width="2.68" height="2.40" fill="#fcb96e"/>
<rect x="450.19" y="156.92" width="2.68" height="2.40" fill="#f8e98f"/>
<rect x="463.34" y="173.39" width="2.68" height="2.40" fill="#f78f54"/>
<rect x="484.38" y="159.28" width="2.68" height="2.40" fill="#f8e98f"/>
<rect x="468.60" y="152.22" width="2.68" height="2.40" fill="#fcb96e"/>
<rect x="455.45" y="163.98" width="2.68" height="2.40" fill="#fcb96e"/>
<rect x="476.49" y="163.98" width="2.68" height="2.40" fill="#f8e98f"/>
<rect x="444.93" y="171.04" width="2.68" height="2.40" fill="#f8e98f"/>
<rect x="502.79" y="142.81" width="2.68" height="2.40" fill="#f8e98f"/>
<rect x="484.38" y="149.87" width="2.68" height="2.40" fill="#f78f54"/>
<rect x="492.27" y="156.92" width="2.68" height="2.40" fill="#f8e98f"/>
<rect x="437.04" y="171.04" width="2.68" height="2.40" fill="#f78f54"/>
<rect x="468.60" y="140.46" width="2.68" height="2.40" fill="#f8e98f"/>
<rect x="460.71" y="173.39" width="2.68" height="2.40" fill="#f8e98f"/>
<rect x="481.75" y="168.68" width="2.68" height="2.40" fill="#f8e98f"/>
<rect x="476.49" y="140.46" width="2.68" height="2.40" fill="#fcb96e"/>
<rect x="484.38" y="166.33" width="2.68" height="2.40" fill="#f8e98f"/>
<rect x="481.75" y="156.92" width="2.68" height="2.40" fill="#f8e98f"/>
<rect x="437.04" y="159.28" width="2.68" height="2.40" fill="#fcb96e"/>
<rect x="423.89" y="178.09" width="2.68" height="2.40" fill="#f8e98f"/>
<rect x="476.49" y="154.57" width="2.68" height="2.40" fill="#fcb96e"/>
<rect x="452.82" y="166.33" width="2.68" height="2.40" fill="#f78f54"/>
<rect x="494.90" y="145.16" width="2.68" height="2.40" fill="#f8e98f"/>
<rect x="458.08" y="163.98" width="2.68" height="2.40" fill="#f78f54"/>
<rect x="476.49" y="161.63" width="2.68" height="2.40" fill="#fcb96e"/>
<rect x="434.41" y="175.74" width="2.68" height="2.40" fill="#f8e98f"/>
<rect x="452.82" y="149.87" width="2.68" height="2.40" fill="#f8e98f"/>
<rect x="463.34" y="145.16" width="2.68" height="2.40" fill="#f8e98f"/>
<rect x="447.56" y="168.68" width="2.68" height="2.40" fill="#fcb96e"/>
<rect x="481.75" y="159.28" width="2.68" height="2.40" fill="#f78f54"/>
<rect x="479.12" y="152.22" width="2.68" height="2.40" fill="#f8e98f"/>
<rect x="497.53" y="147.52" width="2.68" height="2.40" fill="#f8e98f"/>
<rect x="492.27" y="159.28" width="2.68" height="2.40" fill="#fcb96e"/>
<rect x="487.01" y="149.87" width="2.68" height="2.40" fill="#fcb96e"/>
<rect x="489.64" y="156.92" width="2.68" height="2.40" fill="#f8e98f"/>
<rect x="492.27" y="142.81" width="2.68" height="2.40" fill="#f8e98f"/>
<rect x="492.27" y="149.87" width="2.68" height="2.40" fill="#f8e98f"/>
<rect x="492.27" y="140.46" width="2.68" height="2.40" fill="#f8e98f"/>
<rect x="468.60" y="161.63" width="2.68" height="2.40" fill="#f8e98f"/>
<rect x="460.71" y="147.52" width="2.68" height="2.40" fill="#f8e98f"/>
<rect x="489.64" y="154.57" width="2.68" height="2.40" fill="#f8e98f"/>
<rect x="463.34" y="154.57" width="2.68" height="2.40" fill="#f8e98f"/>
<rect x="458.08" y="161.63" width="2.68" height="2.40" fill="#f8e98f"/>
<rect x="423.89" y="168.68" width="2.68" height="2.40" fill="#f8e98f"/>
<rect x="458.08" y="168.68" width="2.68" height="2.40" fill="#f8e98f"/>
<rect x="489.64" y="149.87" width="2.68" height="2.40" fill="#fcb96e"/>
<rect x="426.52" y="185.15" width="2.68" height="2.40" fill="#f8e98f"/>
<rect x="497.53" y="135.76" width="2.68" height="2.40" fill="#f8e98f"/>
<rect x="481.75" y="140.46" width="2.68" height="2.40" fill="#f8e98f"/>
<rect x="423.89" y="173.39" width="2.68" height="2.40" fill="#fcb96e"/>
<rect x="458.08" y="152.22" width="2.68" height="2.40" fill="#fcb96e"/>
<rect x="492.27" y="152.22" width="2.68" height="2.40" fill="#f8e98f"/>
<rect x="489.64" y="140.46" width="2.68" height="2.40" fill="#f8e98f"/>
<rect x="460.71" y="171.04" width="2.68" height="2.40" fill="#f8e98f"/>
<rect x="447.56" y="154.57" width="2.68" height="2.40" fill="#f8e98f"/>
<rect x="444.93" y="152.22" width="2.68" height="2.40" fill="#f8e98f"/>
<rect x="479.12" y="149.87" width="2.68" height="2.40" fill="#f8e98f"/>
<rect x="423.89" y="180.44" width="2.68" height="2.40" fill="#f8e98f"/>
<rect x="492.27" y="138.11" width="2.68" height="2.40" fill="#f8e98f"/>
<rect x="431.78" y="171.04" width="2.68" height="2.40" fill="#f8e98f"/>
<rect x="458.08" y="173.39" width="2.68" height="2.40" fill="#f8e98f"/>
<rect x="510.68" y="140.46" width="2.68" height="2.40" fill="#f8e98f"/>
<rect x="510.68" y="154.57" width="2.68" height="2.40" fill="#f8e98f"/>
<rect x="447.56" y="194.56" width="2.68" height="2.40" fill="#f8e98f"/>
</g>
<g clip-path="url(#clipB)">
<line x1="363.4" y1="195.2" x2="626.4" y2="104.6" stroke="#16164e" stroke-width="1.5"/>
<line x1="359.9" y1="179.8" x2="620.7" y2="89.9" stroke="#f5121c" stroke-width="1.9" stroke-dasharray="9.3 5.6"/>
<line x1="359.9" y1="213.3" x2="620.7" y2="123.4" stroke="#f5121c" stroke-width="1.9" stroke-dasharray="9.3 5.6"/>
</g>
<line x1="363.4" x2="363.4" y1="10.7" y2="246.8" stroke="#5a5a5a" stroke-width="1.1"/>
<line x1="362.9" x2="626.7" y1="246.3" y2="246.3" stroke="#5a5a5a" stroke-width="1.1"/>
<line x1="363.4" x2="369.2" y1="246.3" y2="246.3" stroke="#444" stroke-width="0.8"/>
<line x1="363.4" x2="363.4" y1="246.3" y2="241.1" stroke="#444" stroke-width="0.8"/>
<text x="349.7" y="249.9" font-size="8.3" text-anchor="middle" fill="#222">10</text>
<text x="360" y="256.2" font-size="8.3" text-anchor="middle" fill="#222">10</text>
<line x1="363.4" x2="366.4" y1="230.6" y2="230.6" stroke="#444" stroke-width="0.7"/>
<line x1="380.9" x2="380.9" y1="246.3" y2="243.5" stroke="#444" stroke-width="0.7"/>
<line x1="363.4" x2="366.4" y1="214.9" y2="214.9" stroke="#444" stroke-width="0.7"/>
<line x1="398.5" x2="398.5" y1="246.3" y2="243.5" stroke="#444" stroke-width="0.7"/>
<line x1="363.4" x2="366.4" y1="199.3" y2="199.3" stroke="#444" stroke-width="0.7"/>
<line x1="416" x2="416" y1="246.3" y2="243.5" stroke="#444" stroke-width="0.7"/>
<line x1="363.4" x2="366.4" y1="183.6" y2="183.6" stroke="#444" stroke-width="0.7"/>
<line x1="433.5" x2="433.5" y1="246.3" y2="243.5" stroke="#444" stroke-width="0.7"/>
<line x1="363.4" x2="369.2" y1="167.9" y2="167.9" stroke="#444" stroke-width="0.8"/>
<line x1="451.1" x2="451.1" y1="246.3" y2="241.1" stroke="#444" stroke-width="0.8"/>
<text x="349.7" y="171.5" font-size="8.3" text-anchor="middle" fill="#222">100</text>
<text x="448.5" y="256.2" font-size="8.3" text-anchor="middle" fill="#222">100</text>
<line x1="363.4" x2="366.4" y1="152.2" y2="152.2" stroke="#444" stroke-width="0.7"/>
<line x1="468.6" x2="468.6" y1="246.3" y2="243.5" stroke="#444" stroke-width="0.7"/>
<line x1="363.4" x2="366.4" y1="136.5" y2="136.5" stroke="#444" stroke-width="0.7"/>
<line x1="486.1" x2="486.1" y1="246.3" y2="243.5" stroke="#444" stroke-width="0.7"/>
<line x1="363.4" x2="366.4" y1="120.9" y2="120.9" stroke="#444" stroke-width="0.7"/>
<line x1="503.7" x2="503.7" y1="246.3" y2="243.5" stroke="#444" stroke-width="0.7"/>
<line x1="363.4" x2="366.4" y1="105.2" y2="105.2" stroke="#444" stroke-width="0.7"/>
<line x1="521.2" x2="521.2" y1="246.3" y2="243.5" stroke="#444" stroke-width="0.7"/>
<line x1="363.4" x2="369.2" y1="89.5" y2="89.5" stroke="#444" stroke-width="0.8"/>
<line x1="538.7" x2="538.7" y1="246.3" y2="241.1" stroke="#444" stroke-width="0.8"/>
<text x="349.7" y="93.1" font-size="8.3" text-anchor="middle" fill="#222">1000</text>
<text x="536.1" y="256.2" font-size="8.3" text-anchor="middle" fill="#222">1000</text>
<line x1="363.4" x2="366.4" y1="73.8" y2="73.8" stroke="#444" stroke-width="0.7"/>
<line x1="556.3" x2="556.3" y1="246.3" y2="243.5" stroke="#444" stroke-width="0.7"/>
<line x1="363.4" x2="366.4" y1="58.1" y2="58.1" stroke="#444" stroke-width="0.7"/>
<line x1="573.8" x2="573.8" y1="246.3" y2="243.5" stroke="#444" stroke-width="0.7"/>
<line x1="363.4" x2="366.4" y1="42.5" y2="42.5" stroke="#444" stroke-width="0.7"/>
<line x1="591.3" x2="591.3" y1="246.3" y2="243.5" stroke="#444" stroke-width="0.7"/>
<line x1="363.4" x2="366.4" y1="26.8" y2="26.8" stroke="#444" stroke-width="0.7"/>
<line x1="608.9" x2="608.9" y1="246.3" y2="243.5" stroke="#444" stroke-width="0.7"/>
<line x1="363.4" x2="369.2" y1="11.1" y2="11.1" stroke="#444" stroke-width="0.8"/>
<line x1="626.4" x2="626.4" y1="246.3" y2="241.1" stroke="#444" stroke-width="0.8"/>
<text x="349.7" y="14.5" font-size="8.3" text-anchor="middle" fill="#222">10000</text>
<text x="623.8" y="256.2" font-size="8.3" text-anchor="middle" fill="#222">10000</text>
<text x="336.2" y="129.7" font-size="11.6" text-anchor="middle" fill="#111" transform="rotate(-90 336.2 129.7)">CALIOP NPP rate (mgC m<tspan dy="-5" font-size="78%">-2</tspan><tspan dy="5"> d</tspan><tspan dy="-5" font-size="78%">-1</tspan><tspan dy="5">)</tspan></text>
<text x="494.7" y="272.1" font-size="11.6" text-anchor="middle" fill="#111">Argo NPP rate (mgC m<tspan dy="-5" font-size="78%">-2</tspan><tspan dy="5"> d</tspan><tspan dy="-5" font-size="78%">-1</tspan><tspan dy="5">)</tspan></text>
<text x="373.5" y="37.6" font-size="15.3" text-anchor="start" fill="#111">(b)</text>
<text x="516.8" y="220.1" font-size="11.5" text-anchor="start" fill="#000">R = 0.79</text>
<text x="516.8" y="233.9" font-size="11.5" text-anchor="start" fill="#000">MAPD = 15.6%</text>
<rect x="646.2" y="11.1" width="12.8" height="235.2" fill="url(#gspec)" stroke="#666" stroke-width="0.7"/>
<line x1="656.4" x2="659" y1="123.7" y2="123.7" stroke="#333" stroke-width="0.6"/>
<text x="662.6" y="126.3" font-size="6.6" fill="#222">10<tspan dy="-2.6" font-size="5.2">0</tspan></text>
<text x="662.6" y="246.9" font-size="6.6" fill="#222">10<tspan dy="-2.6" font-size="5.2">-1</tspan></text>
<line x1="657.6" x2="659" y1="209.4" y2="209.4" stroke="#333" stroke-width="0.4"/>
<line x1="657.6" x2="659" y1="187.8" y2="187.8" stroke="#333" stroke-width="0.4"/>
<line x1="657.6" x2="659" y1="172.5" y2="172.5" stroke="#333" stroke-width="0.4"/>
<line x1="657.6" x2="659" y1="160.6" y2="160.6" stroke="#333" stroke-width="0.4"/>
<line x1="657.6" x2="659" y1="150.9" y2="150.9" stroke="#333" stroke-width="0.4"/>
<line x1="657.6" x2="659" y1="142.7" y2="142.7" stroke="#333" stroke-width="0.4"/>
<line x1="657.6" x2="659" y1="135.6" y2="135.6" stroke="#333" stroke-width="0.4"/>
<line x1="657.6" x2="659" y1="129.3" y2="129.3" stroke="#333" stroke-width="0.4"/>
<line x1="657.6" x2="659" y1="86.8" y2="86.8" stroke="#333" stroke-width="0.4"/>
<line x1="657.6" x2="659" y1="65.2" y2="65.2" stroke="#333" stroke-width="0.4"/>
<line x1="657.6" x2="659" y1="49.9" y2="49.9" stroke="#333" stroke-width="0.4"/>
<line x1="657.6" x2="659" y1="38" y2="38" stroke="#333" stroke-width="0.4"/>
<line x1="657.6" x2="659" y1="28.3" y2="28.3" stroke="#333" stroke-width="0.4"/>
<line x1="657.6" x2="659" y1="20.1" y2="20.1" stroke="#333" stroke-width="0.4"/>
<line x1="657.6" x2="659" y1="13" y2="13" stroke="#333" stroke-width="0.4"/>
<text x="686.1" y="128.7" font-size="7.7" text-anchor="middle" fill="#222" transform="rotate(-90 686.1 128.7)">Bin counts</text>
</g>
<g id="panelC">
<rect x="31.6" y="489.3" width="12.7" height="26.4" fill="#2a186c"/>
<rect x="31.6" y="463.2" width="12.7" height="26.4" fill="#2432a0"/>
<rect x="31.6" y="437.1" width="12.7" height="26.4" fill="#135f8e"/>
<rect x="31.6" y="411" width="12.7" height="26.4" fill="#2b788a"/>
<rect x="31.6" y="384.8" width="12.7" height="26.4" fill="#3f9282"/>
<rect x="31.6" y="358.7" width="12.7" height="26.4" fill="#52b07c"/>
<rect x="31.6" y="332.6" width="12.7" height="26.4" fill="#7ecb6a"/>
<rect x="31.6" y="306.5" width="12.7" height="26.4" fill="#c1dc60"/>
<rect x="31.6" y="280.4" width="12.7" height="26.4" fill="#fbef98"/>
<rect x="31.6" y="280.4" width="12.7" height="235" fill="none" stroke="#666" stroke-width="0.7"/>
<line x1="31.6" x2="33.8" y1="500.7" y2="500.7" stroke="#222" stroke-width="0.6"/>
<text x="26.1" y="504.1" font-size="9.3" text-anchor="middle" fill="#222">1</text>
<line x1="31.6" x2="33.8" y1="471.3" y2="471.3" stroke="#222" stroke-width="0.6"/>
<text x="26.1" y="474.7" font-size="9.3" text-anchor="middle" fill="#222">2</text>
<line x1="31.6" x2="33.8" y1="442" y2="442" stroke="#222" stroke-width="0.6"/>
<text x="26.1" y="445.4" font-size="9.3" text-anchor="middle" fill="#222">3</text>
<line x1="31.6" x2="33.8" y1="412.6" y2="412.6" stroke="#222" stroke-width="0.6"/>
<text x="26.1" y="416" font-size="9.3" text-anchor="middle" fill="#222">4</text>
<line x1="31.6" x2="33.8" y1="383.2" y2="383.2" stroke="#222" stroke-width="0.6"/>
<text x="26.1" y="386.6" font-size="9.3" text-anchor="middle" fill="#222">5</text>
<line x1="31.6" x2="33.8" y1="353.8" y2="353.8" stroke="#222" stroke-width="0.6"/>
<text x="26.1" y="357.2" font-size="9.3" text-anchor="middle" fill="#222">6</text>
<line x1="31.6" x2="33.8" y1="324.5" y2="324.5" stroke="#222" stroke-width="0.6"/>
<text x="26.1" y="327.9" font-size="9.3" text-anchor="middle" fill="#222">7</text>
<line x1="31.6" x2="33.8" y1="295.1" y2="295.1" stroke="#222" stroke-width="0.6"/>
<text x="26.1" y="298.5" font-size="9.3" text-anchor="middle" fill="#222">8</text>
<text x="19" y="398.5" font-size="9.5" text-anchor="middle" fill="#222" transform="rotate(-90 19 398.5)">Observation frequency</text>
<text x="65.5" y="290.6" font-size="15.3" text-anchor="start" fill="#111">(c)</text>
<circle cx="191.3" cy="398.5" r="117.8" fill="#2a186c"/>
<g clip-path="url(#clipC)">
<path d="M136.4 484.6L129.1 479.5L138.5 467.4L144.7 471.7Z" fill="#135f8e" stroke="#135f8e" stroke-width="0.3"/>
<path d="M129.1 479.5L122.3 473.8L132.7 462.5L138.5 467.4Z" fill="#52b07c" stroke="#52b07c" stroke-width="0.3"/>
<path d="M122.3 473.8L116 467.5L127.3 457.1L132.7 462.5Z" fill="#135f8e" stroke="#135f8e" stroke-width="0.3"/>
<path d="M116 467.5L110.3 460.7L122.4 451.3L127.3 457.1Z" fill="#2432a0" stroke="#2432a0" stroke-width="0.3"/>
<path d="M110.3 336.3L116 329.5L127.3 339.9L122.4 345.7Z" fill="#2b788a" stroke="#2b788a" stroke-width="0.3"/>
<path d="M116 329.5L122.3 323.2L132.7 334.5L127.3 339.9Z" fill="#135f8e" stroke="#135f8e" stroke-width="0.3"/>
<path d="M122.3 323.2L129.1 317.5L138.5 329.6L132.7 334.5Z" fill="#2432a0" stroke="#2432a0" stroke-width="0.3"/>
<path d="M129.1 317.5L136.4 312.4L144.7 325.3L138.5 329.6Z" fill="#52b07c" stroke="#52b07c" stroke-width="0.3"/>
<path d="M136.4 312.4L144.1 307.9L151.2 321.5L144.7 325.3Z" fill="#135f8e" stroke="#135f8e" stroke-width="0.3"/>
<path d="M152.2 304.1L160.6 301.1L165.2 315.7L158.1 318.3Z" fill="#2b788a" stroke="#2b788a" stroke-width="0.3"/>
<path d="M160.6 301.1L169.2 298.8L172.5 313.8L165.2 315.7Z" fill="#135f8e" stroke="#135f8e" stroke-width="0.3"/>
<path d="M169.2 298.8L178 297.2L180 312.5L172.5 313.8Z" fill="#2b788a" stroke="#2b788a" stroke-width="0.3"/>
<path d="M178 297.2L186.8 296.5L187.5 311.8L180 312.5Z" fill="#fbef98" stroke="#fbef98" stroke-width="0.3"/>
<path d="M186.8 296.5L195.8 296.5L204.6 297.2L202.6 312.5L195.1 311.8L187.5 311.8Z" fill="#2b788a" stroke="#2b788a" stroke-width="0.3"/>
<path d="M204.6 297.2L213.4 298.8L210.1 313.8L202.6 312.5Z" fill="#135f8e" stroke="#135f8e" stroke-width="0.3"/>
<path d="M213.4 298.8L222 301.1L217.4 315.7L210.1 313.8Z" fill="#7ecb6a" stroke="#7ecb6a" stroke-width="0.3"/>
<path d="M222 301.1L230.4 304.1L224.5 318.3L217.4 315.7Z" fill="#2432a0" stroke="#2432a0" stroke-width="0.3"/>
<path d="M230.4 304.1L238.5 307.9L231.4 321.5L224.5 318.3Z" fill="#135f8e" stroke="#135f8e" stroke-width="0.3"/>
<path d="M246.2 312.4L253.5 317.5L244.1 329.6L237.9 325.3Z" fill="#2b788a" stroke="#2b788a" stroke-width="0.3"/>
<path d="M253.5 317.5L260.3 323.2L249.9 334.5L244.1 329.6Z" fill="#135f8e" stroke="#135f8e" stroke-width="0.3"/>
<path d="M266.6 329.5L272.3 336.3L260.2 345.7L255.3 339.9Z" fill="#135f8e" stroke="#135f8e" stroke-width="0.3"/>
<path d="M281.9 351.3L285.7 359.4L271.5 365.3L268.3 358.4Z" fill="#52b07c" stroke="#52b07c" stroke-width="0.3"/>
<path d="M285.7 359.4L288.7 367.8L274.1 372.4L271.5 365.3Z" fill="#135f8e" stroke="#135f8e" stroke-width="0.3"/>
<path d="M288.7 367.8L291 376.4L276 379.7L274.1 372.4Z" fill="#2432a0" stroke="#2432a0" stroke-width="0.3"/>
<path d="M291 376.4L292.6 385.2L277.3 387.2L276 379.7Z" fill="#135f8e" stroke="#135f8e" stroke-width="0.3"/>
<path d="M292.6 385.2L293.3 394L278 394.7L277.3 387.2Z" fill="#c1dc60" stroke="#c1dc60" stroke-width="0.3"/>
<path d="M293.3 394L293.3 403L292.6 411.8L277.3 409.8L278 402.3L278 394.7Z" fill="#2432a0" stroke="#2432a0" stroke-width="0.3"/>
<path d="M292.6 411.8L291 420.6L276 417.3L277.3 409.8Z" fill="#135f8e" stroke="#135f8e" stroke-width="0.3"/>
<path d="M285.7 437.6L281.9 445.7L268.3 438.6L271.5 431.7Z" fill="#135f8e" stroke="#135f8e" stroke-width="0.3"/>
<path d="M186.2 280.7L196.4 280.7L195.8 296.5L186.8 296.5Z" fill="#2432a0" stroke="#2432a0" stroke-width="0.3"/>
<path d="M187.5 485.2L180 484.5L181.9 469.7L188.2 470.2Z" fill="#135f8e" stroke="#135f8e" stroke-width="0.3"/>
<path d="M180 484.5L172.5 483.2L165.2 481.3L169.7 467L175.8 468.6L181.9 469.7Z" fill="#2b788a" stroke="#2b788a" stroke-width="0.3"/>
<path d="M165.2 481.3L158.1 478.7L151.2 475.5L158.1 462.2L163.8 464.8L169.7 467Z" fill="#2432a0" stroke="#2432a0" stroke-width="0.3"/>
<path d="M144.7 471.7L138.5 467.4L132.7 462.5L142.8 451.4L147.6 455.5L152.7 459.1Z" fill="#52b07c" stroke="#52b07c" stroke-width="0.3"/>
<path d="M132.7 462.5L127.3 457.1L138.4 447L142.8 451.4Z" fill="#c1dc60" stroke="#c1dc60" stroke-width="0.3"/>
<path d="M127.3 457.1L122.4 451.3L134.3 442.2L138.4 447Z" fill="#52b07c" stroke="#52b07c" stroke-width="0.3"/>
<path d="M122.4 451.3L118.1 445.1L130.7 437.1L134.3 442.2Z" fill="#2432a0" stroke="#2432a0" stroke-width="0.3"/>
<path d="M111.1 365.3L114.3 358.4L127.6 365.3L125 371Z" fill="#135f8e" stroke="#135f8e" stroke-width="0.3"/>
<path d="M118.1 351.9L122.4 345.7L134.3 354.8L130.7 359.9Z" fill="#52b07c" stroke="#52b07c" stroke-width="0.3"/>
<path d="M195.1 311.8L202.6 312.5L200.7 327.3L194.4 326.8Z" fill="#2432a0" stroke="#2432a0" stroke-width="0.3"/>
<path d="M237.9 325.3L244.1 329.6L235 341.5L229.9 337.9Z" fill="#2432a0" stroke="#2432a0" stroke-width="0.3"/>
<path d="M277.3 387.2L278 394.7L263 395.4L262.5 389.1Z" fill="#2432a0" stroke="#2432a0" stroke-width="0.3"/>
<path d="M278 394.7L278 402.3L263 401.6L263 395.4Z" fill="#135f8e" stroke="#135f8e" stroke-width="0.3"/>
<path d="M277.3 409.8L276 417.3L261.4 414L262.5 407.9Z" fill="#2432a0" stroke="#2432a0" stroke-width="0.3"/>
<path d="M271.5 431.7L268.3 438.6L255 431.7L257.6 426Z" fill="#2432a0" stroke="#2432a0" stroke-width="0.3"/>
<path d="M268.3 438.6L264.5 445.1L260.2 451.3L248.3 442.2L251.9 437.1L255 431.7Z" fill="#135f8e" stroke="#135f8e" stroke-width="0.3"/>
<path d="M255.3 457.1L249.9 462.5L239.8 451.4L244.2 447Z" fill="#2432a0" stroke="#2432a0" stroke-width="0.3"/>
<path d="M231.4 475.5L224.5 478.7L218.8 464.8L224.5 462.2Z" fill="#2432a0" stroke="#2432a0" stroke-width="0.3"/>
<path d="M217.4 481.3L210.1 483.2L206.8 468.6L212.9 467Z" fill="#2b788a" stroke="#2b788a" stroke-width="0.3"/>
<path d="M122.8 420.1L121.2 414L135.5 410.9L136.8 415.7Z" fill="#2432a0" stroke="#2432a0" stroke-width="0.3"/>
</g>
<path d="M190.2 344.8L193.8 343.3L197.3 342.5L200.8 342.8L204.3 343.6L207.8 344.8L211.3 346.6L214.2 347.7L217.1 348.7L220.6 349.5L224.1 348.7L225.3 350.1L225.9 352.4L227.6 353.6L230.5 352.4L233.5 352.2L236.4 353.6L238.7 355.3L240.5 357.3L242.8 356.5L245.1 356.8L246.9 358.8L247.5 361.7L246.9 364.7L248.1 367.6L249.2 371.1L250.4 374.6L249.8 376.9L247.5 378.7L245.1 379L243.7 380.4L245.7 381.6L246.9 383.9L248.1 386.3L251 388L253.9 390.3L256.2 393.3L257.8 396.8L258.2 400.3L258.6 404.9L258.2 410.2L257.4 390.2L258.2 394.9L258.6 399.5L258.2 404.2L258 408.9L257.8 412.4L257.1 415.9L255.7 418.8L254.5 421.7L254.2 424.7L252.7 427L251 429.3L249.2 431.1L248.4 433.4L247.5 435.7L245.7 438.1L243.4 439.3L242.2 442.2L240.5 445.1L238.1 447.4L235.2 449.2L232.3 450.3L228.8 450.9L225.3 450.7L222.4 451.2L219.4 452.1L216.5 452.7L213.6 452.3L210.7 452.7L208.9 451.5L206.6 451.2L204.3 450.9L201.9 450.3L200.2 449.2L199.8 446.8L200.8 444.5L202.5 442.2L203.3 439.3L202.9 436.3L201.9 433.4L201.3 430.5L200.5 427.6L199.4 424.7L198.2 421.7L196.7 419.4L194.9 417.6L192.6 416.1L190.2 415.3L196.2 417.1L192.7 415.3L189.7 414.1L187.4 412.4L185.7 410.1L183.9 410.1L182.7 413.6L181.6 417.1L179.8 419.4L178.1 420.3L176.9 421.7L177.5 425.2L178.1 428.7L177.7 431.7L176.3 431.1L175.1 429.3L173.4 429.9L171.1 431.1L168.1 430.5L165.2 429.3L162.3 428.7L160.5 427L159.4 424.1L157.6 422.3L154.7 422.9L152.4 423.5L151.5 420.8L152.7 418.2L151.5 415.3L150 413.6L150.8 411.2L149.4 408.9L148.3 406.6L146.5 408.3L145.4 406.6L145 404L143.6 404.2L141.9 407.1L140.3 406L141 403.6L142.4 400.3L142.8 398.6L143.1 394.2L143.7 390.7L142.4 387.2L139.5 386.3L137.4 383.7L135.7 380.2L133.2 376.9L131.7 376.4L130.1 375.5L129.1 373.4L128.4 371.1L127.7 368.2L127 365.2L126.6 362.3L126.3 359.4L126.8 356.5L127.7 354.3L128.7 354.5L128 355.7L127.5 358.2L127.8 361.1L128.4 364.1L129.2 367L130.3 369.9L131 372.8L131.6 374.6L132.5 374L134.3 373.2L136.6 372.5L138.9 372L141.9 372.8L144.8 373.4L147.7 374L150 375.2L152.4 376.9L154.7 379.3L156.2 381.6L157.6 383.9L158.8 382.2L160 379.8L162.3 379L165.2 378.1L167.5 376.9L169.9 375.2L171.6 372.8L172.2 370.5L172.6 367.6L173.4 364.7L174.2 361.7L174.9 358.2L175.7 355.3L177.5 353L179.2 350.6L181 348.3L182.7 346.6L184.5 346L185.7 344.4L187.4 345.1L188.6 343L190.3 344.2L195 343L200.2 341.9Z" fill="#cfcfcf" stroke="#0b0b10" stroke-width="0.6" stroke-linejoin="round"/>
<g clip-path="url(#clipC)"><path d="M79.1 353.8L80.9 354.6L83.2 356L84.8 356.6L86.5 357.8L88.5 357L90.4 356.6L92.6 357.2L94.8 357.1L96.3 355.9L97.8 354.8L98.3 356.6L98.5 358.6L98.8 360L97.7 361L96.9 362.5L96.1 364.4L94.7 364.9L93.3 366.3L91.7 367.4L90.3 368.1L88.7 369L87.7 369.2L85.9 369.4L84 369L82.3 369.1L80.8 368.8L79.1 368.6L78 368.1L75.5 368.6L73.5 368.5L72.8 366.7L72.8 364.9L72.6 363.3L72.3 361.7L72 360.3L71.3 358.5L72.7 357.7L73.7 356.6L75.1 356.3L76.4 354.9L77.8 354.5Z" fill="#cfcfcf" stroke="#0b0b10" stroke-width="0.5"/>
<path d="M-104.2 -38.2l2.2 0.6l1.4 2l-1 3.4l-1.8 2.2l-1 -1.6l1.2 -2.6l-1.4 -1.6z" transform="translate(191.3 398.5)" fill="#2a186c" stroke="#0b0b10" stroke-width="0.4"/></g>
<ellipse cx="94.6" cy="340.9" rx="1.5" ry="2.9" transform="rotate(22 94.6 340.9)" fill="#cfcfcf" stroke="#0b0b10" stroke-width="0.5"/>
<path d="M127 314.6h3M129 339.2h2.6M122.6 355.5v4.2" stroke="#0b0b10" stroke-width="1"/>
<path d="M134.5 378.3L139.8 378.7L145 380L146.1 383.5L140.7 385.9" fill="none" stroke="#f2f2f2" stroke-width="0.7" transform="translate(0.2 0.2)"/>
<circle cx="136.6" cy="383.7" r="0.7" fill="#f5f5f5"/>
<g stroke="#15151c" stroke-width="0.45" fill="none">
<circle cx="191.3" cy="398.5" r="28.3"/>
<circle cx="191.3" cy="398.5" r="67.2"/>
<line x1="191.5" y1="372.8" x2="191.5" y2="278.4"/>
<line x1="204.2" y1="376.2" x2="251.4" y2="294.4"/>
<line x1="213.6" y1="385.6" x2="295.4" y2="338.4"/>
<line x1="217" y1="398.5" x2="311.5" y2="398.5"/>
<line x1="213.6" y1="411.4" x2="295.4" y2="458.6"/>
<line x1="204.2" y1="420.8" x2="251.4" y2="502.6"/>
<line x1="191.5" y1="424.2" x2="191.5" y2="518.6"/>
<line x1="178.4" y1="420.8" x2="131.2" y2="502.6"/>
<line x1="169" y1="411.4" x2="87.2" y2="458.6"/>
<line x1="165.6" y1="398.5" x2="71.2" y2="398.5"/>
<line x1="169" y1="385.6" x2="87.2" y2="338.4"/>
<line x1="178.4" y1="376.2" x2="131.2" y2="294.4"/>
</g>
<g stroke="#15151c" stroke-width="0.45" fill="none">
<line x1="191.5" y1="398.5" x2="191.5" y2="426.8"/>
<line x1="187" x2="192" y1="426.4" y2="426.4"/><line x1="187" x2="192" y1="465.6" y2="465.6"/>
</g>
<circle cx="191.3" cy="398.5" r="117.8" fill="none" stroke="#111" stroke-width="1"/>
<path d="M182.9 303.6l2.2 3.8h-4.4z" fill="#f020c8"/>
<text x="192.3" y="276.4" font-size="11" text-anchor="middle" fill="#111" transform="rotate(0 192.3 276.4)">0°</text>
<text x="253.2" y="293.2" font-size="11" text-anchor="middle" fill="#111" transform="rotate(30 253.2 293.2)">30°E</text>
<text x="297.6" y="338.3" font-size="11" text-anchor="middle" fill="#111" transform="rotate(60 297.6 338.3)">60°E</text>
<text x="313.5" y="399.5" font-size="11" text-anchor="middle" fill="#111" transform="rotate(90 313.5 399.5)">90°E</text>
<text x="303.8" y="463.5" font-size="11" text-anchor="middle" fill="#111" transform="rotate(-60 303.8 463.5)">120°E</text>
<text x="256.3" y="511" font-size="11" text-anchor="middle" fill="#111" transform="rotate(-30 256.3 511)">150°E</text>
<text x="191.3" y="528.5" font-size="11" text-anchor="middle" fill="#111" transform="rotate(0 191.3 528.5)">180°</text>
<text x="126.3" y="511" font-size="11" text-anchor="middle" fill="#111" transform="rotate(30 126.3 511)">150°W</text>
<text x="78.8" y="463.5" font-size="11" text-anchor="middle" fill="#111" transform="rotate(60 78.8 463.5)">120°W</text>
<text x="69.2" y="397.5" font-size="11" text-anchor="middle" fill="#111" transform="rotate(-90 69.2 397.5)">90°W</text>
<text x="86" y="336.6" font-size="11" text-anchor="middle" fill="#111" transform="rotate(-60 86 336.6)">60°W</text>
<text x="131.1" y="292.2" font-size="11" text-anchor="middle" fill="#111" transform="rotate(-30 131.1 292.2)">30°W</text>
<text x="197.5" y="431.7" font-size="10.6" text-anchor="start" fill="#111">80°S</text>
<text x="192.4" y="468.3" font-size="7.6" text-anchor="start" fill="#0b0b10" font-style="italic">33.60'</text>
</g>
<g id="panelD">
<rect x="59.7" y="562.5" width="32.8" height="221.9" fill="#fafcf8" stroke="#2a2a2a" stroke-width="0.8"/>
<rect x="92.5" y="549.4" width="32.8" height="235" fill="#fafcf8" stroke="#2a2a2a" stroke-width="0.8"/>
<rect x="125.4" y="549.4" width="32.8" height="235" fill="#fafcf8" stroke="#2a2a2a" stroke-width="0.8"/>
<rect x="158.2" y="666.9" width="32.8" height="117.5" fill="#fafcf8" stroke="#2a2a2a" stroke-width="0.8"/>
<rect x="191.1" y="693" width="32.8" height="91.4" fill="#fafcf8" stroke="#2a2a2a" stroke-width="0.8"/>
<rect x="223.9" y="771.3" width="32.8" height="13.1" fill="#fafcf8" stroke="#2a2a2a" stroke-width="0.8"/>
<rect x="256.7" y="758.3" width="32.8" height="26.1" fill="#fafcf8" stroke="#2a2a2a" stroke-width="0.8"/>
<rect x="289.6" y="771.3" width="32.8" height="13.1" fill="#fafcf8" stroke="#2a2a2a" stroke-width="0.8"/>
<rect x="59.7" y="549.4" width="262.7" height="235" fill="none" stroke="#333" stroke-width="0.9"/>
<line x1="59.7" x2="62.5" y1="784.4" y2="784.4" stroke="#333" stroke-width="0.7"/>
<line x1="322.4" x2="319.6" y1="784.4" y2="784.4" stroke="#333" stroke-width="0.7"/>
<text x="55.2" y="787.9" font-size="10.2" text-anchor="end" fill="#1a1a1a">0</text>
<line x1="59.7" x2="62.5" y1="758.3" y2="758.3" stroke="#333" stroke-width="0.7"/>
<line x1="322.4" x2="319.6" y1="758.3" y2="758.3" stroke="#333" stroke-width="0.7"/>
<text x="55.2" y="761.8" font-size="10.2" text-anchor="end" fill="#1a1a1a">2</text>
<line x1="59.7" x2="62.5" y1="732.2" y2="732.2" stroke="#333" stroke-width="0.7"/>
<line x1="322.4" x2="319.6" y1="732.2" y2="732.2" stroke="#333" stroke-width="0.7"/>
<text x="55.2" y="735.7" font-size="10.2" text-anchor="end" fill="#1a1a1a">4</text>
<line x1="59.7" x2="62.5" y1="706.1" y2="706.1" stroke="#333" stroke-width="0.7"/>
<line x1="322.4" x2="319.6" y1="706.1" y2="706.1" stroke="#333" stroke-width="0.7"/>
<text x="55.2" y="709.6" font-size="10.2" text-anchor="end" fill="#1a1a1a">6</text>
<line x1="59.7" x2="62.5" y1="680" y2="680" stroke="#333" stroke-width="0.7"/>
<line x1="322.4" x2="319.6" y1="680" y2="680" stroke="#333" stroke-width="0.7"/>
<text x="55.2" y="683.5" font-size="10.2" text-anchor="end" fill="#1a1a1a">8</text>
<line x1="59.7" x2="62.5" y1="653.8" y2="653.8" stroke="#333" stroke-width="0.7"/>
<line x1="322.4" x2="319.6" y1="653.8" y2="653.8" stroke="#333" stroke-width="0.7"/>
<text x="55.2" y="657.3" font-size="10.2" text-anchor="end" fill="#1a1a1a">10</text>
<line x1="59.7" x2="62.5" y1="627.7" y2="627.7" stroke="#333" stroke-width="0.7"/>
<line x1="322.4" x2="319.6" y1="627.7" y2="627.7" stroke="#333" stroke-width="0.7"/>
<text x="55.2" y="631.2" font-size="10.2" text-anchor="end" fill="#1a1a1a">12</text>
<line x1="59.7" x2="62.5" y1="601.6" y2="601.6" stroke="#333" stroke-width="0.7"/>
<line x1="322.4" x2="319.6" y1="601.6" y2="601.6" stroke="#333" stroke-width="0.7"/>
<text x="55.2" y="605.1" font-size="10.2" text-anchor="end" fill="#1a1a1a">14</text>
<line x1="59.7" x2="62.5" y1="575.5" y2="575.5" stroke="#333" stroke-width="0.7"/>
<line x1="322.4" x2="319.6" y1="575.5" y2="575.5" stroke="#333" stroke-width="0.7"/>
<text x="55.2" y="579" font-size="10.2" text-anchor="end" fill="#1a1a1a">16</text>
<line x1="59.7" x2="62.5" y1="549.4" y2="549.4" stroke="#333" stroke-width="0.7"/>
<line x1="322.4" x2="319.6" y1="549.4" y2="549.4" stroke="#333" stroke-width="0.7"/>
<text x="55.2" y="552.9" font-size="10.2" text-anchor="end" fill="#1a1a1a">18</text>
<line x1="76.1" x2="76.1" y1="784.4" y2="781.8" stroke="#333" stroke-width="0.7"/>
<line x1="76.1" x2="76.1" y1="549.4" y2="552" stroke="#333" stroke-width="0.7"/>
<text x="76.1" y="799" font-size="10.2" text-anchor="middle" fill="#1a1a1a">1</text>
<line x1="109" x2="109" y1="784.4" y2="781.8" stroke="#333" stroke-width="0.7"/>
<line x1="109" x2="109" y1="549.4" y2="552" stroke="#333" stroke-width="0.7"/>
<text x="109" y="799" font-size="10.2" text-anchor="middle" fill="#1a1a1a">2</text>
<line x1="141.8" x2="141.8" y1="784.4" y2="781.8" stroke="#333" stroke-width="0.7"/>
<line x1="141.8" x2="141.8" y1="549.4" y2="552" stroke="#333" stroke-width="0.7"/>
<text x="141.8" y="799" font-size="10.2" text-anchor="middle" fill="#1a1a1a">3</text>
<line x1="174.6" x2="174.6" y1="784.4" y2="781.8" stroke="#333" stroke-width="0.7"/>
<line x1="174.6" x2="174.6" y1="549.4" y2="552" stroke="#333" stroke-width="0.7"/>
<text x="174.6" y="799" font-size="10.2" text-anchor="middle" fill="#1a1a1a">4</text>
<line x1="207.5" x2="207.5" y1="784.4" y2="781.8" stroke="#333" stroke-width="0.7"/>
<line x1="207.5" x2="207.5" y1="549.4" y2="552" stroke="#333" stroke-width="0.7"/>
<text x="207.5" y="799" font-size="10.2" text-anchor="middle" fill="#1a1a1a">5</text>
<line x1="240.3" x2="240.3" y1="784.4" y2="781.8" stroke="#333" stroke-width="0.7"/>
<line x1="240.3" x2="240.3" y1="549.4" y2="552" stroke="#333" stroke-width="0.7"/>
<text x="240.3" y="799" font-size="10.2" text-anchor="middle" fill="#1a1a1a">6</text>
<line x1="273.1" x2="273.1" y1="784.4" y2="781.8" stroke="#333" stroke-width="0.7"/>
<line x1="273.1" x2="273.1" y1="549.4" y2="552" stroke="#333" stroke-width="0.7"/>
<text x="273.1" y="799" font-size="10.2" text-anchor="middle" fill="#1a1a1a">7</text>
<line x1="306" x2="306" y1="784.4" y2="781.8" stroke="#333" stroke-width="0.7"/>
<line x1="306" x2="306" y1="549.4" y2="552" stroke="#333" stroke-width="0.7"/>
<text x="306" y="799" font-size="10.2" text-anchor="middle" fill="#1a1a1a">8</text>
<text x="190.7" y="811.6" font-size="11.4" text-anchor="middle" fill="#111">Observation frequency during winter</text>
<text x="39.2" y="667" font-size="11.2" text-anchor="middle" fill="#111" transform="rotate(-90 39.2 667)">Grid counts</text>
<text x="66.4" y="579.5" font-size="15.3" text-anchor="start" fill="#111">(d)</text>
</g>
<g id="panelE">
<line x1="407.9" x2="407.9" y1="280.3" y2="784.7" stroke="#e6e6e6" stroke-width="0.8"/>
<line x1="451.6" x2="451.6" y1="280.3" y2="784.7" stroke="#e6e6e6" stroke-width="0.8"/>
<line x1="495.3" x2="495.3" y1="280.3" y2="784.7" stroke="#e6e6e6" stroke-width="0.8"/>
<line x1="539" x2="539" y1="280.3" y2="784.7" stroke="#e6e6e6" stroke-width="0.8"/>
<line x1="582.7" x2="582.7" y1="280.3" y2="784.7" stroke="#e6e6e6" stroke-width="0.8"/>
<line x1="626.4" x2="626.4" y1="280.3" y2="784.7" stroke="#e6e6e6" stroke-width="0.8"/>
<line x1="364.2" x2="626.4" y1="751.1" y2="751.1" stroke="#e4e4e4" stroke-width="0.7" stroke-dasharray="1.6 1.4"/>
<line x1="364.2" x2="626.4" y1="717.4" y2="717.4" stroke="#e4e4e4" stroke-width="0.7" stroke-dasharray="1.6 1.4"/>
<line x1="364.2" x2="626.4" y1="683.8" y2="683.8" stroke="#e4e4e4" stroke-width="0.7" stroke-dasharray="1.6 1.4"/>
<line x1="364.2" x2="626.4" y1="650.2" y2="650.2" stroke="#e4e4e4" stroke-width="0.7" stroke-dasharray="1.6 1.4"/>
<line x1="364.2" x2="626.4" y1="616.6" y2="616.6" stroke="#e4e4e4" stroke-width="0.7" stroke-dasharray="1.6 1.4"/>
<line x1="364.2" x2="626.4" y1="582.9" y2="582.9" stroke="#e4e4e4" stroke-width="0.7" stroke-dasharray="1.6 1.4"/>
<line x1="364.2" x2="626.4" y1="549.3" y2="549.3" stroke="#e4e4e4" stroke-width="0.7" stroke-dasharray="1.6 1.4"/>
<line x1="364.2" x2="626.4" y1="515.7" y2="515.7" stroke="#e4e4e4" stroke-width="0.7" stroke-dasharray="1.6 1.4"/>
<line x1="364.2" x2="626.4" y1="482.1" y2="482.1" stroke="#e4e4e4" stroke-width="0.7" stroke-dasharray="1.6 1.4"/>
<line x1="364.2" x2="626.4" y1="448.4" y2="448.4" stroke="#e4e4e4" stroke-width="0.7" stroke-dasharray="1.6 1.4"/>
<line x1="364.2" x2="626.4" y1="414.8" y2="414.8" stroke="#e4e4e4" stroke-width="0.7" stroke-dasharray="1.6 1.4"/>
<line x1="364.2" x2="626.4" y1="381.2" y2="381.2" stroke="#e4e4e4" stroke-width="0.7" stroke-dasharray="1.6 1.4"/>
<line x1="364.2" x2="626.4" y1="347.6" y2="347.6" stroke="#e4e4e4" stroke-width="0.7" stroke-dasharray="1.6 1.4"/>
<line x1="364.2" x2="626.4" y1="313.9" y2="313.9" stroke="#e4e4e4" stroke-width="0.7" stroke-dasharray="1.6 1.4"/>
<line x1="364.2" x2="626.4" y1="280.3" y2="280.3" stroke="#e6e6e6" stroke-width="0.7"/>
<line x1="364.2" y1="720.5" x2="626.4" y2="372.3" stroke="#f01010" stroke-width="1.3"/>
<line x1="364.2" y1="688.1" x2="626.4" y2="432.3" stroke="#1010f0" stroke-width="1.3"/>
<rect x="404.7" y="573.7" width="6.4" height="6.4" fill="#ee1111" stroke="#8a8f9c" stroke-width="0.7"/>
<rect x="448.4" y="651" width="6.4" height="6.4" fill="#ee1111" stroke="#8a8f9c" stroke-width="0.7"/>
<rect x="492.1" y="621.8" width="6.4" height="6.4" fill="#ee1111" stroke="#8a8f9c" stroke-width="0.7"/>
<rect x="623.2" y="328.2" width="6.4" height="6.4" fill="#ee1111" stroke="#8a8f9c" stroke-width="0.7"/>
<circle cx="364.2" cy="753.1" r="4.5" fill="#0a0aee" stroke="#9a6a7a" stroke-width="0.6"/>
<circle cx="407.9" cy="592.7" r="4.5" fill="#0a0aee" stroke="#9a6a7a" stroke-width="0.6"/>
<circle cx="451.6" cy="655.9" r="4.5" fill="#0a0aee" stroke="#9a6a7a" stroke-width="0.6"/>
<circle cx="495.3" cy="559.4" r="4.5" fill="#0a0aee" stroke="#9a6a7a" stroke-width="0.6"/>
<circle cx="539" cy="346.5" r="4.5" fill="#0a0aee" stroke="#9a6a7a" stroke-width="0.6"/>
<circle cx="582.7" cy="486.8" r="4.5" fill="#0a0aee" stroke="#9a6a7a" stroke-width="0.6"/>
<circle cx="626.4" cy="529.1" r="4.5" fill="#0a0aee" stroke="#9a6a7a" stroke-width="0.6"/>
<line x1="364.2" x2="364.2" y1="280.3" y2="785.2" stroke="#707070" stroke-width="1.2"/>
<line x1="363.7" x2="626.8" y1="784.7" y2="784.7" stroke="#707070" stroke-width="1.1"/>
<line x1="364.2" x2="369.7" y1="784.7" y2="784.7" stroke="#555" stroke-width="0.8"/>
<text x="359.6" y="788.3" font-size="10.6" text-anchor="end" fill="#1a1a1a">50</text>
<line x1="364.2" x2="369.7" y1="616.6" y2="616.6" stroke="#555" stroke-width="0.8"/>
<text x="359.6" y="620.2" font-size="10.6" text-anchor="end" fill="#1a1a1a">100</text>
<line x1="364.2" x2="369.7" y1="448.4" y2="448.4" stroke="#555" stroke-width="0.8"/>
<text x="359.6" y="452" font-size="10.6" text-anchor="end" fill="#1a1a1a">150</text>
<line x1="364.2" x2="369.7" y1="280.3" y2="280.3" stroke="#555" stroke-width="0.8"/>
<text x="359.6" y="284.9" font-size="10.6" text-anchor="end" fill="#1a1a1a">200</text>
<line x1="364.2" x2="364.2" y1="784.7" y2="779.3" stroke="#555" stroke-width="0.8"/>
<text x="364.2" y="798.8" font-size="10.4" text-anchor="middle" fill="#1a1a1a">2016</text>
<line x1="407.9" x2="407.9" y1="784.7" y2="779.3" stroke="#555" stroke-width="0.8"/>
<text x="407.9" y="798.8" font-size="10.4" text-anchor="middle" fill="#1a1a1a">2017</text>
<line x1="451.6" x2="451.6" y1="784.7" y2="779.3" stroke="#555" stroke-width="0.8"/>
<text x="451.6" y="798.8" font-size="10.4" text-anchor="middle" fill="#1a1a1a">2018</text>
<line x1="495.3" x2="495.3" y1="784.7" y2="779.3" stroke="#555" stroke-width="0.8"/>
<text x="495.3" y="798.8" font-size="10.4" text-anchor="middle" fill="#1a1a1a">2019</text>
<line x1="539" x2="539" y1="784.7" y2="779.3" stroke="#555" stroke-width="0.8"/>
<text x="539" y="798.8" font-size="10.4" text-anchor="middle" fill="#1a1a1a">2020</text>
<line x1="582.7" x2="582.7" y1="784.7" y2="779.3" stroke="#555" stroke-width="0.8"/>
<text x="582.7" y="798.8" font-size="10.4" text-anchor="middle" fill="#1a1a1a">2021</text>
<line x1="626.4" x2="626.4" y1="784.7" y2="779.3" stroke="#555" stroke-width="0.8"/>
<text x="626.4" y="798.8" font-size="10.4" text-anchor="middle" fill="#1a1a1a">2022</text>
<text x="495.3" y="812.2" font-size="10.8" text-anchor="middle" fill="#111">Year</text>
<text x="337" y="532" font-size="11.35" text-anchor="middle" fill="#111" transform="rotate(-90 337 532)">Winter NPP rate (mgC m<tspan dy="-4.6" font-size="78%">-2</tspan><tspan dy="4.6"> d</tspan><tspan dy="-4.6" font-size="78%">-1</tspan><tspan dy="4.6">)</tspan></text>
<text x="368.3" y="300" font-size="15.3" text-anchor="start" fill="#111">(e)</text>
<rect x="521.6" y="697.8" width="99.9" height="66.4" fill="#fff" stroke="#333" stroke-width="0.9"/>
<rect x="550.5" y="713.7" width="6" height="6" fill="#ee1111" stroke="#5878b0" stroke-width="0.7"/>
<circle cx="553.5" cy="746.4" r="4" fill="#0a0aee" stroke="#c05a6a" stroke-width="0.6"/>
<text x="560" y="720" font-size="9.2" text-anchor="start" fill="#111">Argo</text>
<text x="560" y="749.6" font-size="9.2" text-anchor="start" fill="#111">CALIOP</text>
</g>
</svg></body></html>
